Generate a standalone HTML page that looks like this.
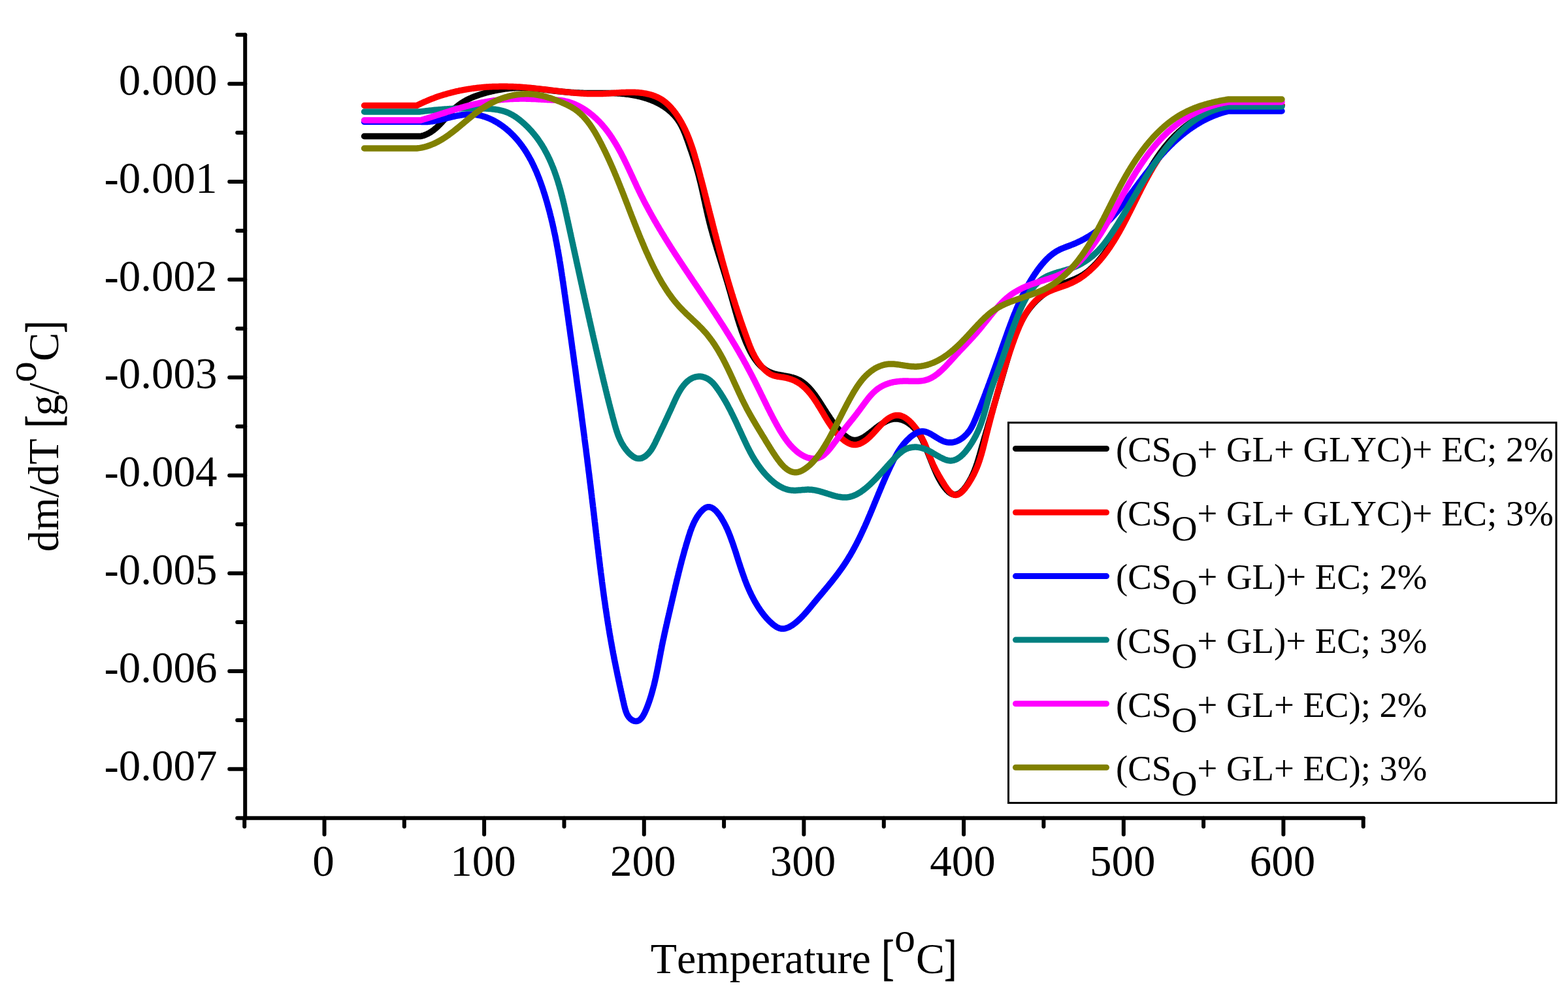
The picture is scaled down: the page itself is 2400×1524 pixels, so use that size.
<!DOCTYPE html>
<html><head><meta charset="utf-8"><style>
html,body{margin:0;padding:0;background:#fff;}
svg{display:block;}
text{font-family:"Liberation Serif","Times New Roman",serif;fill:#000;font-kerning:none;}
.tl{font-size:67px;}
.lg{font-size:54.7px;}
.br{font-size:67px;stroke:#000;stroke-width:0.8px;}
</style></head><body>
<svg width="2400" height="1524" viewBox="0 0 2400 1524" xmlns="http://www.w3.org/2000/svg">
<rect width="2400" height="1524" fill="#fff"/>
<g fill="none" stroke-width="9.5" stroke-linecap="round" stroke-linejoin="round">
<path d="M557.5,208.5 L644.0,208.5 L644.0,208.5 L645.5,208.1 L647.0,207.7 L648.5,207.3 L649.9,206.8 L651.3,206.2 L652.7,205.6 L654.1,205.0 L655.4,204.3 L656.7,203.6 L658.0,202.9 L659.3,202.1 L660.5,201.3 L661.7,200.4 L662.9,199.6 L664.1,198.7 L665.3,197.7 L666.4,196.8 L667.5,195.8 L668.7,194.8 L669.8,193.8 L670.9,192.7 L671.9,191.7 L673.0,190.6 L674.1,189.5 L675.1,188.4 L676.2,187.3 L677.2,186.1 L678.2,185.0 L679.3,183.9 L680.3,182.7 L681.3,181.6 L682.3,180.4 L683.4,179.3 L684.4,178.1 L685.4,177.0 L686.4,175.8 L687.4,174.7 L688.5,173.5 L689.5,172.4 L690.6,171.3 L691.6,170.2 L692.7,169.1 L693.8,168.1 L694.8,167.0 L695.9,166.0 L697.0,165.0 L698.2,164.0 L699.3,163.0 L700.4,162.1 L701.6,161.1 L702.8,160.2 L704.0,159.4 L705.2,158.5 L706.4,157.7 L707.7,156.9 L708.9,156.1 L710.2,155.4 L711.4,154.6 L712.7,153.9 L714.0,153.2 L715.3,152.5 L716.7,151.9 L718.0,151.2 L719.3,150.6 L720.7,150.0 L722.0,149.4 L723.4,148.8 L724.8,148.3 L726.2,147.7 L727.5,147.2 L728.9,146.7 L730.3,146.2 L731.8,145.7 L733.2,145.2 L734.6,144.8 L736.0,144.3 L737.4,143.9 L738.9,143.4 L740.3,143.0 L741.7,142.6 L743.2,142.2 L744.6,141.8 L746.1,141.4 L747.5,141.0 L749.0,140.6 L750.4,140.3 L751.9,139.9 L753.3,139.6 L754.8,139.3 L756.3,138.9 L757.7,138.6 L759.2,138.3 L760.7,138.0 L762.1,137.7 L763.6,137.5 L765.1,137.2 L766.6,137.0 L768.1,136.7 L769.5,136.5 L771.0,136.3 L772.5,136.1 L774.0,135.9 L775.5,135.7 L777.0,135.5 L778.5,135.4 L780.0,135.2 L781.5,135.1 L782.9,135.0 L784.4,134.8 L785.9,134.7 L787.4,134.7 L788.9,134.6 L790.4,134.5 L791.9,134.5 L793.4,134.4 L795.0,134.4 L796.5,134.4 L798.0,134.4 L799.5,134.4 L801.0,134.4 L802.5,134.5 L804.0,134.5 L805.5,134.6 L807.0,134.7 L808.5,134.7 L810.0,134.8 L811.5,134.9 L813.0,135.1 L814.5,135.2 L816.0,135.3 L817.5,135.5 L819.1,135.6 L820.6,135.7 L822.1,135.9 L823.6,136.1 L825.1,136.2 L826.6,136.4 L828.1,136.6 L829.6,136.7 L831.1,136.9 L832.6,137.1 L834.1,137.3 L835.6,137.5 L837.1,137.6 L838.6,137.8 L840.1,138.0 L841.6,138.2 L843.1,138.4 L844.6,138.5 L846.1,138.7 L847.5,138.9 L849.0,139.0 L850.5,139.2 L852.0,139.4 L853.5,139.5 L855.0,139.7 L856.5,139.8 L858.0,140.0 L859.4,140.1 L860.9,140.3 L862.4,140.4 L863.9,140.5 L865.4,140.7 L866.8,140.8 L868.3,140.9 L869.8,141.0 L871.3,141.2 L872.8,141.3 L874.3,141.4 L875.7,141.5 L877.2,141.6 L878.7,141.7 L880.2,141.8 L881.6,141.9 L883.1,141.9 L884.6,142.0 L886.1,142.1 L887.6,142.2 L889.0,142.2 L890.5,142.3 L892.0,142.3 L893.5,142.4 L895.0,142.4 L896.5,142.4 L897.9,142.5 L899.4,142.5 L900.9,142.5 L902.4,142.5 L903.9,142.5 L905.4,142.5 L906.8,142.5 L908.3,142.5 L909.8,142.5 L911.3,142.5 L912.8,142.5 L914.3,142.5 L915.8,142.5 L917.3,142.4 L918.8,142.4 L920.3,142.4 L921.8,142.4 L923.3,142.4 L924.8,142.4 L926.3,142.4 L927.8,142.4 L929.3,142.4 L930.8,142.4 L932.3,142.4 L933.8,142.4 L935.3,142.5 L936.8,142.5 L938.3,142.5 L939.9,142.6 L941.4,142.7 L942.9,142.7 L944.4,142.8 L945.9,142.9 L947.5,143.0 L949.0,143.1 L950.5,143.2 L952.0,143.4 L953.5,143.5 L955.1,143.6 L956.6,143.8 L958.1,144.0 L959.6,144.2 L961.1,144.4 L962.7,144.6 L964.2,144.8 L965.7,145.0 L967.2,145.3 L968.7,145.5 L970.2,145.8 L971.7,146.1 L973.2,146.4 L974.7,146.7 L976.2,147.0 L977.6,147.3 L979.1,147.7 L980.6,148.0 L982.0,148.4 L983.5,148.8 L985.0,149.2 L986.4,149.7 L987.8,150.1 L989.3,150.5 L990.7,151.0 L992.1,151.5 L993.5,152.0 L994.9,152.5 L996.3,153.0 L997.7,153.6 L999.1,154.2 L1000.5,154.7 L1001.8,155.3 L1003.2,156.0 L1004.5,156.6 L1005.8,157.2 L1007.1,157.9 L1008.5,158.6 L1009.8,159.3 L1011.0,160.0 L1012.3,160.8 L1013.6,161.5 L1014.8,162.3 L1016.1,163.1 L1017.3,163.9 L1018.5,164.8 L1019.7,165.6 L1020.9,166.5 L1022.1,167.4 L1023.2,168.3 L1024.4,169.3 L1025.5,170.2 L1026.6,171.2 L1027.7,172.2 L1028.7,173.2 L1029.8,174.3 L1030.8,175.3 L1031.8,176.4 L1032.8,177.5 L1033.7,178.6 L1034.7,179.7 L1035.5,180.8 L1036.4,181.9 L1037.3,183.1 L1038.1,184.3 L1038.9,185.5 L1039.6,186.7 L1040.4,187.9 L1041.1,189.1 L1041.8,190.4 L1042.5,191.6 L1043.2,192.9 L1043.8,194.2 L1044.5,195.5 L1045.1,196.8 L1045.7,198.1 L1046.3,199.4 L1046.8,200.8 L1047.4,202.1 L1048.0,203.5 L1048.5,204.8 L1049.1,206.2 L1049.6,207.6 L1050.1,209.0 L1050.6,210.4 L1051.1,211.8 L1051.7,213.2 L1052.2,214.7 L1052.7,216.1 L1053.2,217.6 L1053.7,219.0 L1054.2,220.5 L1054.7,221.9 L1055.2,223.4 L1055.7,224.8 L1056.2,226.3 L1056.7,227.8 L1057.2,229.3 L1057.8,230.8 L1058.3,232.3 L1058.8,233.8 L1059.3,235.3 L1059.8,236.8 L1060.3,238.3 L1060.8,239.8 L1061.2,241.3 L1061.7,242.8 L1062.2,244.3 L1062.7,245.8 L1063.2,247.3 L1063.6,248.8 L1064.1,250.3 L1064.6,251.8 L1065.0,253.3 L1065.5,254.8 L1065.9,256.3 L1066.4,257.8 L1066.8,259.3 L1067.2,260.8 L1067.7,262.3 L1068.1,263.8 L1068.5,265.3 L1068.9,266.8 L1069.3,268.3 L1069.7,269.8 L1070.1,271.3 L1070.4,272.7 L1070.8,274.2 L1071.2,275.7 L1071.5,277.1 L1071.9,278.6 L1072.3,280.1 L1072.6,281.5 L1073.0,283.0 L1073.3,284.5 L1073.6,285.9 L1074.0,287.4 L1074.3,288.8 L1074.6,290.3 L1075.0,291.7 L1075.3,293.2 L1075.6,294.6 L1075.9,296.1 L1076.3,297.5 L1076.6,299.0 L1076.9,300.4 L1077.2,301.8 L1077.5,303.3 L1077.8,304.7 L1078.1,306.2 L1078.5,307.6 L1078.8,309.0 L1079.1,310.5 L1079.4,311.9 L1079.7,313.3 L1080.0,314.8 L1080.3,316.2 L1080.6,317.6 L1081.0,319.1 L1081.3,320.5 L1081.6,321.9 L1081.9,323.3 L1082.2,324.8 L1082.6,326.2 L1082.9,327.6 L1083.2,329.1 L1083.5,330.5 L1083.9,331.9 L1084.2,333.3 L1084.6,334.8 L1084.9,336.2 L1085.3,337.6 L1085.6,339.1 L1086.0,340.5 L1086.3,341.9 L1086.7,343.3 L1087.1,344.8 L1087.4,346.2 L1087.8,347.6 L1088.2,349.1 L1088.6,350.5 L1089.0,351.9 L1089.4,353.4 L1089.8,354.8 L1090.2,356.2 L1090.6,357.7 L1091.0,359.1 L1091.4,360.5 L1091.8,362.0 L1092.2,363.4 L1092.6,364.8 L1093.0,366.3 L1093.4,367.7 L1093.9,369.2 L1094.3,370.6 L1094.7,372.0 L1095.2,373.5 L1095.6,374.9 L1096.0,376.3 L1096.5,377.8 L1096.9,379.2 L1097.3,380.7 L1097.8,382.1 L1098.2,383.5 L1098.7,385.0 L1099.1,386.4 L1099.6,387.8 L1100.0,389.3 L1100.5,390.7 L1100.9,392.2 L1101.4,393.6 L1101.8,395.0 L1102.3,396.5 L1102.7,397.9 L1103.2,399.4 L1103.6,400.8 L1104.1,402.2 L1104.5,403.7 L1105.0,405.1 L1105.4,406.6 L1105.9,408.0 L1106.3,409.5 L1106.8,410.9 L1107.2,412.3 L1107.7,413.8 L1108.1,415.2 L1108.6,416.7 L1109.0,418.1 L1109.5,419.5 L1109.9,421.0 L1110.3,422.4 L1110.8,423.9 L1111.2,425.3 L1111.7,426.7 L1112.1,428.2 L1112.5,429.6 L1113.0,431.1 L1113.4,432.5 L1113.8,434.0 L1114.3,435.4 L1114.7,436.8 L1115.1,438.3 L1115.5,439.7 L1115.9,441.2 L1116.3,442.6 L1116.8,444.0 L1117.2,445.5 L1117.6,446.9 L1118.0,448.4 L1118.4,449.8 L1118.8,451.2 L1119.2,452.7 L1119.6,454.1 L1120.0,455.6 L1120.4,457.0 L1120.8,458.4 L1121.2,459.9 L1121.6,461.3 L1122.0,462.7 L1122.4,464.2 L1122.8,465.6 L1123.2,467.1 L1123.6,468.5 L1124.0,469.9 L1124.4,471.4 L1124.8,472.8 L1125.2,474.2 L1125.6,475.7 L1126.0,477.1 L1126.5,478.6 L1126.9,480.0 L1127.3,481.4 L1127.7,482.9 L1128.1,484.3 L1128.6,485.7 L1129.0,487.2 L1129.4,488.6 L1129.9,490.0 L1130.3,491.5 L1130.8,492.9 L1131.2,494.3 L1131.7,495.8 L1132.1,497.2 L1132.6,498.6 L1133.1,500.0 L1133.6,501.5 L1134.1,502.9 L1134.5,504.3 L1135.0,505.8 L1135.5,507.2 L1136.0,508.6 L1136.6,510.1 L1137.1,511.5 L1137.6,512.9 L1138.2,514.3 L1138.7,515.8 L1139.2,517.2 L1139.8,518.6 L1140.4,520.0 L1140.9,521.5 L1141.5,522.9 L1142.1,524.3 L1142.7,525.7 L1143.3,527.1 L1144.0,528.5 L1144.6,529.9 L1145.2,531.3 L1145.9,532.7 L1146.6,534.1 L1147.2,535.5 L1147.9,536.8 L1148.6,538.2 L1149.3,539.5 L1150.1,540.9 L1150.8,542.2 L1151.6,543.5 L1152.4,544.8 L1153.2,546.0 L1154.0,547.3 L1154.8,548.5 L1155.6,549.7 L1156.5,550.9 L1157.4,552.1 L1158.3,553.2 L1159.2,554.4 L1160.1,555.5 L1161.0,556.5 L1162.0,557.6 L1163.0,558.6 L1164.0,559.6 L1165.0,560.6 L1166.1,561.5 L1167.2,562.4 L1168.3,563.3 L1169.4,564.2 L1170.5,565.0 L1171.7,565.8 L1172.9,566.5 L1174.1,567.3 L1175.3,567.9 L1176.6,568.6 L1177.9,569.2 L1179.2,569.8 L1180.5,570.3 L1181.9,570.8 L1183.3,571.2 L1184.7,571.7 L1186.1,572.1 L1187.6,572.4 L1189.0,572.8 L1190.5,573.1 L1192.0,573.4 L1193.5,573.7 L1195.0,574.0 L1196.5,574.3 L1198.0,574.5 L1199.5,574.8 L1201.1,575.1 L1202.6,575.3 L1204.1,575.6 L1205.6,575.9 L1207.1,576.2 L1208.6,576.5 L1210.1,576.9 L1211.6,577.3 L1213.0,577.6 L1214.5,578.1 L1215.9,578.5 L1217.3,579.0 L1218.7,579.5 L1220.1,580.1 L1221.4,580.7 L1222.7,581.3 L1224.0,582.0 L1225.3,582.7 L1226.5,583.5 L1227.7,584.3 L1228.9,585.1 L1230.1,586.0 L1231.3,586.9 L1232.4,587.8 L1233.5,588.8 L1234.6,589.8 L1235.7,590.8 L1236.8,591.8 L1237.9,592.9 L1238.9,594.0 L1239.9,595.1 L1240.9,596.3 L1241.9,597.4 L1242.9,598.6 L1243.8,599.8 L1244.8,601.0 L1245.7,602.2 L1246.7,603.4 L1247.6,604.7 L1248.5,605.9 L1249.4,607.2 L1250.3,608.5 L1251.2,609.8 L1252.0,611.1 L1252.9,612.3 L1253.8,613.6 L1254.6,614.9 L1255.5,616.2 L1256.3,617.5 L1257.1,618.8 L1258.0,620.1 L1258.8,621.5 L1259.6,622.8 L1260.5,624.1 L1261.3,625.4 L1262.1,626.7 L1263.0,628.0 L1263.8,629.3 L1264.6,630.6 L1265.5,631.9 L1266.3,633.2 L1267.1,634.5 L1268.0,635.8 L1268.8,637.0 L1269.7,638.3 L1270.5,639.6 L1271.4,640.9 L1272.3,642.1 L1273.2,643.4 L1274.0,644.7 L1274.9,645.9 L1275.8,647.1 L1276.8,648.4 L1277.7,649.6 L1278.6,650.8 L1279.6,652.0 L1280.5,653.2 L1281.5,654.4 L1282.5,655.6 L1283.5,656.8 L1284.5,657.9 L1285.5,659.1 L1286.6,660.2 L1287.6,661.4 L1288.7,662.5 L1289.8,663.5 L1290.9,664.6 L1292.0,665.6 L1293.2,666.6 L1294.3,667.5 L1295.5,668.4 L1296.6,669.3 L1297.8,670.0 L1299.0,670.8 L1300.2,671.4 L1301.5,672.0 L1302.7,672.4 L1303.9,672.8 L1305.2,673.1 L1306.5,673.3 L1307.7,673.4 L1309.0,673.4 L1310.3,673.3 L1311.6,673.1 L1312.9,672.9 L1314.2,672.5 L1315.5,672.1 L1316.8,671.5 L1318.2,670.9 L1319.5,670.3 L1320.8,669.6 L1322.2,668.8 L1323.5,668.0 L1324.8,667.1 L1326.2,666.2 L1327.5,665.2 L1328.9,664.2 L1330.3,663.2 L1331.6,662.2 L1333.0,661.1 L1334.3,660.0 L1335.7,658.9 L1337.0,657.8 L1338.4,656.8 L1339.7,655.7 L1341.1,654.6 L1342.4,653.6 L1343.8,652.6 L1345.1,651.6 L1346.5,650.6 L1347.8,649.7 L1349.1,648.8 L1350.5,648.0 L1351.8,647.2 L1353.1,646.4 L1354.5,645.7 L1355.8,645.0 L1357.1,644.4 L1358.4,643.8 L1359.7,643.2 L1361.1,642.7 L1362.4,642.3 L1363.7,641.9 L1365.0,641.6 L1366.3,641.3 L1367.7,641.1 L1369.0,641.0 L1370.3,640.9 L1371.6,640.9 L1372.9,640.9 L1374.3,641.0 L1375.6,641.2 L1376.9,641.5 L1378.2,641.8 L1379.5,642.1 L1380.9,642.6 L1382.2,643.0 L1383.5,643.6 L1384.8,644.2 L1386.1,644.8 L1387.3,645.5 L1388.6,646.3 L1389.9,647.1 L1391.1,647.9 L1392.3,648.8 L1393.5,649.8 L1394.7,650.7 L1395.9,651.7 L1397.0,652.8 L1398.1,653.9 L1399.2,655.0 L1400.3,656.1 L1401.4,657.3 L1402.4,658.5 L1403.4,659.7 L1404.3,661.0 L1405.3,662.2 L1406.2,663.5 L1407.0,664.9 L1407.9,666.2 L1408.7,667.5 L1409.5,668.9 L1410.2,670.2 L1411.0,671.6 L1411.7,673.0 L1412.4,674.4 L1413.0,675.8 L1413.7,677.2 L1414.3,678.6 L1414.9,680.0 L1415.5,681.4 L1416.1,682.8 L1416.7,684.1 L1417.3,685.5 L1417.8,686.9 L1418.4,688.2 L1418.9,689.6 L1419.4,690.9 L1420.0,692.2 L1420.5,693.5 L1421.0,694.8 L1421.6,696.1 L1422.1,697.5 L1422.6,698.8 L1423.1,700.1 L1423.7,701.4 L1424.2,702.7 L1424.7,704.1 L1425.2,705.4 L1425.8,706.7 L1426.3,708.1 L1426.9,709.5 L1427.4,710.8 L1428.0,712.2 L1428.6,713.7 L1429.2,715.1 L1429.8,716.5 L1430.4,718.0 L1431.0,719.5 L1431.7,720.9 L1432.3,722.4 L1433.0,723.9 L1433.7,725.4 L1434.4,726.9 L1435.1,728.4 L1435.9,729.9 L1436.6,731.4 L1437.4,732.8 L1438.2,734.3 L1439.1,735.8 L1439.9,737.3 L1440.8,738.7 L1441.7,740.2 L1442.7,741.6 L1443.6,743.0 L1444.6,744.4 L1445.6,745.7 L1446.6,747.0 L1447.7,748.3 L1448.7,749.5 L1449.8,750.6 L1450.9,751.6 L1451.9,752.6 L1453.1,753.5 L1454.2,754.3 L1455.3,755.0 L1456.4,755.6 L1457.6,756.1 L1458.7,756.4 L1459.8,756.7 L1461.0,756.8 L1462.1,756.8 L1463.3,756.7 L1464.4,756.4 L1465.6,756.0 L1466.7,755.5 L1467.8,755.0 L1469.0,754.3 L1470.1,753.5 L1471.2,752.6 L1472.3,751.6 L1473.3,750.5 L1474.4,749.4 L1475.5,748.2 L1476.5,746.9 L1477.5,745.6 L1478.5,744.3 L1479.5,742.9 L1480.4,741.5 L1481.3,740.1 L1482.2,738.7 L1483.1,737.2 L1483.9,735.8 L1484.7,734.4 L1485.5,732.9 L1486.3,731.5 L1487.0,730.1 L1487.7,728.6 L1488.4,727.2 L1489.1,725.7 L1489.7,724.3 L1490.3,722.9 L1490.9,721.4 L1491.5,720.0 L1492.1,718.5 L1492.6,717.1 L1493.2,715.7 L1493.7,714.2 L1494.2,712.8 L1494.7,711.3 L1495.2,709.9 L1495.7,708.5 L1496.1,707.0 L1496.6,705.6 L1497.0,704.1 L1497.5,702.7 L1497.9,701.3 L1498.3,699.8 L1498.7,698.4 L1499.2,697.0 L1499.6,695.5 L1500.0,694.1 L1500.4,692.6 L1500.8,691.2 L1501.2,689.8 L1501.6,688.3 L1502.0,686.9 L1502.4,685.5 L1502.8,684.0 L1503.2,682.6 L1503.6,681.2 L1504.1,679.8 L1504.5,678.3 L1504.9,676.9 L1505.3,675.5 L1505.7,674.0 L1506.1,672.6 L1506.5,671.2 L1506.9,669.8 L1507.3,668.3 L1507.8,666.9 L1508.2,665.5 L1508.6,664.1 L1509.0,662.6 L1509.4,661.2 L1509.8,659.8 L1510.2,658.4 L1510.7,656.9 L1511.1,655.5 L1511.5,654.1 L1511.9,652.7 L1512.3,651.2 L1512.7,649.8 L1513.1,648.4 L1513.6,647.0 L1514.0,645.6 L1514.4,644.1 L1514.8,642.7 L1515.2,641.3 L1515.6,639.9 L1516.1,638.4 L1516.5,637.0 L1516.9,635.6 L1517.3,634.2 L1517.7,632.7 L1518.2,631.3 L1518.6,629.9 L1519.0,628.5 L1519.4,627.0 L1519.8,625.6 L1520.2,624.2 L1520.7,622.8 L1521.1,621.3 L1521.5,619.9 L1521.9,618.5 L1522.3,617.1 L1522.8,615.6 L1523.2,614.2 L1523.6,612.8 L1524.0,611.4 L1524.4,609.9 L1524.9,608.5 L1525.3,607.1 L1525.7,605.6 L1526.1,604.2 L1526.5,602.8 L1527.0,601.3 L1527.4,599.9 L1527.8,598.5 L1528.2,597.0 L1528.6,595.6 L1529.1,594.2 L1529.5,592.7 L1529.9,591.3 L1530.3,589.8 L1530.8,588.4 L1531.2,587.0 L1531.6,585.5 L1532.0,584.1 L1532.4,582.6 L1532.9,581.2 L1533.3,579.7 L1533.7,578.3 L1534.1,576.8 L1534.5,575.4 L1535.0,573.9 L1535.4,572.5 L1535.8,571.0 L1536.2,569.6 L1536.7,568.1 L1537.1,566.7 L1537.5,565.2 L1537.9,563.7 L1538.3,562.3 L1538.8,560.8 L1539.2,559.3 L1539.6,557.9 L1540.0,556.4 L1540.4,555.0 L1540.9,553.5 L1541.3,552.0 L1541.7,550.5 L1542.1,549.1 L1542.6,547.6 L1543.0,546.1 L1543.4,544.7 L1543.9,543.2 L1544.3,541.7 L1544.7,540.3 L1545.2,538.8 L1545.6,537.3 L1546.1,535.9 L1546.5,534.4 L1547.0,533.0 L1547.4,531.5 L1547.9,530.1 L1548.4,528.6 L1548.9,527.2 L1549.3,525.7 L1549.8,524.3 L1550.3,522.8 L1550.8,521.4 L1551.3,520.0 L1551.8,518.5 L1552.4,517.1 L1552.9,515.7 L1553.4,514.3 L1554.0,512.9 L1554.5,511.5 L1555.1,510.0 L1555.6,508.7 L1556.2,507.3 L1556.8,505.9 L1557.4,504.5 L1558.0,503.1 L1558.6,501.7 L1559.2,500.4 L1559.8,499.0 L1560.4,497.7 L1561.1,496.3 L1561.7,495.0 L1562.4,493.7 L1563.1,492.3 L1563.8,491.0 L1564.5,489.7 L1565.2,488.4 L1565.9,487.1 L1566.7,485.9 L1567.4,484.6 L1568.2,483.3 L1568.9,482.1 L1569.7,480.8 L1570.5,479.6 L1571.3,478.3 L1572.2,477.1 L1573.0,475.9 L1573.9,474.7 L1574.7,473.5 L1575.6,472.3 L1576.5,471.2 L1577.4,470.0 L1578.4,468.9 L1579.3,467.7 L1580.3,466.6 L1581.2,465.5 L1582.2,464.4 L1583.2,463.3 L1584.3,462.2 L1585.3,461.1 L1586.4,460.1 L1587.5,459.0 L1588.5,458.0 L1589.7,457.0 L1590.8,456.0 L1591.9,455.0 L1593.1,454.0 L1594.2,453.1 L1595.4,452.1 L1596.6,451.2 L1597.8,450.3 L1599.1,449.4 L1600.3,448.5 L1601.5,447.6 L1602.8,446.7 L1604.0,445.9 L1605.3,445.1 L1606.6,444.3 L1607.9,443.5 L1609.2,442.7 L1610.5,441.9 L1611.8,441.2 L1613.1,440.5 L1614.5,439.8 L1615.8,439.1 L1617.1,438.4 L1618.5,437.8 L1619.8,437.1 L1621.2,436.5 L1622.5,435.9 L1623.9,435.3 L1625.2,434.8 L1626.6,434.2 L1627.9,433.7 L1629.3,433.1 L1630.7,432.6 L1632.0,432.1 L1633.4,431.6 L1634.7,431.1 L1636.1,430.5 L1637.5,430.0 L1638.8,429.5 L1640.2,429.0 L1641.5,428.4 L1642.9,427.9 L1644.2,427.3 L1645.5,426.7 L1646.9,426.2 L1648.2,425.5 L1649.5,424.9 L1650.8,424.3 L1652.1,423.6 L1653.4,422.9 L1654.7,422.2 L1656.0,421.5 L1657.3,420.7 L1658.6,419.9 L1659.8,419.0 L1661.1,418.2 L1662.3,417.2 L1663.6,416.3 L1664.8,415.3 L1666.0,414.3 L1667.2,413.3 L1668.4,412.3 L1669.5,411.2 L1670.7,410.2 L1671.8,409.1 L1673.0,408.0 L1674.1,406.9 L1675.2,405.7 L1676.3,404.6 L1677.4,403.5 L1678.4,402.4 L1679.5,401.2 L1680.5,400.1 L1681.5,398.9 L1682.5,397.8 L1683.5,396.6 L1684.4,395.4 L1685.4,394.3 L1686.4,393.1 L1687.3,391.9 L1688.2,390.7 L1689.1,389.5 L1690.0,388.4 L1690.9,387.2 L1691.8,386.0 L1692.6,384.7 L1693.5,383.5 L1694.3,382.3 L1695.2,381.1 L1696.0,379.9 L1696.8,378.7 L1697.6,377.4 L1698.4,376.2 L1699.2,375.0 L1700.0,373.7 L1700.8,372.5 L1701.5,371.2 L1702.3,370.0 L1703.0,368.7 L1703.8,367.5 L1704.5,366.2 L1705.3,364.9 L1706.0,363.6 L1706.7,362.4 L1707.4,361.1 L1708.1,359.8 L1708.9,358.5 L1709.6,357.2 L1710.3,355.9 L1711.0,354.6 L1711.7,353.3 L1712.3,352.0 L1713.0,350.7 L1713.7,349.4 L1714.4,348.1 L1715.1,346.8 L1715.8,345.5 L1716.5,344.1 L1717.1,342.8 L1717.8,341.5 L1718.5,340.2 L1719.1,338.8 L1719.8,337.5 L1720.5,336.2 L1721.1,334.8 L1721.8,333.5 L1722.5,332.1 L1723.1,330.8 L1723.8,329.4 L1724.5,328.1 L1725.1,326.7 L1725.8,325.4 L1726.4,324.0 L1727.1,322.7 L1727.7,321.3 L1728.4,320.0 L1729.1,318.6 L1729.7,317.3 L1730.4,315.9 L1731.0,314.5 L1731.7,313.2 L1732.3,311.8 L1733.0,310.5 L1733.7,309.1 L1734.3,307.7 L1735.0,306.4 L1735.6,305.0 L1736.3,303.7 L1737.0,302.3 L1737.6,301.0 L1738.3,299.6 L1739.0,298.2 L1739.6,296.9 L1740.3,295.5 L1741.0,294.2 L1741.6,292.8 L1742.3,291.5 L1743.0,290.1 L1743.7,288.8 L1744.3,287.4 L1745.0,286.1 L1745.7,284.7 L1746.4,283.4 L1747.1,282.0 L1747.8,280.7 L1748.5,279.3 L1749.2,278.0 L1749.9,276.7 L1750.6,275.3 L1751.3,274.0 L1752.0,272.7 L1752.7,271.3 L1753.5,270.0 L1754.2,268.7 L1754.9,267.4 L1755.6,266.1 L1756.4,264.8 L1757.1,263.4 L1757.9,262.1 L1758.6,260.8 L1759.4,259.5 L1760.1,258.2 L1760.9,257.0 L1761.7,255.7 L1762.4,254.4 L1763.2,253.1 L1764.0,251.8 L1764.8,250.6 L1765.6,249.3 L1766.4,248.0 L1767.2,246.8 L1768.0,245.5 L1768.8,244.3 L1769.6,243.0 L1770.5,241.8 L1771.3,240.5 L1772.1,239.3 L1773.0,238.1 L1773.8,236.9 L1774.7,235.6 L1775.6,234.4 L1776.4,233.2 L1777.3,232.0 L1778.2,230.8 L1779.1,229.7 L1780.0,228.5 L1780.9,227.3 L1781.8,226.1 L1782.7,225.0 L1783.7,223.8 L1784.6,222.7 L1785.6,221.5 L1786.5,220.4 L1787.5,219.2 L1788.5,218.1 L1789.4,217.0 L1790.4,215.9 L1791.4,214.8 L1792.4,213.7 L1793.4,212.6 L1794.5,211.5 L1795.5,210.5 L1796.5,209.4 L1797.6,208.3 L1798.6,207.3 L1799.7,206.2 L1800.8,205.2 L1801.9,204.2 L1803.0,203.2 L1804.1,202.1 L1805.2,201.1 L1806.3,200.2 L1807.5,199.2 L1808.6,198.2 L1809.8,197.2 L1810.9,196.3 L1812.1,195.3 L1813.3,194.4 L1814.4,193.4 L1815.6,192.5 L1816.8,191.6 L1818.1,190.7 L1819.3,189.8 L1820.5,188.9 L1821.7,188.0 L1823.0,187.2 L1824.2,186.3 L1825.5,185.5 L1826.7,184.6 L1828.0,183.8 L1829.3,183.0 L1830.6,182.2 L1831.9,181.4 L1833.2,180.6 L1834.5,179.9 L1835.8,179.1 L1837.1,178.3 L1838.4,177.6 L1839.7,176.9 L1841.1,176.2 L1842.4,175.4 L1843.7,174.8 L1845.1,174.1 L1846.4,173.4 L1847.8,172.7 L1849.2,172.1 L1850.5,171.4 L1851.9,170.8 L1853.3,170.2 L1854.6,169.6 L1856.0,169.0 L1857.4,168.4 L1858.8,167.9 L1860.2,167.3 L1861.6,166.8 L1863.0,166.3 L1864.4,165.8 L1865.8,165.3 L1867.2,164.8 L1868.6,164.3 L1870.0,163.8 L1871.5,163.4 L1872.9,163.0 L1874.3,162.5 L1875.7,162.1 L1877.1,161.7 L1878.6,161.4 L1880.0,161.0 L1962.0,161.0" stroke="#000000"/>
<path d="M557.5,161.5 L638.0,161.5 L638.0,161.5 L639.4,160.8 L640.8,160.1 L642.1,159.4 L643.5,158.8 L644.9,158.1 L646.3,157.5 L647.7,156.8 L649.1,156.2 L650.5,155.6 L651.9,155.0 L653.3,154.4 L654.7,153.8 L656.1,153.2 L657.5,152.6 L658.9,152.0 L660.3,151.5 L661.7,150.9 L663.2,150.4 L664.6,149.9 L666.0,149.3 L667.4,148.8 L668.8,148.3 L670.3,147.8 L671.7,147.3 L673.1,146.9 L674.5,146.4 L676.0,145.9 L677.4,145.5 L678.8,145.0 L680.3,144.6 L681.7,144.2 L683.2,143.8 L684.6,143.4 L686.0,142.9 L687.5,142.6 L688.9,142.2 L690.4,141.8 L691.8,141.4 L693.3,141.1 L694.7,140.7 L696.2,140.4 L697.6,140.0 L699.1,139.7 L700.6,139.4 L702.0,139.1 L703.5,138.7 L704.9,138.4 L706.4,138.2 L707.9,137.9 L709.3,137.6 L710.8,137.3 L712.3,137.1 L713.7,136.8 L715.2,136.6 L716.7,136.3 L718.2,136.1 L719.6,135.9 L721.1,135.7 L722.6,135.4 L724.1,135.2 L725.5,135.0 L727.0,134.9 L728.5,134.7 L730.0,134.5 L731.5,134.3 L732.9,134.2 L734.4,134.0 L735.9,133.9 L737.4,133.7 L738.9,133.6 L740.4,133.5 L741.9,133.3 L743.3,133.2 L744.8,133.1 L746.3,133.0 L747.8,132.9 L749.3,132.8 L750.8,132.8 L752.3,132.7 L753.8,132.6 L755.3,132.6 L756.8,132.5 L758.2,132.5 L759.7,132.4 L761.2,132.4 L762.7,132.4 L764.2,132.3 L765.7,132.3 L767.2,132.3 L768.7,132.3 L770.2,132.3 L771.7,132.3 L773.2,132.3 L774.7,132.3 L776.2,132.3 L777.7,132.4 L779.2,132.4 L780.7,132.4 L782.2,132.5 L783.7,132.5 L785.2,132.6 L786.7,132.7 L788.2,132.7 L789.6,132.8 L791.1,132.9 L792.6,133.0 L794.1,133.0 L795.6,133.1 L797.1,133.2 L798.6,133.3 L800.1,133.4 L801.6,133.6 L803.1,133.7 L804.6,133.8 L806.1,133.9 L807.6,134.1 L809.1,134.2 L810.6,134.3 L812.1,134.5 L813.6,134.6 L815.1,134.8 L816.6,134.9 L818.0,135.1 L819.5,135.3 L821.0,135.4 L822.5,135.6 L824.0,135.8 L825.5,135.9 L827.0,136.1 L828.5,136.3 L830.0,136.4 L831.5,136.6 L833.0,136.8 L834.5,137.0 L836.0,137.2 L837.4,137.3 L838.9,137.5 L840.4,137.7 L841.9,137.9 L843.4,138.1 L844.9,138.3 L846.4,138.4 L847.9,138.6 L849.4,138.8 L850.9,139.0 L852.4,139.2 L853.9,139.4 L855.3,139.5 L856.8,139.7 L858.3,139.9 L859.8,140.1 L861.3,140.2 L862.8,140.4 L864.3,140.6 L865.8,140.7 L867.3,140.9 L868.8,141.1 L870.3,141.2 L871.8,141.4 L873.2,141.5 L874.7,141.7 L876.2,141.8 L877.7,141.9 L879.2,142.1 L880.7,142.2 L882.2,142.3 L883.7,142.4 L885.2,142.6 L886.7,142.7 L888.2,142.8 L889.7,142.9 L891.2,143.0 L892.7,143.1 L894.2,143.2 L895.7,143.2 L897.2,143.3 L898.6,143.4 L900.1,143.4 L901.6,143.5 L903.1,143.5 L904.6,143.6 L906.1,143.6 L907.6,143.6 L909.1,143.6 L910.6,143.6 L912.1,143.6 L913.6,143.6 L915.1,143.6 L916.6,143.6 L918.1,143.6 L919.6,143.5 L921.1,143.5 L922.6,143.4 L924.1,143.3 L925.6,143.3 L927.1,143.2 L928.6,143.1 L930.1,143.0 L931.6,142.9 L933.1,142.8 L934.6,142.7 L936.1,142.6 L937.6,142.5 L939.2,142.4 L940.7,142.3 L942.2,142.2 L943.7,142.1 L945.2,142.0 L946.7,141.9 L948.2,141.8 L949.7,141.7 L951.2,141.6 L952.7,141.6 L954.2,141.5 L955.7,141.4 L957.2,141.4 L958.7,141.3 L960.2,141.3 L961.7,141.2 L963.1,141.2 L964.6,141.2 L966.1,141.2 L967.6,141.2 L969.1,141.2 L970.6,141.3 L972.1,141.3 L973.6,141.4 L975.1,141.5 L976.6,141.6 L978.1,141.7 L979.5,141.9 L981.0,142.0 L982.5,142.2 L984.0,142.4 L985.5,142.7 L986.9,142.9 L988.4,143.2 L989.9,143.5 L991.4,143.8 L992.8,144.1 L994.3,144.5 L995.7,144.9 L997.1,145.3 L998.6,145.7 L1000.0,146.2 L1001.4,146.7 L1002.8,147.2 L1004.1,147.8 L1005.5,148.4 L1006.8,149.0 L1008.2,149.7 L1009.5,150.4 L1010.8,151.1 L1012.0,151.8 L1013.3,152.6 L1014.5,153.5 L1015.7,154.3 L1016.9,155.2 L1018.1,156.1 L1019.2,157.0 L1020.3,158.0 L1021.4,159.0 L1022.5,160.0 L1023.6,161.0 L1024.7,162.1 L1025.7,163.2 L1026.7,164.3 L1027.8,165.4 L1028.7,166.6 L1029.7,167.7 L1030.7,168.9 L1031.6,170.1 L1032.5,171.3 L1033.5,172.5 L1034.4,173.7 L1035.2,175.0 L1036.1,176.2 L1037.0,177.5 L1037.8,178.8 L1038.6,180.0 L1039.4,181.3 L1040.2,182.6 L1041.0,183.9 L1041.8,185.2 L1042.5,186.5 L1043.3,187.8 L1044.0,189.2 L1044.7,190.5 L1045.4,191.8 L1046.1,193.2 L1046.8,194.5 L1047.5,195.9 L1048.1,197.2 L1048.8,198.6 L1049.4,199.9 L1050.0,201.3 L1050.7,202.7 L1051.3,204.1 L1051.9,205.4 L1052.4,206.8 L1053.0,208.2 L1053.6,209.6 L1054.2,211.0 L1054.7,212.4 L1055.2,213.8 L1055.8,215.2 L1056.3,216.6 L1056.8,218.0 L1057.3,219.5 L1057.8,220.9 L1058.3,222.3 L1058.8,223.7 L1059.3,225.2 L1059.8,226.6 L1060.2,228.0 L1060.7,229.5 L1061.2,230.9 L1061.6,232.3 L1062.1,233.8 L1062.5,235.2 L1062.9,236.7 L1063.4,238.1 L1063.8,239.6 L1064.2,241.0 L1064.6,242.5 L1065.1,243.9 L1065.5,245.4 L1065.9,246.8 L1066.3,248.3 L1066.7,249.7 L1067.1,251.2 L1067.5,252.6 L1067.9,254.1 L1068.3,255.6 L1068.7,257.0 L1069.1,258.5 L1069.5,259.9 L1069.8,261.4 L1070.2,262.8 L1070.6,264.3 L1071.0,265.7 L1071.4,267.2 L1071.8,268.6 L1072.1,270.1 L1072.5,271.6 L1072.9,273.0 L1073.3,274.5 L1073.7,275.9 L1074.0,277.4 L1074.4,278.8 L1074.8,280.3 L1075.2,281.7 L1075.6,283.1 L1075.9,284.6 L1076.3,286.0 L1076.7,287.5 L1077.1,288.9 L1077.4,290.4 L1077.8,291.8 L1078.2,293.3 L1078.5,294.7 L1078.9,296.2 L1079.3,297.6 L1079.7,299.1 L1080.0,300.5 L1080.4,301.9 L1080.8,303.4 L1081.1,304.8 L1081.5,306.3 L1081.9,307.7 L1082.2,309.2 L1082.6,310.6 L1083.0,312.0 L1083.3,313.5 L1083.7,314.9 L1084.1,316.4 L1084.4,317.8 L1084.8,319.3 L1085.2,320.7 L1085.5,322.1 L1085.9,323.6 L1086.3,325.0 L1086.6,326.5 L1087.0,327.9 L1087.4,329.3 L1087.8,330.8 L1088.1,332.2 L1088.5,333.7 L1088.9,335.1 L1089.2,336.6 L1089.6,338.0 L1090.0,339.4 L1090.3,340.9 L1090.7,342.3 L1091.1,343.8 L1091.4,345.2 L1091.8,346.6 L1092.2,348.1 L1092.5,349.5 L1092.9,351.0 L1093.3,352.4 L1093.7,353.8 L1094.0,355.3 L1094.4,356.7 L1094.8,358.2 L1095.2,359.6 L1095.5,361.0 L1095.9,362.5 L1096.3,363.9 L1096.7,365.4 L1097.0,366.8 L1097.4,368.2 L1097.8,369.7 L1098.2,371.1 L1098.5,372.6 L1098.9,374.0 L1099.3,375.5 L1099.7,376.9 L1100.1,378.3 L1100.5,379.8 L1100.8,381.2 L1101.2,382.7 L1101.6,384.1 L1102.0,385.6 L1102.4,387.0 L1102.8,388.4 L1103.2,389.9 L1103.6,391.3 L1104.0,392.8 L1104.3,394.2 L1104.7,395.7 L1105.1,397.1 L1105.5,398.6 L1105.9,400.0 L1106.3,401.5 L1106.7,402.9 L1107.1,404.3 L1107.5,405.8 L1107.9,407.2 L1108.3,408.7 L1108.8,410.1 L1109.2,411.6 L1109.6,413.0 L1110.0,414.5 L1110.4,415.9 L1110.8,417.4 L1111.2,418.8 L1111.6,420.3 L1112.1,421.7 L1112.5,423.2 L1112.9,424.6 L1113.3,426.1 L1113.7,427.6 L1114.2,429.0 L1114.6,430.5 L1115.0,431.9 L1115.5,433.4 L1115.9,434.8 L1116.3,436.3 L1116.8,437.7 L1117.2,439.2 L1117.6,440.7 L1118.1,442.1 L1118.5,443.6 L1119.0,445.0 L1119.4,446.5 L1119.9,448.0 L1120.3,449.4 L1120.8,450.9 L1121.2,452.3 L1121.7,453.8 L1122.1,455.3 L1122.6,456.7 L1123.0,458.2 L1123.5,459.6 L1124.0,461.1 L1124.4,462.5 L1124.9,464.0 L1125.4,465.5 L1125.8,466.9 L1126.3,468.4 L1126.8,469.8 L1127.3,471.3 L1127.7,472.7 L1128.2,474.2 L1128.7,475.6 L1129.2,477.1 L1129.6,478.5 L1130.1,480.0 L1130.6,481.4 L1131.1,482.8 L1131.6,484.3 L1132.1,485.7 L1132.5,487.2 L1133.0,488.6 L1133.5,490.0 L1134.0,491.4 L1134.5,492.9 L1135.0,494.3 L1135.5,495.7 L1136.0,497.1 L1136.5,498.6 L1137.0,500.0 L1137.5,501.4 L1138.0,502.8 L1138.5,504.2 L1139.0,505.6 L1139.5,507.0 L1140.0,508.4 L1140.5,509.8 L1141.0,511.2 L1141.5,512.5 L1142.0,513.9 L1142.5,515.3 L1143.0,516.7 L1143.5,518.0 L1144.0,519.4 L1144.5,520.8 L1145.0,522.1 L1145.5,523.5 L1146.0,524.8 L1146.5,526.2 L1147.1,527.5 L1147.6,528.9 L1148.1,530.2 L1148.7,531.5 L1149.2,532.8 L1149.8,534.2 L1150.3,535.5 L1150.9,536.8 L1151.5,538.1 L1152.1,539.4 L1152.8,540.7 L1153.4,542.0 L1154.1,543.2 L1154.7,544.5 L1155.4,545.8 L1156.1,547.0 L1156.9,548.3 L1157.6,549.6 L1158.4,550.8 L1159.2,552.1 L1160.1,553.3 L1160.9,554.5 L1161.8,555.7 L1162.7,557.0 L1163.7,558.2 L1164.6,559.4 L1165.6,560.6 L1166.7,561.8 L1167.7,562.9 L1168.8,564.1 L1170.0,565.3 L1171.1,566.4 L1172.3,567.5 L1173.5,568.5 L1174.8,569.5 L1176.0,570.5 L1177.3,571.3 L1178.6,572.2 L1180.0,572.9 L1181.3,573.5 L1182.7,574.1 L1184.0,574.6 L1185.4,575.0 L1186.8,575.4 L1188.2,575.7 L1189.7,576.0 L1191.1,576.2 L1192.5,576.4 L1194.0,576.7 L1195.4,576.9 L1196.9,577.1 L1198.3,577.3 L1199.8,577.5 L1201.2,577.8 L1202.7,578.1 L1204.1,578.4 L1205.6,578.8 L1207.0,579.2 L1208.4,579.6 L1209.8,580.1 L1211.2,580.5 L1212.6,581.1 L1214.0,581.6 L1215.4,582.2 L1216.7,582.8 L1218.0,583.5 L1219.3,584.2 L1220.6,584.9 L1221.9,585.7 L1223.1,586.5 L1224.4,587.3 L1225.6,588.2 L1226.8,589.1 L1227.9,590.0 L1229.1,590.9 L1230.2,591.9 L1231.3,592.9 L1232.4,594.0 L1233.5,595.0 L1234.5,596.1 L1235.6,597.2 L1236.6,598.3 L1237.6,599.5 L1238.6,600.6 L1239.6,601.8 L1240.6,603.0 L1241.5,604.2 L1242.4,605.4 L1243.4,606.6 L1244.3,607.9 L1245.2,609.1 L1246.1,610.4 L1246.9,611.7 L1247.8,612.9 L1248.6,614.2 L1249.5,615.5 L1250.3,616.8 L1251.1,618.1 L1251.9,619.4 L1252.7,620.7 L1253.5,622.0 L1254.3,623.3 L1255.1,624.6 L1255.9,625.9 L1256.7,627.1 L1257.4,628.4 L1258.2,629.7 L1259.0,631.0 L1259.7,632.3 L1260.5,633.6 L1261.3,634.9 L1262.0,636.2 L1262.8,637.5 L1263.6,638.8 L1264.3,640.0 L1265.1,641.3 L1265.9,642.6 L1266.7,643.9 L1267.5,645.1 L1268.3,646.4 L1269.1,647.6 L1270.0,648.9 L1270.8,650.1 L1271.7,651.4 L1272.5,652.6 L1273.4,653.8 L1274.3,655.0 L1275.2,656.3 L1276.1,657.5 L1277.1,658.6 L1278.0,659.8 L1279.0,661.0 L1280.0,662.2 L1281.0,663.3 L1282.0,664.5 L1283.1,665.6 L1284.2,666.7 L1285.3,667.9 L1286.4,669.0 L1287.6,670.1 L1288.7,671.1 L1289.9,672.1 L1291.1,673.1 L1292.3,674.1 L1293.6,675.0 L1294.8,675.8 L1296.1,676.6 L1297.3,677.4 L1298.6,678.0 L1299.9,678.6 L1301.2,679.2 L1302.5,679.6 L1303.8,680.0 L1305.2,680.3 L1306.5,680.4 L1307.8,680.5 L1309.1,680.5 L1310.5,680.4 L1311.8,680.2 L1313.1,679.9 L1314.4,679.5 L1315.8,679.1 L1317.1,678.5 L1318.4,677.9 L1319.7,677.3 L1320.9,676.5 L1322.2,675.7 L1323.5,674.9 L1324.7,674.0 L1326.0,673.1 L1327.2,672.1 L1328.4,671.1 L1329.6,670.0 L1330.8,668.9 L1332.0,667.8 L1333.1,666.7 L1334.3,665.5 L1335.4,664.3 L1336.6,663.1 L1337.7,661.9 L1338.8,660.7 L1340.0,659.4 L1341.1,658.2 L1342.2,656.9 L1343.3,655.7 L1344.5,654.5 L1345.6,653.3 L1346.7,652.1 L1347.8,650.9 L1348.9,649.7 L1350.1,648.5 L1351.2,647.4 L1352.3,646.3 L1353.5,645.3 L1354.6,644.2 L1355.8,643.2 L1357.0,642.3 L1358.2,641.4 L1359.4,640.5 L1360.6,639.7 L1361.8,639.0 L1363.0,638.3 L1364.2,637.7 L1365.5,637.1 L1366.8,636.6 L1368.0,636.2 L1369.3,635.9 L1370.6,635.6 L1371.9,635.5 L1373.2,635.4 L1374.4,635.4 L1375.7,635.5 L1377.0,635.7 L1378.3,636.0 L1379.6,636.4 L1380.8,636.9 L1382.1,637.4 L1383.4,638.0 L1384.6,638.7 L1385.8,639.4 L1387.1,640.2 L1388.3,641.1 L1389.5,642.1 L1390.7,643.0 L1391.9,644.1 L1393.0,645.2 L1394.2,646.3 L1395.3,647.5 L1396.4,648.7 L1397.5,649.9 L1398.6,651.2 L1399.7,652.5 L1400.7,653.8 L1401.7,655.1 L1402.7,656.5 L1403.7,657.8 L1404.6,659.2 L1405.5,660.6 L1406.4,662.0 L1407.3,663.3 L1408.1,664.7 L1408.9,666.1 L1409.7,667.5 L1410.4,668.8 L1411.2,670.2 L1411.9,671.5 L1412.5,672.9 L1413.2,674.2 L1413.9,675.6 L1414.5,676.9 L1415.1,678.3 L1415.7,679.6 L1416.3,680.9 L1416.8,682.3 L1417.4,683.6 L1417.9,684.9 L1418.5,686.2 L1419.0,687.6 L1419.5,688.9 L1420.0,690.2 L1420.5,691.6 L1421.0,692.9 L1421.5,694.2 L1422.1,695.5 L1422.6,696.9 L1423.1,698.2 L1423.6,699.5 L1424.1,700.8 L1424.6,702.2 L1425.2,703.5 L1425.7,704.8 L1426.3,706.2 L1426.8,707.5 L1427.4,708.8 L1428.0,710.2 L1428.6,711.5 L1429.3,712.9 L1429.9,714.2 L1430.6,715.6 L1431.2,716.9 L1431.9,718.3 L1432.6,719.6 L1433.4,721.0 L1434.1,722.4 L1434.9,723.8 L1435.7,725.2 L1436.4,726.6 L1437.2,728.0 L1438.1,729.4 L1438.9,730.8 L1439.7,732.2 L1440.6,733.7 L1441.5,735.1 L1442.4,736.6 L1443.3,738.0 L1444.2,739.5 L1445.1,741.0 L1446.0,742.5 L1447.0,743.9 L1448.0,745.3 L1448.9,746.7 L1449.9,748.1 L1450.9,749.4 L1451.9,750.6 L1452.9,751.8 L1453.9,752.8 L1455.0,753.8 L1456.0,754.7 L1457.1,755.5 L1458.1,756.1 L1459.2,756.7 L1460.3,757.1 L1461.4,757.3 L1462.5,757.4 L1463.6,757.4 L1464.7,757.2 L1465.8,756.9 L1466.9,756.4 L1468.0,755.8 L1469.1,755.1 L1470.2,754.3 L1471.3,753.4 L1472.4,752.4 L1473.5,751.4 L1474.6,750.2 L1475.6,749.0 L1476.7,747.8 L1477.7,746.5 L1478.7,745.1 L1479.7,743.8 L1480.7,742.4 L1481.7,741.0 L1482.6,739.6 L1483.5,738.1 L1484.4,736.7 L1485.2,735.3 L1486.1,733.9 L1486.9,732.6 L1487.6,731.2 L1488.4,729.8 L1489.1,728.5 L1489.9,727.1 L1490.6,725.7 L1491.2,724.4 L1491.9,723.0 L1492.5,721.7 L1493.1,720.3 L1493.7,719.0 L1494.3,717.6 L1494.9,716.2 L1495.5,714.9 L1496.0,713.5 L1496.6,712.1 L1497.1,710.7 L1497.6,709.3 L1498.1,707.9 L1498.6,706.5 L1499.1,705.1 L1499.5,703.7 L1500.0,702.2 L1500.5,700.8 L1500.9,699.4 L1501.3,697.9 L1501.8,696.5 L1502.2,695.1 L1502.6,693.6 L1503.0,692.2 L1503.4,690.7 L1503.8,689.3 L1504.2,687.8 L1504.6,686.4 L1505.0,684.9 L1505.3,683.4 L1505.7,682.0 L1506.1,680.5 L1506.4,679.1 L1506.8,677.6 L1507.2,676.1 L1507.5,674.7 L1507.9,673.2 L1508.3,671.7 L1508.6,670.3 L1509.0,668.8 L1509.3,667.4 L1509.7,665.9 L1510.1,664.4 L1510.4,663.0 L1510.8,661.5 L1511.2,660.1 L1511.5,658.6 L1511.9,657.2 L1512.3,655.7 L1512.6,654.3 L1513.0,652.8 L1513.4,651.4 L1513.8,649.9 L1514.1,648.5 L1514.5,647.0 L1514.9,645.6 L1515.3,644.1 L1515.6,642.7 L1516.0,641.2 L1516.4,639.8 L1516.8,638.4 L1517.2,636.9 L1517.5,635.5 L1517.9,634.0 L1518.3,632.6 L1518.7,631.2 L1519.1,629.7 L1519.5,628.3 L1519.8,626.9 L1520.2,625.4 L1520.6,624.0 L1521.0,622.6 L1521.4,621.1 L1521.8,619.7 L1522.2,618.3 L1522.6,616.8 L1523.0,615.4 L1523.4,614.0 L1523.7,612.5 L1524.1,611.1 L1524.5,609.7 L1524.9,608.2 L1525.3,606.8 L1525.7,605.4 L1526.1,603.9 L1526.5,602.5 L1526.9,601.1 L1527.3,599.7 L1527.7,598.2 L1528.1,596.8 L1528.5,595.4 L1528.9,593.9 L1529.3,592.5 L1529.7,591.1 L1530.1,589.7 L1530.5,588.2 L1530.9,586.8 L1531.3,585.4 L1531.7,584.0 L1532.2,582.5 L1532.6,581.1 L1533.0,579.7 L1533.4,578.2 L1533.8,576.8 L1534.2,575.4 L1534.6,574.0 L1535.1,572.5 L1535.5,571.1 L1535.9,569.7 L1536.3,568.2 L1536.8,566.8 L1537.2,565.4 L1537.6,563.9 L1538.1,562.5 L1538.5,561.1 L1538.9,559.6 L1539.4,558.2 L1539.8,556.8 L1540.3,555.3 L1540.7,553.9 L1541.2,552.5 L1541.6,551.0 L1542.1,549.6 L1542.5,548.2 L1543.0,546.7 L1543.5,545.3 L1543.9,543.9 L1544.4,542.4 L1544.9,541.0 L1545.3,539.5 L1545.8,538.1 L1546.3,536.7 L1546.8,535.2 L1547.3,533.8 L1547.8,532.3 L1548.3,530.9 L1548.8,529.4 L1549.3,528.0 L1549.8,526.5 L1550.3,525.1 L1550.8,523.7 L1551.4,522.2 L1551.9,520.8 L1552.4,519.3 L1552.9,517.8 L1553.5,516.4 L1554.0,514.9 L1554.6,513.5 L1555.1,512.0 L1555.7,510.6 L1556.3,509.1 L1556.8,507.7 L1557.4,506.2 L1558.0,504.8 L1558.6,503.4 L1559.2,501.9 L1559.8,500.5 L1560.4,499.1 L1561.0,497.7 L1561.7,496.3 L1562.3,494.9 L1563.0,493.5 L1563.6,492.1 L1564.3,490.7 L1565.0,489.3 L1565.7,488.0 L1566.4,486.6 L1567.1,485.3 L1567.8,484.0 L1568.6,482.6 L1569.3,481.3 L1570.1,480.0 L1570.8,478.7 L1571.6,477.5 L1572.4,476.2 L1573.2,475.0 L1574.1,473.7 L1574.9,472.5 L1575.7,471.3 L1576.6,470.1 L1577.5,469.0 L1578.4,467.8 L1579.3,466.7 L1580.2,465.6 L1581.2,464.5 L1582.1,463.4 L1583.1,462.3 L1584.1,461.3 L1585.1,460.2 L1586.1,459.2 L1587.2,458.3 L1588.2,457.3 L1589.3,456.4 L1590.4,455.4 L1591.5,454.5 L1592.7,453.7 L1593.8,452.8 L1595.0,452.0 L1596.2,451.2 L1597.4,450.4 L1598.6,449.7 L1599.9,448.9 L1601.2,448.3 L1602.5,447.6 L1603.8,446.9 L1605.1,446.3 L1606.4,445.7 L1607.8,445.1 L1609.2,444.5 L1610.6,444.0 L1612.0,443.4 L1613.4,442.9 L1614.8,442.4 L1616.2,441.8 L1617.7,441.3 L1619.1,440.8 L1620.6,440.3 L1622.0,439.8 L1623.5,439.3 L1624.9,438.8 L1626.4,438.3 L1627.8,437.8 L1629.3,437.3 L1630.7,436.8 L1632.2,436.2 L1633.6,435.7 L1635.0,435.1 L1636.4,434.5 L1637.8,433.9 L1639.2,433.3 L1640.6,432.7 L1642.0,432.0 L1643.4,431.3 L1644.7,430.6 L1646.1,429.9 L1647.4,429.2 L1648.7,428.4 L1650.0,427.7 L1651.3,426.9 L1652.6,426.1 L1653.8,425.2 L1655.1,424.4 L1656.3,423.5 L1657.5,422.7 L1658.8,421.8 L1660.0,420.9 L1661.1,419.9 L1662.3,419.0 L1663.5,418.1 L1664.7,417.1 L1665.8,416.1 L1666.9,415.1 L1668.1,414.2 L1669.2,413.1 L1670.3,412.1 L1671.4,411.1 L1672.5,410.1 L1673.5,409.0 L1674.6,408.0 L1675.6,406.9 L1676.7,405.8 L1677.7,404.8 L1678.7,403.7 L1679.7,402.6 L1680.7,401.5 L1681.7,400.4 L1682.7,399.3 L1683.7,398.2 L1684.6,397.0 L1685.6,395.9 L1686.5,394.8 L1687.4,393.6 L1688.4,392.5 L1689.3,391.3 L1690.2,390.2 L1691.1,389.0 L1692.0,387.8 L1692.8,386.7 L1693.7,385.5 L1694.6,384.3 L1695.4,383.1 L1696.3,381.9 L1697.1,380.7 L1698.0,379.5 L1698.8,378.3 L1699.6,377.1 L1700.4,375.8 L1701.2,374.6 L1702.0,373.4 L1702.8,372.1 L1703.6,370.9 L1704.4,369.7 L1705.2,368.4 L1706.0,367.1 L1706.7,365.9 L1707.5,364.6 L1708.3,363.4 L1709.0,362.1 L1709.8,360.8 L1710.5,359.5 L1711.3,358.2 L1712.0,357.0 L1712.7,355.7 L1713.5,354.4 L1714.2,353.1 L1714.9,351.8 L1715.6,350.5 L1716.4,349.2 L1717.1,347.8 L1717.8,346.5 L1718.5,345.2 L1719.2,343.9 L1719.9,342.6 L1720.6,341.2 L1721.3,339.9 L1722.0,338.6 L1722.7,337.2 L1723.4,335.9 L1724.1,334.6 L1724.8,333.2 L1725.5,331.9 L1726.1,330.5 L1726.8,329.2 L1727.5,327.8 L1728.2,326.5 L1728.9,325.1 L1729.6,323.8 L1730.2,322.4 L1730.9,321.1 L1731.6,319.7 L1732.3,318.4 L1732.9,317.0 L1733.6,315.7 L1734.3,314.3 L1735.0,312.9 L1735.6,311.6 L1736.3,310.2 L1737.0,308.9 L1737.7,307.5 L1738.4,306.1 L1739.0,304.8 L1739.7,303.4 L1740.4,302.1 L1741.1,300.7 L1741.7,299.3 L1742.4,298.0 L1743.1,296.6 L1743.8,295.3 L1744.5,293.9 L1745.2,292.5 L1745.8,291.2 L1746.5,289.8 L1747.2,288.5 L1747.9,287.1 L1748.6,285.8 L1749.3,284.4 L1750.0,283.1 L1750.7,281.7 L1751.4,280.4 L1752.1,279.0 L1752.8,277.7 L1753.5,276.4 L1754.2,275.0 L1755.0,273.7 L1755.7,272.4 L1756.4,271.0 L1757.1,269.7 L1757.9,268.4 L1758.6,267.1 L1759.3,265.7 L1760.1,264.4 L1760.8,263.1 L1761.6,261.8 L1762.3,260.5 L1763.1,259.2 L1763.8,257.9 L1764.6,256.6 L1765.4,255.3 L1766.1,254.0 L1766.9,252.7 L1767.7,251.5 L1768.5,250.2 L1769.3,248.9 L1770.1,247.7 L1770.9,246.4 L1771.7,245.1 L1772.5,243.9 L1773.3,242.6 L1774.2,241.4 L1775.0,240.1 L1775.8,238.9 L1776.7,237.7 L1777.5,236.5 L1778.4,235.2 L1779.2,234.0 L1780.1,232.8 L1781.0,231.6 L1781.8,230.4 L1782.7,229.2 L1783.6,228.0 L1784.5,226.9 L1785.4,225.7 L1786.3,224.5 L1787.3,223.4 L1788.2,222.2 L1789.1,221.1 L1790.1,219.9 L1791.0,218.8 L1792.0,217.7 L1793.0,216.5 L1793.9,215.4 L1794.9,214.3 L1795.9,213.2 L1796.9,212.1 L1797.9,211.0 L1798.9,210.0 L1800.0,208.9 L1801.0,207.8 L1802.0,206.8 L1803.1,205.7 L1804.1,204.7 L1805.2,203.6 L1806.3,202.6 L1807.4,201.6 L1808.5,200.6 L1809.6,199.6 L1810.7,198.6 L1811.8,197.6 L1813.0,196.7 L1814.1,195.7 L1815.3,194.7 L1816.4,193.8 L1817.6,192.9 L1818.8,191.9 L1820.0,191.0 L1821.1,190.1 L1822.3,189.2 L1823.6,188.3 L1824.8,187.4 L1826.0,186.6 L1827.2,185.7 L1828.5,184.9 L1829.7,184.0 L1831.0,183.2 L1832.2,182.4 L1833.5,181.6 L1834.8,180.8 L1836.1,180.0 L1837.3,179.2 L1838.6,178.4 L1839.9,177.7 L1841.2,176.9 L1842.6,176.2 L1843.9,175.5 L1845.2,174.8 L1846.5,174.1 L1847.9,173.4 L1849.2,172.7 L1850.6,172.1 L1851.9,171.4 L1853.3,170.8 L1854.6,170.1 L1856.0,169.5 L1857.4,168.9 L1858.8,168.3 L1860.2,167.7 L1861.5,167.2 L1862.9,166.6 L1864.3,166.1 L1865.7,165.6 L1867.2,165.0 L1868.6,164.5 L1870.0,164.0 L1871.4,163.6 L1872.8,163.1 L1874.3,162.7 L1875.7,162.2 L1877.1,161.8 L1878.6,161.4 L1880.0,161.0 L1962.0,161.0" stroke="#ff0000"/>
<path d="M557.5,186.3 L644.0,186.3 L644.0,186.3 L645.4,186.4 L646.8,186.5 L648.2,186.6 L649.6,186.6 L651.0,186.6 L652.5,186.5 L653.9,186.5 L655.3,186.3 L656.8,186.2 L658.2,186.1 L659.7,185.9 L661.1,185.7 L662.6,185.5 L664.1,185.2 L665.5,185.0 L667.0,184.7 L668.5,184.4 L670.0,184.1 L671.5,183.8 L673.0,183.4 L674.5,183.1 L676.0,182.7 L677.5,182.4 L679.0,182.0 L680.5,181.6 L682.0,181.3 L683.5,180.9 L685.0,180.5 L686.5,180.1 L688.0,179.8 L689.5,179.4 L691.1,179.0 L692.6,178.7 L694.1,178.3 L695.6,178.0 L697.1,177.7 L698.6,177.4 L700.1,177.0 L701.7,176.8 L703.2,176.5 L704.7,176.2 L706.2,176.0 L707.7,175.8 L709.2,175.6 L710.7,175.4 L712.2,175.3 L713.7,175.1 L715.2,175.0 L716.7,175.0 L718.2,174.9 L719.7,174.9 L721.2,175.0 L722.6,175.0 L724.1,175.1 L725.6,175.2 L727.1,175.4 L728.5,175.6 L730.0,175.8 L731.4,176.0 L732.9,176.3 L734.3,176.6 L735.8,176.9 L737.2,177.3 L738.6,177.7 L740.0,178.1 L741.4,178.5 L742.9,179.0 L744.3,179.5 L745.6,180.0 L747.0,180.5 L748.4,181.1 L749.8,181.7 L751.1,182.3 L752.5,182.9 L753.8,183.6 L755.2,184.3 L756.5,185.0 L757.8,185.7 L759.1,186.4 L760.4,187.2 L761.7,187.9 L763.0,188.7 L764.2,189.6 L765.5,190.4 L766.7,191.2 L768.0,192.1 L769.2,193.0 L770.4,193.9 L771.6,194.8 L772.8,195.7 L774.0,196.6 L775.1,197.6 L776.3,198.6 L777.4,199.5 L778.6,200.5 L779.7,201.5 L780.8,202.5 L781.9,203.6 L782.9,204.6 L784.0,205.7 L785.1,206.7 L786.1,207.8 L787.1,208.9 L788.1,209.9 L789.1,211.0 L790.1,212.1 L791.1,213.3 L792.1,214.4 L793.0,215.5 L794.0,216.7 L794.9,217.8 L795.8,219.0 L796.7,220.2 L797.6,221.4 L798.5,222.5 L799.4,223.7 L800.2,225.0 L801.1,226.2 L801.9,227.4 L802.8,228.6 L803.6,229.9 L804.4,231.1 L805.2,232.4 L806.0,233.6 L806.8,234.9 L807.5,236.2 L808.3,237.5 L809.0,238.8 L809.8,240.1 L810.5,241.4 L811.2,242.7 L812.0,244.0 L812.7,245.3 L813.4,246.6 L814.0,248.0 L814.7,249.3 L815.4,250.7 L816.1,252.0 L816.7,253.4 L817.3,254.7 L818.0,256.1 L818.6,257.5 L819.2,258.9 L819.9,260.2 L820.5,261.6 L821.1,263.0 L821.7,264.4 L822.2,265.8 L822.8,267.2 L823.4,268.6 L823.9,270.0 L824.5,271.4 L825.1,272.8 L825.6,274.3 L826.1,275.7 L826.7,277.1 L827.2,278.5 L827.7,280.0 L828.2,281.4 L828.7,282.8 L829.2,284.3 L829.7,285.7 L830.2,287.1 L830.7,288.6 L831.2,290.0 L831.7,291.5 L832.1,292.9 L832.6,294.4 L833.0,295.8 L833.5,297.3 L834.0,298.7 L834.4,300.2 L834.8,301.6 L835.3,303.1 L835.7,304.5 L836.1,306.0 L836.6,307.4 L837.0,308.9 L837.4,310.3 L837.8,311.8 L838.2,313.2 L838.6,314.7 L839.0,316.1 L839.4,317.6 L839.8,319.0 L840.2,320.5 L840.6,321.9 L841.0,323.4 L841.4,324.8 L841.7,326.3 L842.1,327.8 L842.5,329.2 L842.8,330.7 L843.2,332.1 L843.6,333.6 L843.9,335.0 L844.3,336.5 L844.6,338.0 L845.0,339.4 L845.3,340.9 L845.6,342.3 L846.0,343.8 L846.3,345.3 L846.6,346.7 L847.0,348.2 L847.3,349.6 L847.6,351.1 L847.9,352.6 L848.2,354.0 L848.5,355.5 L848.9,357.0 L849.2,358.4 L849.5,359.9 L849.8,361.3 L850.1,362.8 L850.4,364.3 L850.6,365.7 L850.9,367.2 L851.2,368.7 L851.5,370.1 L851.8,371.6 L852.1,373.1 L852.3,374.5 L852.6,376.0 L852.9,377.5 L853.2,378.9 L853.4,380.4 L853.7,381.9 L854.0,383.3 L854.2,384.8 L854.5,386.3 L854.7,387.7 L855.0,389.2 L855.3,390.7 L855.5,392.1 L855.8,393.6 L856.0,395.1 L856.3,396.5 L856.5,398.0 L856.7,399.5 L857.0,401.0 L857.2,402.4 L857.5,403.9 L857.7,405.4 L857.9,406.8 L858.2,408.3 L858.4,409.8 L858.6,411.3 L858.9,412.7 L859.1,414.2 L859.3,415.7 L859.6,417.2 L859.8,418.6 L860.0,420.1 L860.2,421.6 L860.5,423.1 L860.7,424.5 L860.9,426.0 L861.1,427.5 L861.3,429.0 L861.6,430.4 L861.8,431.9 L862.0,433.4 L862.2,434.9 L862.4,436.3 L862.6,437.8 L862.9,439.3 L863.1,440.8 L863.3,442.2 L863.5,443.7 L863.7,445.2 L863.9,446.7 L864.1,448.1 L864.3,449.6 L864.6,451.1 L864.8,452.6 L865.0,454.1 L865.2,455.5 L865.4,457.0 L865.6,458.5 L865.8,460.0 L866.0,461.5 L866.2,462.9 L866.4,464.4 L866.7,465.9 L866.9,467.4 L867.1,468.9 L867.3,470.3 L867.5,471.8 L867.7,473.3 L867.9,474.8 L868.1,476.3 L868.3,477.7 L868.5,479.2 L868.7,480.7 L869.0,482.2 L869.2,483.7 L869.4,485.2 L869.6,486.6 L869.8,488.1 L870.0,489.6 L870.2,491.1 L870.4,492.6 L870.6,494.1 L870.8,495.5 L871.0,497.0 L871.3,498.5 L871.5,500.0 L871.7,501.5 L871.9,503.0 L872.1,504.4 L872.3,505.9 L872.5,507.4 L872.7,508.9 L872.9,510.4 L873.1,511.9 L873.3,513.4 L873.5,514.8 L873.8,516.3 L874.0,517.8 L874.2,519.3 L874.4,520.8 L874.6,522.3 L874.8,523.8 L875.0,525.2 L875.2,526.7 L875.4,528.2 L875.6,529.7 L875.8,531.2 L876.0,532.7 L876.2,534.2 L876.5,535.6 L876.7,537.1 L876.9,538.6 L877.1,540.1 L877.3,541.6 L877.5,543.1 L877.7,544.6 L877.9,546.1 L878.1,547.5 L878.3,549.0 L878.5,550.5 L878.7,552.0 L878.9,553.5 L879.1,555.0 L879.3,556.5 L879.5,558.0 L879.8,559.5 L880.0,560.9 L880.2,562.4 L880.4,563.9 L880.6,565.4 L880.8,566.9 L881.0,568.4 L881.2,569.9 L881.4,571.4 L881.6,572.9 L881.8,574.4 L882.0,575.8 L882.2,577.3 L882.4,578.8 L882.6,580.3 L882.8,581.8 L883.0,583.3 L883.2,584.8 L883.4,586.3 L883.6,587.8 L883.8,589.3 L884.0,590.7 L884.2,592.2 L884.4,593.7 L884.6,595.2 L884.8,596.7 L885.0,598.2 L885.2,599.7 L885.5,601.2 L885.7,602.7 L885.9,604.2 L886.1,605.7 L886.3,607.1 L886.5,608.6 L886.7,610.1 L886.9,611.6 L887.1,613.1 L887.3,614.6 L887.5,616.1 L887.7,617.6 L887.9,619.1 L888.1,620.6 L888.3,622.1 L888.5,623.6 L888.7,625.0 L888.9,626.5 L889.1,628.0 L889.3,629.5 L889.5,631.0 L889.7,632.5 L889.9,634.0 L890.0,635.5 L890.2,637.0 L890.4,638.5 L890.6,640.0 L890.8,641.5 L891.0,643.0 L891.2,644.4 L891.4,645.9 L891.6,647.4 L891.8,648.9 L892.0,650.4 L892.2,651.9 L892.4,653.4 L892.6,654.9 L892.8,656.4 L893.0,657.9 L893.2,659.4 L893.4,660.9 L893.6,662.4 L893.8,663.9 L894.0,665.3 L894.2,666.8 L894.4,668.3 L894.6,669.8 L894.7,671.3 L894.9,672.8 L895.1,674.3 L895.3,675.8 L895.5,677.3 L895.7,678.8 L895.9,680.3 L896.1,681.8 L896.3,683.3 L896.5,684.8 L896.7,686.2 L896.9,687.7 L897.1,689.2 L897.2,690.7 L897.4,692.2 L897.6,693.7 L897.8,695.2 L898.0,696.7 L898.2,698.2 L898.4,699.7 L898.6,701.2 L898.8,702.7 L899.0,704.2 L899.1,705.6 L899.3,707.1 L899.5,708.6 L899.7,710.1 L899.9,711.6 L900.1,713.1 L900.3,714.6 L900.5,716.1 L900.6,717.6 L900.8,719.1 L901.0,720.6 L901.2,722.1 L901.4,723.6 L901.6,725.0 L901.8,726.5 L901.9,728.0 L902.1,729.5 L902.3,731.0 L902.5,732.5 L902.7,734.0 L902.9,735.5 L903.0,737.0 L903.2,738.5 L903.4,740.0 L903.6,741.5 L903.8,742.9 L904.0,744.4 L904.1,745.9 L904.3,747.4 L904.5,748.9 L904.7,750.4 L904.9,751.9 L905.0,753.4 L905.2,754.9 L905.4,756.4 L905.6,757.9 L905.8,759.3 L905.9,760.8 L906.1,762.3 L906.3,763.8 L906.5,765.3 L906.6,766.8 L906.8,768.3 L907.0,769.8 L907.2,771.3 L907.4,772.8 L907.5,774.3 L907.7,775.7 L907.9,777.2 L908.1,778.7 L908.2,780.2 L908.4,781.7 L908.6,783.2 L908.8,784.7 L908.9,786.2 L909.1,787.7 L909.3,789.1 L909.5,790.6 L909.6,792.1 L909.8,793.6 L910.0,795.1 L910.2,796.6 L910.3,798.1 L910.5,799.6 L910.7,801.1 L910.8,802.5 L911.0,804.0 L911.2,805.5 L911.4,807.0 L911.5,808.5 L911.7,810.0 L911.9,811.5 L912.1,813.0 L912.2,814.4 L912.4,815.9 L912.6,817.4 L912.8,818.9 L912.9,820.4 L913.1,821.9 L913.3,823.4 L913.4,824.8 L913.6,826.3 L913.8,827.8 L914.0,829.3 L914.1,830.8 L914.3,832.3 L914.5,833.8 L914.7,835.2 L914.8,836.7 L915.0,838.2 L915.2,839.7 L915.4,841.2 L915.6,842.7 L915.7,844.2 L915.9,845.6 L916.1,847.1 L916.3,848.6 L916.4,850.1 L916.6,851.6 L916.8,853.1 L917.0,854.5 L917.2,856.0 L917.3,857.5 L917.5,859.0 L917.7,860.5 L917.9,862.0 L918.1,863.4 L918.3,864.9 L918.4,866.4 L918.6,867.9 L918.8,869.4 L919.0,870.9 L919.2,872.3 L919.4,873.8 L919.5,875.3 L919.7,876.8 L919.9,878.3 L920.1,879.7 L920.3,881.2 L920.5,882.7 L920.7,884.2 L920.9,885.7 L921.1,887.1 L921.3,888.6 L921.4,890.1 L921.6,891.6 L921.8,893.1 L922.0,894.5 L922.2,896.0 L922.4,897.5 L922.6,899.0 L922.8,900.4 L923.0,901.9 L923.2,903.4 L923.4,904.9 L923.6,906.4 L923.8,907.8 L924.0,909.3 L924.2,910.8 L924.4,912.3 L924.6,913.7 L924.8,915.2 L925.0,916.7 L925.2,918.2 L925.5,919.6 L925.7,921.1 L925.9,922.6 L926.1,924.1 L926.3,925.5 L926.5,927.0 L926.7,928.5 L926.9,930.0 L927.2,931.4 L927.4,932.9 L927.6,934.4 L927.8,935.9 L928.0,937.3 L928.3,938.8 L928.5,940.3 L928.7,941.7 L928.9,943.2 L929.2,944.7 L929.4,946.2 L929.6,947.6 L929.8,949.1 L930.1,950.6 L930.3,952.0 L930.5,953.5 L930.8,955.0 L931.0,956.5 L931.3,957.9 L931.5,959.4 L931.7,960.9 L932.0,962.3 L932.2,963.8 L932.5,965.3 L932.7,966.7 L932.9,968.2 L933.2,969.7 L933.4,971.1 L933.7,972.6 L933.9,974.1 L934.2,975.5 L934.5,977.0 L934.7,978.5 L935.0,979.9 L935.2,981.4 L935.5,982.9 L935.7,984.3 L936.0,985.8 L936.3,987.3 L936.5,988.7 L936.8,990.2 L937.1,991.7 L937.3,993.1 L937.6,994.6 L937.9,996.0 L938.2,997.5 L938.4,999.0 L938.7,1000.4 L939.0,1001.9 L939.3,1003.4 L939.6,1004.8 L939.8,1006.3 L940.1,1007.8 L940.4,1009.2 L940.7,1010.7 L941.0,1012.2 L941.3,1013.6 L941.6,1015.1 L941.9,1016.6 L942.2,1018.0 L942.5,1019.5 L942.8,1021.0 L943.1,1022.5 L943.4,1023.9 L943.7,1025.4 L944.0,1026.9 L944.3,1028.4 L944.6,1029.9 L944.9,1031.4 L945.2,1032.8 L945.5,1034.3 L945.9,1035.8 L946.2,1037.3 L946.5,1038.8 L946.8,1040.3 L947.1,1041.8 L947.5,1043.3 L947.8,1044.8 L948.1,1046.3 L948.4,1047.9 L948.8,1049.4 L949.1,1050.9 L949.4,1052.4 L949.8,1053.9 L950.1,1055.5 L950.4,1057.0 L950.8,1058.5 L951.1,1060.1 L951.5,1061.6 L951.8,1063.2 L952.1,1064.7 L952.5,1066.3 L952.8,1067.8 L953.2,1069.4 L953.5,1071.0 L953.9,1072.5 L954.3,1074.1 L954.6,1075.7 L955.0,1077.3 L955.3,1078.9 L955.7,1080.4 L956.1,1082.0 L956.5,1083.6 L956.9,1085.1 L957.4,1086.7 L957.8,1088.1 L958.4,1089.6 L958.9,1091.0 L959.5,1092.4 L960.2,1093.7 L960.9,1095.0 L961.7,1096.2 L962.5,1097.4 L963.5,1098.5 L964.5,1099.5 L965.5,1100.4 L966.7,1101.2 L967.9,1102.0 L969.2,1102.6 L970.4,1103.1 L971.7,1103.4 L973.0,1103.6 L974.2,1103.6 L975.4,1103.4 L976.5,1103.0 L977.6,1102.5 L978.7,1101.9 L979.7,1101.1 L980.6,1100.1 L981.6,1099.1 L982.5,1098.0 L983.3,1096.8 L984.2,1095.5 L985.0,1094.1 L985.7,1092.7 L986.5,1091.3 L987.2,1089.8 L987.9,1088.3 L988.5,1086.8 L989.2,1085.3 L989.8,1083.8 L990.4,1082.3 L991.0,1080.8 L991.5,1079.3 L992.1,1077.8 L992.6,1076.3 L993.2,1074.8 L993.7,1073.3 L994.2,1071.8 L994.7,1070.3 L995.2,1068.8 L995.7,1067.3 L996.1,1065.8 L996.6,1064.3 L997.0,1062.8 L997.5,1061.3 L997.9,1059.8 L998.3,1058.3 L998.7,1056.8 L999.1,1055.4 L999.5,1053.9 L999.9,1052.4 L1000.3,1050.9 L1000.7,1049.4 L1001.1,1048.0 L1001.4,1046.5 L1001.8,1045.0 L1002.1,1043.5 L1002.5,1042.1 L1002.8,1040.6 L1003.1,1039.1 L1003.5,1037.6 L1003.8,1036.2 L1004.1,1034.7 L1004.4,1033.2 L1004.7,1031.8 L1005.0,1030.3 L1005.3,1028.9 L1005.6,1027.4 L1005.9,1025.9 L1006.2,1024.5 L1006.5,1023.0 L1006.8,1021.5 L1007.1,1020.1 L1007.4,1018.6 L1007.6,1017.2 L1007.9,1015.7 L1008.2,1014.3 L1008.5,1012.8 L1008.8,1011.3 L1009.0,1009.9 L1009.3,1008.4 L1009.6,1007.0 L1009.9,1005.5 L1010.1,1004.1 L1010.4,1002.6 L1010.7,1001.2 L1011.0,999.7 L1011.2,998.2 L1011.5,996.8 L1011.8,995.3 L1012.1,993.9 L1012.4,992.4 L1012.7,991.0 L1012.9,989.5 L1013.2,988.1 L1013.5,986.6 L1013.8,985.2 L1014.1,983.7 L1014.4,982.2 L1014.7,980.8 L1015.0,979.3 L1015.4,977.9 L1015.7,976.4 L1016.0,975.0 L1016.3,973.5 L1016.6,972.1 L1016.9,970.6 L1017.2,969.2 L1017.5,967.7 L1017.9,966.2 L1018.2,964.8 L1018.5,963.3 L1018.8,961.9 L1019.2,960.4 L1019.5,959.0 L1019.8,957.5 L1020.1,956.1 L1020.5,954.6 L1020.8,953.1 L1021.1,951.7 L1021.5,950.2 L1021.8,948.8 L1022.1,947.3 L1022.5,945.9 L1022.8,944.4 L1023.1,943.0 L1023.5,941.5 L1023.8,940.0 L1024.1,938.6 L1024.5,937.1 L1024.8,935.7 L1025.2,934.2 L1025.5,932.8 L1025.8,931.3 L1026.2,929.8 L1026.5,928.4 L1026.8,926.9 L1027.2,925.5 L1027.5,924.0 L1027.9,922.6 L1028.2,921.1 L1028.5,919.7 L1028.9,918.2 L1029.2,916.7 L1029.5,915.3 L1029.9,913.8 L1030.2,912.4 L1030.6,910.9 L1030.9,909.5 L1031.2,908.0 L1031.6,906.5 L1031.9,905.1 L1032.3,903.6 L1032.6,902.2 L1033.0,900.7 L1033.3,899.2 L1033.6,897.8 L1034.0,896.3 L1034.3,894.9 L1034.7,893.4 L1035.0,892.0 L1035.4,890.5 L1035.7,889.0 L1036.1,887.6 L1036.4,886.1 L1036.8,884.7 L1037.1,883.2 L1037.5,881.7 L1037.9,880.3 L1038.2,878.8 L1038.6,877.4 L1038.9,875.9 L1039.3,874.5 L1039.7,873.0 L1040.0,871.5 L1040.4,870.1 L1040.8,868.6 L1041.1,867.2 L1041.5,865.7 L1041.9,864.2 L1042.3,862.8 L1042.7,861.3 L1043.0,859.9 L1043.4,858.4 L1043.8,856.9 L1044.2,855.5 L1044.6,854.0 L1045.0,852.6 L1045.4,851.1 L1045.8,849.6 L1046.2,848.2 L1046.6,846.7 L1047.0,845.3 L1047.4,843.8 L1047.8,842.3 L1048.2,840.9 L1048.6,839.4 L1049.1,838.0 L1049.5,836.5 L1049.9,835.0 L1050.3,833.6 L1050.8,832.1 L1051.2,830.7 L1051.6,829.2 L1052.1,827.7 L1052.5,826.3 L1053.0,824.8 L1053.4,823.3 L1053.9,821.9 L1054.3,820.4 L1054.8,819.0 L1055.3,817.5 L1055.8,816.0 L1056.2,814.6 L1056.7,813.1 L1057.2,811.7 L1057.8,810.3 L1058.3,808.8 L1058.8,807.4 L1059.4,806.0 L1060.0,804.6 L1060.5,803.2 L1061.2,801.8 L1061.8,800.4 L1062.4,799.0 L1063.1,797.7 L1063.8,796.4 L1064.5,795.0 L1065.3,793.7 L1066.0,792.4 L1066.8,791.1 L1067.6,789.9 L1068.5,788.6 L1069.4,787.4 L1070.3,786.2 L1071.2,785.0 L1072.2,783.8 L1073.2,782.7 L1074.3,781.6 L1075.3,780.5 L1076.4,779.5 L1077.5,778.6 L1078.7,777.8 L1079.8,777.1 L1081.0,776.5 L1082.2,776.1 L1083.3,775.8 L1084.5,775.7 L1085.7,775.8 L1086.9,776.0 L1088.1,776.3 L1089.2,776.8 L1090.4,777.4 L1091.5,778.1 L1092.7,778.9 L1093.8,779.9 L1095.0,780.9 L1096.1,782.0 L1097.2,783.2 L1098.3,784.5 L1099.3,785.8 L1100.4,787.2 L1101.4,788.6 L1102.4,790.0 L1103.4,791.5 L1104.3,793.0 L1105.2,794.5 L1106.1,796.1 L1107.0,797.6 L1107.8,799.1 L1108.7,800.6 L1109.4,802.1 L1110.2,803.5 L1110.9,804.9 L1111.6,806.4 L1112.2,807.8 L1112.9,809.1 L1113.5,810.5 L1114.1,811.9 L1114.7,813.3 L1115.2,814.6 L1115.8,816.0 L1116.3,817.3 L1116.9,818.7 L1117.4,820.0 L1117.9,821.4 L1118.4,822.8 L1118.9,824.1 L1119.4,825.5 L1119.9,826.9 L1120.4,828.3 L1120.9,829.6 L1121.4,831.0 L1121.9,832.4 L1122.4,833.8 L1122.8,835.2 L1123.3,836.6 L1123.8,838.0 L1124.2,839.4 L1124.7,840.7 L1125.2,842.1 L1125.6,843.5 L1126.1,844.9 L1126.5,846.3 L1127.0,847.8 L1127.4,849.2 L1127.9,850.6 L1128.3,852.0 L1128.8,853.4 L1129.2,854.8 L1129.7,856.2 L1130.1,857.6 L1130.6,859.0 L1131.0,860.4 L1131.5,861.8 L1132.0,863.3 L1132.4,864.7 L1132.9,866.1 L1133.3,867.5 L1133.8,868.9 L1134.3,870.3 L1134.8,871.7 L1135.2,873.2 L1135.7,874.6 L1136.2,876.0 L1136.7,877.4 L1137.2,878.8 L1137.7,880.2 L1138.2,881.6 L1138.7,883.0 L1139.2,884.4 L1139.7,885.8 L1140.2,887.3 L1140.8,888.7 L1141.3,890.1 L1141.9,891.5 L1142.4,892.9 L1143.0,894.3 L1143.5,895.7 L1144.1,897.1 L1144.7,898.4 L1145.3,899.8 L1145.9,901.2 L1146.5,902.6 L1147.1,904.0 L1147.8,905.4 L1148.4,906.8 L1149.1,908.1 L1149.7,909.5 L1150.4,910.9 L1151.1,912.3 L1151.8,913.6 L1152.5,915.0 L1153.2,916.3 L1153.9,917.7 L1154.7,919.1 L1155.4,920.4 L1156.2,921.8 L1157.0,923.1 L1157.8,924.4 L1158.6,925.8 L1159.4,927.1 L1160.2,928.4 L1161.1,929.7 L1161.9,931.0 L1162.8,932.3 L1163.7,933.6 L1164.6,934.9 L1165.5,936.1 L1166.4,937.4 L1167.3,938.6 L1168.3,939.8 L1169.2,941.1 L1170.2,942.3 L1171.2,943.4 L1172.2,944.6 L1173.2,945.7 L1174.2,946.9 L1175.3,948.0 L1176.3,949.1 L1177.4,950.2 L1178.5,951.2 L1179.6,952.3 L1180.7,953.3 L1181.8,954.3 L1182.9,955.2 L1184.1,956.2 L1185.3,957.0 L1186.4,957.9 L1187.6,958.7 L1188.8,959.4 L1190.0,960.0 L1191.3,960.6 L1192.5,961.1 L1193.8,961.5 L1195.0,961.8 L1196.3,962.0 L1197.6,962.0 L1198.9,962.0 L1200.2,961.9 L1201.6,961.7 L1202.9,961.3 L1204.2,960.9 L1205.6,960.4 L1206.9,959.9 L1208.3,959.2 L1209.6,958.5 L1211.0,957.7 L1212.3,956.9 L1213.7,956.0 L1215.0,955.0 L1216.3,954.0 L1217.6,953.0 L1218.9,951.9 L1220.2,950.8 L1221.5,949.7 L1222.7,948.5 L1224.0,947.4 L1225.2,946.2 L1226.4,945.0 L1227.5,943.8 L1228.7,942.6 L1229.8,941.4 L1230.9,940.2 L1232.0,939.0 L1233.0,937.8 L1234.0,936.7 L1235.0,935.5 L1236.0,934.4 L1236.9,933.3 L1237.9,932.2 L1238.8,931.1 L1239.7,930.0 L1240.6,928.9 L1241.5,927.8 L1242.4,926.7 L1243.3,925.6 L1244.2,924.5 L1245.1,923.4 L1246.0,922.3 L1246.9,921.3 L1247.8,920.2 L1248.7,919.1 L1249.6,917.9 L1250.5,916.8 L1251.5,915.7 L1252.4,914.6 L1253.3,913.5 L1254.3,912.4 L1255.2,911.3 L1256.2,910.1 L1257.1,909.0 L1258.1,907.9 L1259.0,906.7 L1260.0,905.6 L1260.9,904.4 L1261.9,903.3 L1262.9,902.2 L1263.8,901.0 L1264.8,899.8 L1265.7,898.7 L1266.7,897.5 L1267.7,896.4 L1268.6,895.2 L1269.6,894.0 L1270.5,892.8 L1271.5,891.7 L1272.5,890.5 L1273.4,889.3 L1274.4,888.1 L1275.3,886.9 L1276.2,885.7 L1277.2,884.5 L1278.1,883.3 L1279.1,882.1 L1280.0,880.9 L1280.9,879.7 L1281.8,878.5 L1282.7,877.3 L1283.6,876.1 L1284.5,874.8 L1285.4,873.6 L1286.3,872.4 L1287.2,871.1 L1288.1,869.9 L1289.0,868.7 L1289.8,867.4 L1290.7,866.2 L1291.5,864.9 L1292.4,863.7 L1293.2,862.4 L1294.0,861.1 L1294.9,859.9 L1295.7,858.6 L1296.5,857.3 L1297.3,856.1 L1298.1,854.8 L1298.8,853.5 L1299.6,852.2 L1300.4,851.0 L1301.2,849.7 L1301.9,848.4 L1302.7,847.1 L1303.4,845.8 L1304.2,844.5 L1304.9,843.2 L1305.6,841.9 L1306.3,840.6 L1307.1,839.3 L1307.8,838.0 L1308.5,836.6 L1309.2,835.3 L1309.9,834.0 L1310.6,832.7 L1311.2,831.4 L1311.9,830.0 L1312.6,828.7 L1313.3,827.4 L1313.9,826.1 L1314.6,824.7 L1315.3,823.4 L1315.9,822.1 L1316.6,820.7 L1317.2,819.4 L1317.8,818.0 L1318.5,816.7 L1319.1,815.3 L1319.7,814.0 L1320.4,812.6 L1321.0,811.3 L1321.6,809.9 L1322.2,808.6 L1322.8,807.2 L1323.5,805.9 L1324.1,804.5 L1324.7,803.1 L1325.3,801.8 L1325.9,800.4 L1326.5,799.1 L1327.1,797.7 L1327.7,796.3 L1328.2,795.0 L1328.8,793.6 L1329.4,792.2 L1330.0,790.8 L1330.6,789.5 L1331.2,788.1 L1331.8,786.7 L1332.3,785.3 L1332.9,784.0 L1333.5,782.6 L1334.1,781.2 L1334.6,779.8 L1335.2,778.4 L1335.8,777.1 L1336.4,775.7 L1336.9,774.3 L1337.5,772.9 L1338.1,771.5 L1338.6,770.1 L1339.2,768.8 L1339.8,767.4 L1340.3,766.0 L1340.9,764.6 L1341.5,763.2 L1342.1,761.8 L1342.6,760.5 L1343.2,759.1 L1343.8,757.7 L1344.3,756.3 L1344.9,754.9 L1345.5,753.5 L1346.1,752.1 L1346.6,750.7 L1347.2,749.4 L1347.8,748.0 L1348.4,746.6 L1349.0,745.2 L1349.5,743.8 L1350.1,742.4 L1350.7,741.0 L1351.3,739.7 L1351.9,738.3 L1352.5,736.9 L1353.1,735.5 L1353.7,734.1 L1354.3,732.7 L1354.9,731.4 L1355.5,730.0 L1356.1,728.6 L1356.7,727.2 L1357.3,725.8 L1358.0,724.5 L1358.6,723.1 L1359.2,721.7 L1359.8,720.3 L1360.5,719.0 L1361.1,717.6 L1361.8,716.2 L1362.4,714.8 L1363.0,713.5 L1363.7,712.1 L1364.4,710.7 L1365.0,709.4 L1365.7,708.0 L1366.4,706.6 L1367.0,705.3 L1367.7,703.9 L1368.4,702.6 L1369.1,701.2 L1369.8,699.9 L1370.6,698.6 L1371.3,697.2 L1372.0,695.9 L1372.8,694.6 L1373.6,693.3 L1374.3,692.0 L1375.1,690.7 L1375.9,689.5 L1376.7,688.2 L1377.6,686.9 L1378.4,685.7 L1379.3,684.5 L1380.2,683.3 L1381.1,682.1 L1382.0,680.9 L1382.9,679.7 L1383.9,678.5 L1384.9,677.4 L1385.9,676.3 L1386.9,675.1 L1387.9,674.0 L1389.0,673.0 L1390.1,671.9 L1391.2,670.9 L1392.3,669.8 L1393.4,668.8 L1394.6,667.9 L1395.8,666.9 L1397.1,666.0 L1398.3,665.1 L1399.6,664.2 L1400.9,663.5 L1402.2,662.7 L1403.5,662.1 L1404.8,661.5 L1406.2,661.0 L1407.5,660.6 L1408.9,660.3 L1410.2,660.1 L1411.6,660.0 L1413.0,660.1 L1414.4,660.2 L1415.8,660.5 L1417.2,660.9 L1418.6,661.3 L1420.0,661.9 L1421.4,662.5 L1422.8,663.1 L1424.2,663.9 L1425.6,664.7 L1427.0,665.5 L1428.4,666.3 L1429.8,667.2 L1431.2,668.1 L1432.6,668.9 L1434.0,669.8 L1435.5,670.7 L1436.9,671.5 L1438.3,672.3 L1439.7,673.1 L1441.1,673.8 L1442.5,674.5 L1443.9,675.1 L1445.3,675.6 L1446.7,676.0 L1448.1,676.4 L1449.4,676.7 L1450.8,676.9 L1452.2,677.1 L1453.6,677.1 L1454.9,677.1 L1456.3,677.0 L1457.7,676.9 L1459.0,676.7 L1460.4,676.4 L1461.7,676.0 L1463.0,675.6 L1464.3,675.1 L1465.6,674.6 L1466.9,674.0 L1468.2,673.3 L1469.4,672.6 L1470.7,671.8 L1471.9,671.0 L1473.1,670.1 L1474.3,669.2 L1475.4,668.2 L1476.5,667.2 L1477.6,666.2 L1478.7,665.1 L1479.8,664.0 L1480.8,662.8 L1481.8,661.6 L1482.7,660.4 L1483.7,659.2 L1484.5,657.9 L1485.4,656.6 L1486.2,655.3 L1487.0,653.9 L1487.7,652.6 L1488.4,651.2 L1489.1,649.8 L1489.8,648.4 L1490.4,647.0 L1491.1,645.5 L1491.7,644.1 L1492.3,642.7 L1492.9,641.2 L1493.5,639.8 L1494.1,638.4 L1494.7,636.9 L1495.3,635.5 L1495.8,634.1 L1496.4,632.6 L1497.0,631.2 L1497.6,629.8 L1498.1,628.4 L1498.7,626.9 L1499.3,625.5 L1499.8,624.1 L1500.4,622.7 L1501.0,621.2 L1501.5,619.8 L1502.1,618.4 L1502.6,617.0 L1503.2,615.6 L1503.7,614.2 L1504.3,612.7 L1504.8,611.3 L1505.4,609.9 L1505.9,608.5 L1506.5,607.1 L1507.0,605.7 L1507.5,604.3 L1508.1,602.9 L1508.6,601.5 L1509.1,600.1 L1509.7,598.6 L1510.2,597.2 L1510.7,595.8 L1511.3,594.4 L1511.8,593.0 L1512.3,591.6 L1512.8,590.2 L1513.3,588.8 L1513.9,587.4 L1514.4,586.0 L1514.9,584.6 L1515.4,583.2 L1515.9,581.8 L1516.4,580.4 L1516.9,579.0 L1517.5,577.6 L1518.0,576.2 L1518.5,574.8 L1519.0,573.4 L1519.5,572.0 L1520.0,570.6 L1520.5,569.2 L1521.0,567.8 L1521.5,566.5 L1522.0,565.1 L1522.5,563.7 L1523.0,562.3 L1523.5,560.9 L1524.0,559.5 L1524.5,558.1 L1525.0,556.7 L1525.5,555.3 L1526.0,553.9 L1526.5,552.5 L1527.0,551.1 L1527.5,549.7 L1528.0,548.3 L1528.5,546.9 L1529.0,545.5 L1529.5,544.1 L1530.0,542.7 L1530.5,541.3 L1531.0,539.9 L1531.5,538.5 L1532.0,537.2 L1532.4,535.8 L1532.9,534.4 L1533.4,533.0 L1533.9,531.6 L1534.4,530.2 L1534.9,528.8 L1535.4,527.4 L1535.9,526.0 L1536.4,524.6 L1536.9,523.2 L1537.4,521.8 L1537.9,520.4 L1538.4,519.0 L1538.9,517.6 L1539.4,516.2 L1539.9,514.8 L1540.4,513.4 L1540.9,512.0 L1541.4,510.5 L1541.9,509.1 L1542.4,507.7 L1542.9,506.3 L1543.4,504.9 L1543.9,503.5 L1544.4,502.1 L1545.0,500.7 L1545.5,499.3 L1546.0,497.9 L1546.5,496.5 L1547.0,495.1 L1547.6,493.7 L1548.1,492.3 L1548.6,490.9 L1549.2,489.5 L1549.7,488.1 L1550.2,486.7 L1550.8,485.3 L1551.3,483.9 L1551.9,482.5 L1552.4,481.1 L1553.0,479.7 L1553.6,478.4 L1554.1,477.0 L1554.7,475.6 L1555.3,474.2 L1555.8,472.8 L1556.4,471.4 L1557.0,470.0 L1557.6,468.7 L1558.2,467.3 L1558.8,465.9 L1559.4,464.5 L1560.0,463.2 L1560.6,461.8 L1561.3,460.4 L1561.9,459.0 L1562.5,457.7 L1563.2,456.3 L1563.8,455.0 L1564.5,453.6 L1565.1,452.2 L1565.8,450.9 L1566.5,449.5 L1567.1,448.2 L1567.8,446.8 L1568.5,445.5 L1569.2,444.2 L1569.9,442.8 L1570.6,441.5 L1571.3,440.2 L1572.1,438.8 L1572.8,437.5 L1573.5,436.2 L1574.3,434.9 L1575.0,433.5 L1575.8,432.2 L1576.6,430.9 L1577.4,429.6 L1578.2,428.3 L1579.0,427.0 L1579.8,425.7 L1580.6,424.4 L1581.4,423.1 L1582.2,421.9 L1583.1,420.6 L1583.9,419.3 L1584.8,418.0 L1585.7,416.8 L1586.5,415.5 L1587.4,414.2 L1588.3,413.0 L1589.2,411.7 L1590.1,410.5 L1591.1,409.3 L1592.0,408.1 L1593.0,406.9 L1593.9,405.7 L1594.9,404.5 L1595.9,403.3 L1596.9,402.2 L1597.9,401.0 L1598.9,399.9 L1599.9,398.8 L1601.0,397.7 L1602.0,396.6 L1603.1,395.6 L1604.2,394.5 L1605.2,393.5 L1606.4,392.5 L1607.5,391.5 L1608.6,390.6 L1609.7,389.7 L1610.9,388.8 L1612.1,387.9 L1613.3,387.0 L1614.5,386.2 L1615.7,385.4 L1616.9,384.7 L1618.1,383.9 L1619.4,383.2 L1620.7,382.6 L1621.9,381.9 L1623.2,381.3 L1624.6,380.7 L1625.9,380.1 L1627.2,379.6 L1628.6,379.1 L1629.9,378.5 L1631.3,378.0 L1632.6,377.5 L1634.0,377.0 L1635.4,376.5 L1636.8,376.0 L1638.1,375.5 L1639.5,374.9 L1640.9,374.4 L1642.3,373.8 L1643.7,373.3 L1645.1,372.7 L1646.4,372.1 L1647.8,371.5 L1649.2,370.8 L1650.6,370.2 L1651.9,369.5 L1653.3,368.9 L1654.7,368.2 L1656.0,367.5 L1657.4,366.8 L1658.7,366.1 L1660.1,365.3 L1661.4,364.6 L1662.7,363.8 L1664.1,363.1 L1665.4,362.3 L1666.7,361.5 L1668.0,360.7 L1669.3,359.9 L1670.6,359.0 L1671.9,358.2 L1673.2,357.3 L1674.4,356.5 L1675.7,355.6 L1677.0,354.7 L1678.2,353.8 L1679.4,352.9 L1680.6,352.0 L1681.9,351.1 L1683.1,350.2 L1684.2,349.2 L1685.4,348.3 L1686.6,347.3 L1687.7,346.4 L1688.9,345.4 L1690.0,344.4 L1691.1,343.4 L1692.2,342.4 L1693.3,341.4 L1694.4,340.4 L1695.5,339.4 L1696.5,338.3 L1697.6,337.3 L1698.6,336.2 L1699.7,335.2 L1700.7,334.1 L1701.7,333.1 L1702.7,332.0 L1703.7,330.9 L1704.7,329.8 L1705.7,328.7 L1706.6,327.6 L1707.6,326.5 L1708.6,325.4 L1709.5,324.3 L1710.5,323.2 L1711.4,322.0 L1712.3,320.9 L1713.3,319.8 L1714.2,318.6 L1715.1,317.5 L1716.0,316.3 L1716.9,315.2 L1717.9,314.0 L1718.8,312.9 L1719.7,311.7 L1720.5,310.5 L1721.4,309.4 L1722.3,308.2 L1723.2,307.0 L1724.1,305.8 L1725.0,304.6 L1725.9,303.5 L1726.7,302.3 L1727.6,301.1 L1728.5,299.9 L1729.4,298.7 L1730.3,297.5 L1731.1,296.3 L1732.0,295.1 L1732.9,293.9 L1733.8,292.7 L1734.7,291.5 L1735.6,290.3 L1736.4,289.1 L1737.3,287.9 L1738.2,286.7 L1739.1,285.5 L1740.0,284.3 L1740.9,283.1 L1741.8,281.9 L1742.7,280.6 L1743.6,279.4 L1744.5,278.2 L1745.4,277.0 L1746.3,275.8 L1747.2,274.6 L1748.1,273.4 L1749.0,272.2 L1749.9,271.0 L1750.9,269.8 L1751.8,268.6 L1752.7,267.4 L1753.6,266.2 L1754.5,265.0 L1755.5,263.8 L1756.4,262.7 L1757.3,261.5 L1758.3,260.3 L1759.2,259.1 L1760.2,257.9 L1761.1,256.7 L1762.1,255.6 L1763.0,254.4 L1764.0,253.2 L1764.9,252.0 L1765.9,250.9 L1766.9,249.7 L1767.8,248.6 L1768.8,247.4 L1769.8,246.2 L1770.8,245.1 L1771.7,243.9 L1772.7,242.8 L1773.7,241.7 L1774.7,240.5 L1775.7,239.4 L1776.7,238.3 L1777.7,237.2 L1778.7,236.0 L1779.7,234.9 L1780.8,233.8 L1781.8,232.7 L1782.8,231.6 L1783.8,230.5 L1784.9,229.4 L1785.9,228.3 L1786.9,227.3 L1788.0,226.2 L1789.0,225.1 L1790.1,224.1 L1791.2,223.0 L1792.2,222.0 L1793.3,220.9 L1794.4,219.9 L1795.4,218.8 L1796.5,217.8 L1797.6,216.8 L1798.7,215.8 L1799.8,214.8 L1800.9,213.8 L1802.0,212.8 L1803.1,211.8 L1804.3,210.8 L1805.4,209.8 L1806.5,208.9 L1807.6,207.9 L1808.8,207.0 L1809.9,206.0 L1811.1,205.1 L1812.2,204.2 L1813.4,203.3 L1814.6,202.3 L1815.8,201.4 L1816.9,200.6 L1818.1,199.7 L1819.3,198.8 L1820.5,197.9 L1821.7,197.1 L1822.9,196.2 L1824.1,195.4 L1825.4,194.5 L1826.6,193.7 L1827.8,192.9 L1829.1,192.1 L1830.3,191.3 L1831.6,190.5 L1832.8,189.7 L1834.1,189.0 L1835.4,188.2 L1836.7,187.5 L1838.0,186.7 L1839.2,186.0 L1840.5,185.3 L1841.9,184.6 L1843.2,183.9 L1844.5,183.2 L1845.8,182.6 L1847.2,181.9 L1848.5,181.2 L1849.9,180.6 L1851.2,180.0 L1852.6,179.4 L1854.0,178.8 L1855.3,178.2 L1856.7,177.6 L1858.1,177.0 L1859.5,176.5 L1860.9,175.9 L1862.4,175.4 L1863.8,174.9 L1865.2,174.4 L1866.7,173.9 L1868.1,173.4 L1869.6,172.9 L1871.0,172.5 L1872.5,172.0 L1874.0,171.6 L1875.5,171.2 L1877.0,170.8 L1878.5,170.4 L1880.0,170.0 L1962.0,170.0" stroke="#0000ff"/>
<path d="M557.5,171.0 L642.0,171.0 L642.0,171.0 L643.5,170.8 L645.0,170.6 L646.4,170.4 L647.9,170.3 L649.4,170.1 L650.9,169.9 L652.4,169.7 L653.9,169.6 L655.3,169.4 L656.8,169.2 L658.3,169.1 L659.8,168.9 L661.3,168.8 L662.8,168.6 L664.3,168.5 L665.8,168.3 L667.3,168.2 L668.8,168.1 L670.3,167.9 L671.8,167.8 L673.3,167.7 L674.7,167.6 L676.2,167.4 L677.7,167.3 L679.2,167.2 L680.7,167.1 L682.2,167.0 L683.7,166.9 L685.2,166.8 L686.7,166.7 L688.2,166.6 L689.7,166.5 L691.2,166.4 L692.7,166.3 L694.2,166.3 L695.7,166.2 L697.2,166.1 L698.7,166.1 L700.2,166.0 L701.8,165.9 L703.3,165.9 L704.8,165.8 L706.3,165.8 L707.8,165.8 L709.3,165.7 L710.8,165.7 L712.3,165.7 L713.8,165.6 L715.3,165.6 L716.8,165.6 L718.3,165.6 L719.8,165.6 L721.3,165.6 L722.8,165.6 L724.3,165.6 L725.8,165.6 L727.3,165.6 L728.8,165.7 L730.3,165.7 L731.8,165.7 L733.3,165.7 L734.8,165.8 L736.3,165.8 L737.8,165.9 L739.3,165.9 L740.8,166.0 L742.2,166.1 L743.7,166.1 L745.2,166.2 L746.7,166.3 L748.2,166.4 L749.7,166.5 L751.2,166.6 L752.7,166.8 L754.1,166.9 L755.6,167.1 L757.1,167.3 L758.5,167.5 L760.0,167.7 L761.5,167.9 L762.9,168.2 L764.4,168.5 L765.8,168.8 L767.2,169.1 L768.7,169.5 L770.1,169.9 L771.5,170.3 L772.9,170.8 L774.3,171.3 L775.7,171.8 L777.1,172.3 L778.4,172.9 L779.8,173.5 L781.1,174.2 L782.5,174.9 L783.8,175.6 L785.1,176.4 L786.5,177.2 L787.8,178.0 L789.0,178.8 L790.3,179.7 L791.6,180.6 L792.8,181.5 L794.1,182.5 L795.3,183.4 L796.5,184.4 L797.7,185.4 L798.9,186.4 L800.1,187.4 L801.2,188.4 L802.4,189.4 L803.5,190.5 L804.6,191.5 L805.7,192.6 L806.8,193.6 L807.9,194.7 L809.0,195.8 L810.0,196.9 L811.0,198.0 L812.1,199.1 L813.1,200.2 L814.1,201.3 L815.0,202.4 L816.0,203.6 L817.0,204.7 L817.9,205.9 L818.8,207.0 L819.8,208.2 L820.7,209.4 L821.6,210.5 L822.4,211.7 L823.3,212.9 L824.2,214.1 L825.0,215.3 L825.9,216.6 L826.7,217.8 L827.5,219.0 L828.3,220.3 L829.1,221.5 L829.9,222.7 L830.6,224.0 L831.4,225.3 L832.2,226.5 L832.9,227.8 L833.6,229.1 L834.3,230.4 L835.0,231.7 L835.7,233.0 L836.4,234.3 L837.1,235.6 L837.8,236.9 L838.4,238.2 L839.1,239.6 L839.7,240.9 L840.4,242.2 L841.0,243.6 L841.6,244.9 L842.2,246.3 L842.8,247.6 L843.4,249.0 L844.0,250.4 L844.6,251.7 L845.1,253.1 L845.7,254.5 L846.3,255.9 L846.8,257.3 L847.3,258.6 L847.9,260.0 L848.4,261.4 L848.9,262.8 L849.4,264.3 L849.9,265.7 L850.4,267.1 L850.9,268.5 L851.4,269.9 L851.9,271.4 L852.3,272.8 L852.8,274.2 L853.3,275.6 L853.7,277.1 L854.2,278.5 L854.6,280.0 L855.0,281.4 L855.5,282.9 L855.9,284.3 L856.3,285.8 L856.7,287.2 L857.1,288.7 L857.6,290.1 L858.0,291.6 L858.4,293.1 L858.7,294.5 L859.1,296.0 L859.5,297.5 L859.9,299.0 L860.3,300.4 L860.7,301.9 L861.0,303.4 L861.4,304.9 L861.8,306.3 L862.1,307.8 L862.5,309.3 L862.8,310.8 L863.2,312.3 L863.5,313.7 L863.9,315.2 L864.2,316.7 L864.6,318.2 L864.9,319.7 L865.2,321.2 L865.6,322.7 L865.9,324.1 L866.2,325.6 L866.6,327.1 L866.9,328.6 L867.2,330.1 L867.6,331.6 L867.9,333.1 L868.2,334.5 L868.5,336.0 L868.9,337.5 L869.2,339.0 L869.5,340.5 L869.8,342.0 L870.2,343.4 L870.5,344.9 L870.8,346.4 L871.1,347.9 L871.4,349.4 L871.8,350.8 L872.1,352.3 L872.4,353.8 L872.7,355.3 L873.1,356.7 L873.4,358.2 L873.7,359.7 L874.0,361.1 L874.3,362.6 L874.7,364.1 L875.0,365.6 L875.3,367.0 L875.6,368.5 L875.9,370.0 L876.3,371.4 L876.6,372.9 L876.9,374.3 L877.2,375.8 L877.5,377.3 L877.9,378.7 L878.2,380.2 L878.5,381.7 L878.8,383.1 L879.1,384.6 L879.4,386.0 L879.8,387.5 L880.1,389.0 L880.4,390.4 L880.7,391.9 L881.0,393.3 L881.4,394.8 L881.7,396.2 L882.0,397.7 L882.3,399.2 L882.6,400.6 L882.9,402.1 L883.3,403.5 L883.6,405.0 L883.9,406.4 L884.2,407.9 L884.5,409.3 L884.9,410.8 L885.2,412.2 L885.5,413.7 L885.8,415.1 L886.1,416.6 L886.4,418.0 L886.8,419.5 L887.1,420.9 L887.4,422.4 L887.7,423.8 L888.0,425.3 L888.3,426.7 L888.7,428.2 L889.0,429.6 L889.3,431.1 L889.6,432.5 L889.9,434.0 L890.3,435.4 L890.6,436.9 L890.9,438.3 L891.2,439.8 L891.5,441.2 L891.9,442.7 L892.2,444.1 L892.5,445.6 L892.8,447.0 L893.1,448.5 L893.5,449.9 L893.8,451.4 L894.1,452.8 L894.4,454.3 L894.7,455.7 L895.1,457.1 L895.4,458.6 L895.7,460.0 L896.0,461.5 L896.3,462.9 L896.7,464.4 L897.0,465.8 L897.3,467.3 L897.6,468.7 L898.0,470.2 L898.3,471.6 L898.6,473.1 L898.9,474.5 L899.3,476.0 L899.6,477.4 L899.9,478.9 L900.2,480.3 L900.6,481.8 L900.9,483.2 L901.2,484.7 L901.5,486.1 L901.9,487.6 L902.2,489.0 L902.5,490.5 L902.8,491.9 L903.2,493.4 L903.5,494.8 L903.8,496.3 L904.1,497.7 L904.5,499.2 L904.8,500.6 L905.1,502.1 L905.5,503.5 L905.8,505.0 L906.1,506.5 L906.5,507.9 L906.8,509.4 L907.1,510.8 L907.4,512.3 L907.8,513.7 L908.1,515.2 L908.4,516.6 L908.8,518.1 L909.1,519.6 L909.4,521.0 L909.8,522.5 L910.1,523.9 L910.5,525.4 L910.8,526.9 L911.1,528.3 L911.5,529.8 L911.8,531.3 L912.1,532.7 L912.5,534.2 L912.8,535.7 L913.2,537.1 L913.5,538.6 L913.8,540.1 L914.2,541.5 L914.5,543.0 L914.9,544.5 L915.2,545.9 L915.5,547.4 L915.9,548.9 L916.2,550.4 L916.6,551.8 L916.9,553.3 L917.3,554.8 L917.6,556.3 L918.0,557.7 L918.3,559.2 L918.7,560.7 L919.0,562.2 L919.4,563.7 L919.7,565.1 L920.1,566.6 L920.4,568.1 L920.8,569.6 L921.1,571.1 L921.5,572.6 L921.8,574.0 L922.2,575.5 L922.5,577.0 L922.9,578.5 L923.2,580.0 L923.6,581.5 L923.9,583.0 L924.3,584.5 L924.7,586.0 L925.0,587.5 L925.4,588.9 L925.7,590.4 L926.1,591.9 L926.5,593.4 L926.8,594.9 L927.2,596.4 L927.5,597.9 L927.9,599.4 L928.3,600.8 L928.6,602.3 L929.0,603.8 L929.4,605.3 L929.7,606.8 L930.1,608.3 L930.5,609.7 L930.9,611.2 L931.2,612.7 L931.6,614.2 L932.0,615.6 L932.3,617.1 L932.7,618.6 L933.1,620.1 L933.5,621.5 L933.8,623.0 L934.2,624.4 L934.6,625.9 L935.0,627.4 L935.3,628.8 L935.7,630.3 L936.1,631.7 L936.5,633.2 L936.9,634.6 L937.3,636.0 L937.6,637.5 L938.0,638.9 L938.4,640.3 L938.8,641.8 L939.2,643.2 L939.6,644.6 L940.0,646.0 L940.3,647.4 L940.7,648.8 L941.1,650.2 L941.5,651.6 L941.9,653.0 L942.3,654.4 L942.7,655.8 L943.2,657.2 L943.6,658.6 L944.0,660.0 L944.5,661.3 L945.0,662.7 L945.4,664.1 L945.9,665.4 L946.4,666.8 L947.0,668.1 L947.5,669.5 L948.1,670.8 L948.7,672.1 L949.3,673.5 L950.0,674.8 L950.6,676.1 L951.3,677.4 L952.0,678.7 L952.8,680.0 L953.6,681.3 L954.4,682.6 L955.2,683.8 L956.1,685.1 L957.0,686.4 L958.0,687.6 L958.9,688.9 L960.0,690.1 L961.0,691.4 L962.1,692.6 L963.2,693.7 L964.4,694.8 L965.6,695.9 L966.8,696.9 L968.0,697.8 L969.2,698.7 L970.5,699.5 L971.7,700.1 L973.0,700.7 L974.3,701.1 L975.6,701.4 L976.9,701.6 L978.2,701.6 L979.5,701.5 L980.8,701.3 L982.1,701.0 L983.3,700.5 L984.6,699.9 L985.8,699.2 L987.1,698.5 L988.3,697.6 L989.5,696.6 L990.6,695.6 L991.8,694.5 L992.9,693.3 L994.0,692.0 L995.0,690.7 L996.0,689.4 L997.0,688.0 L997.9,686.5 L998.8,685.0 L999.7,683.5 L1000.5,682.0 L1001.3,680.5 L1002.1,678.9 L1002.9,677.4 L1003.6,675.8 L1004.3,674.3 L1005.1,672.8 L1005.8,671.3 L1006.5,669.8 L1007.1,668.4 L1007.8,667.0 L1008.5,665.6 L1009.1,664.2 L1009.8,662.8 L1010.4,661.4 L1011.1,660.1 L1011.7,658.8 L1012.3,657.4 L1012.9,656.1 L1013.6,654.8 L1014.2,653.5 L1014.8,652.3 L1015.4,651.0 L1016.0,649.7 L1016.6,648.5 L1017.2,647.2 L1017.7,646.0 L1018.3,644.7 L1018.9,643.4 L1019.5,642.2 L1020.1,640.9 L1020.7,639.7 L1021.3,638.4 L1021.9,637.2 L1022.4,635.9 L1023.0,634.6 L1023.6,633.3 L1024.2,632.0 L1024.8,630.7 L1025.4,629.4 L1026.0,628.1 L1026.7,626.7 L1027.3,625.4 L1027.9,624.0 L1028.5,622.6 L1029.2,621.2 L1029.8,619.8 L1030.4,618.3 L1031.1,616.9 L1031.8,615.4 L1032.4,613.9 L1033.1,612.5 L1033.8,611.0 L1034.5,609.5 L1035.2,608.0 L1036.0,606.5 L1036.7,605.0 L1037.5,603.6 L1038.3,602.1 L1039.1,600.6 L1039.9,599.2 L1040.7,597.8 L1041.6,596.4 L1042.4,595.0 L1043.3,593.7 L1044.3,592.4 L1045.2,591.1 L1046.1,589.9 L1047.1,588.7 L1048.1,587.5 L1049.2,586.4 L1050.2,585.3 L1051.3,584.2 L1052.4,583.3 L1053.6,582.3 L1054.7,581.4 L1055.9,580.6 L1057.2,579.8 L1058.4,579.1 L1059.7,578.5 L1061.0,577.9 L1062.4,577.4 L1063.8,577.0 L1065.1,576.7 L1066.5,576.4 L1067.9,576.2 L1069.3,576.1 L1070.7,576.0 L1072.1,576.1 L1073.5,576.2 L1074.9,576.5 L1076.3,576.8 L1077.7,577.2 L1079.0,577.7 L1080.3,578.2 L1081.6,578.8 L1082.9,579.5 L1084.1,580.2 L1085.3,581.0 L1086.5,581.9 L1087.6,582.8 L1088.7,583.7 L1089.8,584.7 L1090.8,585.7 L1091.8,586.8 L1092.7,587.8 L1093.7,589.0 L1094.6,590.1 L1095.5,591.3 L1096.4,592.4 L1097.2,593.6 L1098.1,594.8 L1099.0,596.0 L1099.8,597.2 L1100.6,598.5 L1101.5,599.7 L1102.3,600.9 L1103.1,602.2 L1103.9,603.4 L1104.7,604.7 L1105.5,606.0 L1106.3,607.3 L1107.1,608.6 L1107.9,609.9 L1108.7,611.2 L1109.4,612.5 L1110.2,613.8 L1110.9,615.1 L1111.7,616.4 L1112.4,617.8 L1113.2,619.1 L1113.9,620.5 L1114.6,621.8 L1115.3,623.2 L1116.0,624.5 L1116.8,625.9 L1117.5,627.2 L1118.2,628.6 L1118.9,630.0 L1119.5,631.4 L1120.2,632.7 L1120.9,634.1 L1121.6,635.5 L1122.3,636.9 L1122.9,638.3 L1123.6,639.7 L1124.3,641.1 L1124.9,642.4 L1125.6,643.8 L1126.3,645.2 L1126.9,646.6 L1127.6,648.0 L1128.2,649.4 L1128.9,650.8 L1129.5,652.2 L1130.1,653.6 L1130.8,655.0 L1131.4,656.4 L1132.1,657.7 L1132.7,659.1 L1133.3,660.5 L1134.0,661.9 L1134.6,663.3 L1135.2,664.6 L1135.9,666.0 L1136.5,667.4 L1137.1,668.7 L1137.7,670.1 L1138.4,671.4 L1139.0,672.8 L1139.6,674.1 L1140.3,675.5 L1140.9,676.8 L1141.5,678.1 L1142.2,679.5 L1142.8,680.8 L1143.4,682.1 L1144.1,683.4 L1144.7,684.7 L1145.4,686.0 L1146.0,687.3 L1146.7,688.6 L1147.4,689.9 L1148.1,691.2 L1148.7,692.5 L1149.4,693.7 L1150.1,695.0 L1150.8,696.3 L1151.5,697.5 L1152.2,698.8 L1153.0,700.0 L1153.7,701.3 L1154.5,702.5 L1155.2,703.8 L1156.0,705.0 L1156.8,706.2 L1157.6,707.5 L1158.4,708.7 L1159.2,709.9 L1160.0,711.1 L1160.9,712.3 L1161.8,713.5 L1162.6,714.7 L1163.5,715.9 L1164.4,717.1 L1165.4,718.3 L1166.3,719.5 L1167.3,720.7 L1168.3,721.9 L1169.3,723.1 L1170.3,724.2 L1171.3,725.4 L1172.4,726.6 L1173.4,727.7 L1174.5,728.8 L1175.6,730.0 L1176.8,731.1 L1177.9,732.2 L1179.0,733.3 L1180.2,734.4 L1181.4,735.4 L1182.6,736.4 L1183.8,737.4 L1185.1,738.4 L1186.3,739.4 L1187.6,740.3 L1188.8,741.2 L1190.1,742.1 L1191.4,742.9 L1192.7,743.7 L1194.0,744.4 L1195.4,745.2 L1196.7,745.8 L1198.1,746.5 L1199.4,747.1 L1200.8,747.6 L1202.2,748.1 L1203.6,748.6 L1205.0,749.0 L1206.4,749.4 L1207.8,749.7 L1209.3,749.9 L1210.7,750.1 L1212.1,750.3 L1213.6,750.3 L1215.0,750.4 L1216.5,750.4 L1218.0,750.4 L1219.4,750.3 L1220.9,750.2 L1222.4,750.1 L1223.9,750.0 L1225.4,749.9 L1226.9,749.7 L1228.3,749.6 L1229.8,749.5 L1231.3,749.4 L1232.8,749.3 L1234.4,749.2 L1235.9,749.1 L1237.4,749.1 L1238.9,749.2 L1240.4,749.2 L1241.9,749.3 L1243.4,749.5 L1244.9,749.7 L1246.4,749.9 L1247.9,750.2 L1249.4,750.5 L1250.9,750.8 L1252.4,751.2 L1253.9,751.5 L1255.4,751.9 L1256.9,752.4 L1258.4,752.8 L1259.9,753.3 L1261.4,753.7 L1262.9,754.2 L1264.4,754.7 L1265.9,755.1 L1267.3,755.6 L1268.8,756.1 L1270.3,756.5 L1271.8,757.0 L1273.2,757.4 L1274.7,757.9 L1276.2,758.3 L1277.6,758.7 L1279.1,759.1 L1280.5,759.4 L1282.0,759.8 L1283.4,760.1 L1284.8,760.3 L1286.3,760.5 L1287.7,760.7 L1289.1,760.9 L1290.5,761.0 L1291.9,761.1 L1293.3,761.1 L1294.7,761.0 L1296.1,760.9 L1297.5,760.8 L1298.9,760.6 L1300.2,760.3 L1301.6,760.0 L1303.0,759.6 L1304.3,759.2 L1305.7,758.8 L1307.0,758.3 L1308.3,757.7 L1309.7,757.1 L1311.0,756.5 L1312.3,755.8 L1313.6,755.0 L1314.9,754.3 L1316.2,753.5 L1317.4,752.7 L1318.7,751.8 L1319.9,750.9 L1321.2,750.0 L1322.4,749.1 L1323.7,748.1 L1324.9,747.2 L1326.1,746.2 L1327.3,745.1 L1328.5,744.1 L1329.7,743.0 L1330.8,742.0 L1332.0,740.9 L1333.1,739.8 L1334.3,738.7 L1335.4,737.6 L1336.5,736.5 L1337.6,735.4 L1338.7,734.3 L1339.8,733.2 L1340.9,732.1 L1341.9,731.0 L1343.0,729.8 L1344.0,728.7 L1345.1,727.6 L1346.1,726.5 L1347.2,725.3 L1348.2,724.2 L1349.2,723.1 L1350.3,721.9 L1351.3,720.8 L1352.3,719.7 L1353.3,718.5 L1354.3,717.4 L1355.4,716.2 L1356.4,715.1 L1357.4,714.0 L1358.4,712.8 L1359.5,711.7 L1360.5,710.6 L1361.5,709.4 L1362.5,708.3 L1363.6,707.2 L1364.6,706.0 L1365.7,704.9 L1366.7,703.8 L1367.8,702.7 L1368.9,701.5 L1369.9,700.4 L1371.0,699.3 L1372.1,698.2 L1373.2,697.1 L1374.4,696.1 L1375.5,695.0 L1376.6,694.0 L1377.8,693.0 L1379.0,692.1 L1380.1,691.2 L1381.3,690.3 L1382.5,689.5 L1383.8,688.7 L1385.0,688.0 L1386.3,687.3 L1387.5,686.7 L1388.8,686.2 L1390.1,685.7 L1391.5,685.3 L1392.8,685.0 L1394.2,684.7 L1395.5,684.5 L1396.9,684.3 L1398.3,684.2 L1399.7,684.1 L1401.1,684.1 L1402.5,684.1 L1403.9,684.2 L1405.3,684.4 L1406.7,684.6 L1408.2,684.9 L1409.6,685.2 L1411.1,685.6 L1412.5,686.0 L1413.9,686.5 L1415.4,687.0 L1416.8,687.5 L1418.3,688.2 L1419.7,688.8 L1421.1,689.5 L1422.6,690.3 L1424.0,691.0 L1425.5,691.8 L1426.9,692.6 L1428.3,693.5 L1429.7,694.3 L1431.1,695.1 L1432.6,696.0 L1434.0,696.8 L1435.4,697.6 L1436.8,698.4 L1438.2,699.2 L1439.5,699.9 L1440.9,700.6 L1442.3,701.3 L1443.7,702.0 L1445.0,702.5 L1446.4,703.1 L1447.7,703.6 L1449.0,704.0 L1450.4,704.3 L1451.7,704.6 L1453.0,704.8 L1454.3,704.9 L1455.6,704.9 L1456.8,704.8 L1458.1,704.6 L1459.3,704.4 L1460.6,704.0 L1461.8,703.6 L1463.0,703.1 L1464.2,702.6 L1465.4,701.9 L1466.6,701.2 L1467.8,700.4 L1468.9,699.6 L1470.1,698.7 L1471.2,697.8 L1472.3,696.8 L1473.4,695.8 L1474.5,694.7 L1475.5,693.5 L1476.6,692.4 L1477.6,691.2 L1478.6,690.0 L1479.6,688.7 L1480.6,687.4 L1481.6,686.1 L1482.5,684.8 L1483.5,683.5 L1484.4,682.1 L1485.3,680.8 L1486.2,679.4 L1487.1,678.1 L1487.9,676.7 L1488.8,675.3 L1489.6,673.9 L1490.4,672.5 L1491.2,671.1 L1492.0,669.7 L1492.7,668.3 L1493.5,666.9 L1494.2,665.4 L1494.9,664.0 L1495.6,662.6 L1496.2,661.2 L1496.9,659.8 L1497.5,658.3 L1498.1,656.9 L1498.7,655.5 L1499.3,654.1 L1499.9,652.7 L1500.4,651.2 L1501.0,649.8 L1501.5,648.4 L1502.0,647.0 L1502.5,645.6 L1503.0,644.1 L1503.4,642.7 L1503.9,641.3 L1504.4,639.9 L1504.8,638.5 L1505.2,637.1 L1505.7,635.7 L1506.1,634.2 L1506.5,632.8 L1506.9,631.4 L1507.3,630.0 L1507.7,628.6 L1508.1,627.2 L1508.5,625.8 L1508.9,624.4 L1509.2,623.0 L1509.6,621.6 L1510.0,620.1 L1510.4,618.7 L1510.8,617.3 L1511.2,615.9 L1511.5,614.5 L1511.9,613.1 L1512.3,611.7 L1512.7,610.3 L1513.1,608.9 L1513.5,607.5 L1513.9,606.1 L1514.3,604.7 L1514.7,603.3 L1515.2,601.9 L1515.6,600.5 L1516.1,599.0 L1516.5,597.6 L1517.0,596.2 L1517.4,594.8 L1517.9,593.4 L1518.4,592.0 L1518.9,590.6 L1519.4,589.2 L1519.9,587.8 L1520.4,586.4 L1520.9,585.0 L1521.4,583.6 L1521.9,582.2 L1522.5,580.8 L1523.0,579.4 L1523.5,578.0 L1524.0,576.6 L1524.6,575.2 L1525.1,573.8 L1525.6,572.4 L1526.2,571.0 L1526.7,569.6 L1527.2,568.2 L1527.8,566.8 L1528.3,565.3 L1528.8,563.9 L1529.3,562.5 L1529.9,561.1 L1530.4,559.7 L1530.9,558.3 L1531.4,556.9 L1531.9,555.5 L1532.4,554.1 L1532.9,552.7 L1533.4,551.3 L1533.9,549.9 L1534.4,548.5 L1534.9,547.1 L1535.4,545.7 L1535.9,544.3 L1536.4,542.9 L1536.8,541.4 L1537.3,540.0 L1537.8,538.6 L1538.3,537.2 L1538.8,535.8 L1539.3,534.4 L1539.7,533.0 L1540.2,531.6 L1540.7,530.2 L1541.2,528.8 L1541.6,527.4 L1542.1,525.9 L1542.6,524.5 L1543.1,523.1 L1543.6,521.7 L1544.1,520.3 L1544.5,518.9 L1545.0,517.5 L1545.5,516.0 L1546.0,514.6 L1546.5,513.2 L1547.0,511.8 L1547.5,510.4 L1548.0,509.0 L1548.5,507.5 L1549.0,506.1 L1549.5,504.7 L1550.0,503.3 L1550.6,501.9 L1551.1,500.4 L1551.6,499.0 L1552.1,497.6 L1552.7,496.2 L1553.2,494.8 L1553.8,493.3 L1554.3,491.9 L1554.9,490.5 L1555.4,489.0 L1556.0,487.6 L1556.6,486.2 L1557.1,484.8 L1557.7,483.3 L1558.3,481.9 L1558.9,480.5 L1559.5,479.0 L1560.1,477.6 L1560.7,476.2 L1561.3,474.7 L1562.0,473.3 L1562.6,471.9 L1563.3,470.5 L1563.9,469.0 L1564.6,467.6 L1565.3,466.2 L1566.0,464.8 L1566.6,463.4 L1567.4,462.0 L1568.1,460.7 L1568.8,459.3 L1569.5,457.9 L1570.3,456.6 L1571.0,455.2 L1571.8,453.9 L1572.6,452.6 L1573.4,451.3 L1574.2,450.0 L1575.0,448.7 L1575.9,447.5 L1576.7,446.2 L1577.6,445.0 L1578.5,443.8 L1579.4,442.6 L1580.3,441.4 L1581.2,440.2 L1582.2,439.1 L1583.1,438.0 L1584.1,436.9 L1585.1,435.8 L1586.1,434.8 L1587.1,433.8 L1588.2,432.8 L1589.2,431.8 L1590.3,430.8 L1591.4,429.9 L1592.5,429.0 L1593.7,428.2 L1594.8,427.3 L1596.0,426.5 L1597.2,425.7 L1598.4,425.0 L1599.6,424.3 L1600.9,423.6 L1602.2,422.9 L1603.5,422.3 L1604.8,421.7 L1606.1,421.1 L1607.5,420.6 L1608.8,420.1 L1610.2,419.6 L1611.6,419.1 L1613.0,418.6 L1614.4,418.1 L1615.8,417.7 L1617.3,417.3 L1618.7,416.8 L1620.1,416.4 L1621.6,416.0 L1623.1,415.6 L1624.5,415.2 L1626.0,414.7 L1627.4,414.3 L1628.9,413.9 L1630.4,413.5 L1631.8,413.0 L1633.3,412.6 L1634.8,412.1 L1636.2,411.7 L1637.7,411.2 L1639.1,410.7 L1640.5,410.1 L1642.0,409.6 L1643.4,409.0 L1644.8,408.4 L1646.2,407.8 L1647.6,407.2 L1648.9,406.6 L1650.3,405.9 L1651.7,405.2 L1653.0,404.5 L1654.4,403.8 L1655.7,403.1 L1657.0,402.3 L1658.3,401.5 L1659.6,400.7 L1660.9,399.9 L1662.1,399.1 L1663.4,398.3 L1664.6,397.4 L1665.8,396.6 L1667.0,395.7 L1668.2,394.8 L1669.4,393.9 L1670.6,392.9 L1671.7,392.0 L1672.9,391.0 L1674.0,390.1 L1675.1,389.1 L1676.2,388.1 L1677.3,387.1 L1678.3,386.1 L1679.4,385.1 L1680.4,384.0 L1681.4,383.0 L1682.4,381.9 L1683.4,380.8 L1684.4,379.7 L1685.4,378.6 L1686.3,377.5 L1687.3,376.4 L1688.2,375.3 L1689.1,374.2 L1690.0,373.0 L1690.9,371.9 L1691.8,370.7 L1692.7,369.6 L1693.6,368.4 L1694.5,367.2 L1695.3,366.1 L1696.2,364.9 L1697.0,363.7 L1697.9,362.5 L1698.7,361.3 L1699.5,360.1 L1700.4,358.9 L1701.2,357.6 L1702.0,356.4 L1702.8,355.2 L1703.6,354.0 L1704.4,352.7 L1705.2,351.5 L1706.0,350.3 L1706.8,349.0 L1707.6,347.8 L1708.4,346.5 L1709.2,345.3 L1710.0,344.0 L1710.8,342.8 L1711.6,341.5 L1712.4,340.2 L1713.2,339.0 L1713.9,337.7 L1714.7,336.4 L1715.5,335.2 L1716.3,333.9 L1717.1,332.6 L1717.8,331.4 L1718.6,330.1 L1719.4,328.8 L1720.2,327.5 L1720.9,326.2 L1721.7,324.9 L1722.5,323.7 L1723.2,322.4 L1724.0,321.1 L1724.8,319.8 L1725.5,318.5 L1726.3,317.2 L1727.1,315.9 L1727.8,314.6 L1728.6,313.3 L1729.4,312.0 L1730.1,310.7 L1730.9,309.4 L1731.7,308.1 L1732.4,306.8 L1733.2,305.5 L1733.9,304.2 L1734.7,302.9 L1735.5,301.6 L1736.2,300.3 L1737.0,299.0 L1737.8,297.7 L1738.5,296.4 L1739.3,295.1 L1740.1,293.8 L1740.9,292.5 L1741.6,291.2 L1742.4,289.9 L1743.2,288.6 L1744.0,287.3 L1744.7,286.0 L1745.5,284.7 L1746.3,283.4 L1747.1,282.1 L1747.9,280.8 L1748.6,279.6 L1749.4,278.3 L1750.2,277.0 L1751.0,275.7 L1751.8,274.4 L1752.6,273.1 L1753.4,271.8 L1754.2,270.5 L1755.0,269.3 L1755.8,268.0 L1756.6,266.7 L1757.4,265.4 L1758.2,264.1 L1759.1,262.9 L1759.9,261.6 L1760.7,260.3 L1761.5,259.1 L1762.3,257.8 L1763.2,256.5 L1764.0,255.3 L1764.8,254.0 L1765.7,252.8 L1766.5,251.5 L1767.4,250.3 L1768.2,249.0 L1769.1,247.8 L1769.9,246.5 L1770.8,245.3 L1771.7,244.0 L1772.5,242.8 L1773.4,241.6 L1774.3,240.4 L1775.2,239.1 L1776.1,237.9 L1776.9,236.7 L1777.8,235.5 L1778.7,234.3 L1779.6,233.1 L1780.6,231.9 L1781.5,230.7 L1782.4,229.5 L1783.3,228.3 L1784.2,227.1 L1785.2,225.9 L1786.1,224.8 L1787.1,223.6 L1788.0,222.4 L1789.0,221.3 L1789.9,220.1 L1790.9,219.0 L1791.9,217.8 L1792.8,216.7 L1793.8,215.6 L1794.8,214.4 L1795.8,213.3 L1796.8,212.2 L1797.8,211.1 L1798.8,210.0 L1799.8,208.9 L1800.9,207.8 L1801.9,206.8 L1802.9,205.7 L1804.0,204.6 L1805.0,203.6 L1806.1,202.6 L1807.2,201.5 L1808.2,200.5 L1809.3,199.5 L1810.4,198.5 L1811.5,197.5 L1812.6,196.5 L1813.7,195.5 L1814.8,194.6 L1815.9,193.6 L1817.1,192.6 L1818.2,191.7 L1819.4,190.8 L1820.5,189.9 L1821.7,189.0 L1822.8,188.1 L1824.0,187.2 L1825.2,186.3 L1826.4,185.5 L1827.6,184.6 L1828.8,183.8 L1830.0,183.0 L1831.2,182.1 L1832.5,181.3 L1833.7,180.6 L1835.0,179.8 L1836.2,179.0 L1837.5,178.3 L1838.8,177.6 L1840.1,176.8 L1841.3,176.1 L1842.7,175.4 L1844.0,174.8 L1845.3,174.1 L1846.6,173.5 L1848.0,172.8 L1849.3,172.2 L1850.7,171.6 L1852.0,171.0 L1853.4,170.4 L1854.8,169.9 L1856.2,169.3 L1857.6,168.8 L1859.0,168.3 L1860.5,167.8 L1861.9,167.3 L1863.4,166.9 L1864.8,166.4 L1866.3,166.0 L1867.8,165.6 L1869.3,165.2 L1870.8,164.9 L1872.3,164.5 L1873.8,164.2 L1875.3,163.8 L1876.9,163.5 L1878.4,163.3 L1880.0,163.0 L1962.0,163.0" stroke="#008080"/>
<path d="M557.5,184.0 L644.0,184.0 L644.0,184.0 L645.4,183.6 L646.9,183.1 L648.3,182.7 L649.7,182.3 L651.1,181.8 L652.6,181.4 L654.0,181.0 L655.4,180.5 L656.9,180.1 L658.3,179.6 L659.7,179.2 L661.2,178.7 L662.6,178.3 L664.0,177.8 L665.4,177.3 L666.9,176.9 L668.3,176.4 L669.7,176.0 L671.2,175.5 L672.6,175.1 L674.0,174.6 L675.5,174.1 L676.9,173.7 L678.3,173.2 L679.8,172.8 L681.2,172.3 L682.7,171.9 L684.1,171.4 L685.5,170.9 L687.0,170.5 L688.4,170.0 L689.8,169.6 L691.3,169.2 L692.7,168.7 L694.2,168.3 L695.6,167.8 L697.0,167.4 L698.5,167.0 L699.9,166.5 L701.4,166.1 L702.8,165.7 L704.2,165.3 L705.7,164.8 L707.1,164.4 L708.6,164.0 L710.0,163.6 L711.5,163.2 L712.9,162.8 L714.4,162.4 L715.8,162.0 L717.3,161.7 L718.7,161.3 L720.2,160.9 L721.6,160.5 L723.1,160.2 L724.5,159.8 L726.0,159.5 L727.4,159.1 L728.9,158.8 L730.3,158.5 L731.8,158.2 L733.3,157.8 L734.7,157.5 L736.2,157.2 L737.6,156.9 L739.1,156.6 L740.6,156.4 L742.0,156.1 L743.5,155.8 L745.0,155.6 L746.4,155.3 L747.9,155.1 L749.4,154.8 L750.8,154.6 L752.3,154.4 L753.8,154.2 L755.2,154.0 L756.7,153.8 L758.2,153.6 L759.7,153.4 L761.1,153.2 L762.6,153.1 L764.1,152.9 L765.6,152.8 L767.1,152.6 L768.5,152.5 L770.0,152.4 L771.5,152.2 L773.0,152.1 L774.5,152.0 L776.0,151.9 L777.5,151.8 L779.0,151.7 L780.4,151.6 L781.9,151.5 L783.4,151.5 L784.9,151.4 L786.4,151.3 L787.9,151.3 L789.4,151.2 L790.9,151.2 L792.4,151.2 L793.9,151.2 L795.4,151.1 L796.9,151.1 L798.4,151.1 L800.0,151.1 L801.5,151.1 L803.0,151.1 L804.5,151.1 L806.0,151.2 L807.5,151.2 L809.0,151.2 L810.6,151.3 L812.1,151.3 L813.6,151.4 L815.1,151.4 L816.7,151.5 L818.2,151.6 L819.7,151.6 L821.2,151.7 L822.8,151.8 L824.3,151.9 L825.8,152.0 L827.4,152.1 L828.9,152.2 L830.4,152.2 L832.0,152.3 L833.5,152.4 L835.0,152.5 L836.6,152.6 L838.1,152.7 L839.6,152.7 L841.2,152.8 L842.7,152.8 L844.2,152.9 L845.7,152.9 L847.2,153.0 L848.7,153.0 L850.3,153.1 L851.8,153.2 L853.3,153.2 L854.8,153.3 L856.3,153.5 L857.7,153.6 L859.2,153.8 L860.7,154.0 L862.2,154.2 L863.6,154.5 L865.1,154.8 L866.6,155.1 L868.0,155.4 L869.4,155.8 L870.9,156.2 L872.3,156.7 L873.7,157.1 L875.1,157.6 L876.5,158.2 L877.9,158.7 L879.3,159.3 L880.7,159.9 L882.0,160.5 L883.4,161.1 L884.7,161.8 L886.1,162.5 L887.4,163.2 L888.7,163.9 L890.0,164.6 L891.3,165.4 L892.6,166.1 L893.8,166.9 L895.1,167.7 L896.3,168.6 L897.6,169.4 L898.8,170.2 L900.0,171.1 L901.2,172.0 L902.3,172.9 L903.5,173.8 L904.7,174.7 L905.8,175.6 L906.9,176.5 L908.0,177.5 L909.1,178.4 L910.2,179.4 L911.3,180.4 L912.4,181.3 L913.4,182.3 L914.4,183.4 L915.5,184.4 L916.5,185.4 L917.5,186.4 L918.5,187.5 L919.5,188.5 L920.4,189.6 L921.4,190.7 L922.4,191.8 L923.3,192.9 L924.2,194.0 L925.2,195.1 L926.1,196.2 L927.0,197.4 L927.9,198.5 L928.8,199.6 L929.6,200.8 L930.5,202.0 L931.4,203.1 L932.2,204.3 L933.1,205.5 L933.9,206.7 L934.7,207.9 L935.5,209.1 L936.4,210.3 L937.2,211.6 L938.0,212.8 L938.7,214.0 L939.5,215.3 L940.3,216.5 L941.1,217.8 L941.8,219.0 L942.6,220.3 L943.3,221.6 L944.1,222.9 L944.8,224.1 L945.6,225.4 L946.3,226.7 L947.0,228.0 L947.7,229.3 L948.4,230.6 L949.2,232.0 L949.9,233.3 L950.6,234.6 L951.3,235.9 L951.9,237.3 L952.6,238.6 L953.3,239.9 L954.0,241.3 L954.7,242.6 L955.3,244.0 L956.0,245.3 L956.7,246.7 L957.3,248.0 L958.0,249.4 L958.7,250.8 L959.3,252.1 L960.0,253.5 L960.6,254.9 L961.3,256.2 L961.9,257.6 L962.6,259.0 L963.2,260.4 L963.9,261.8 L964.5,263.1 L965.1,264.5 L965.8,265.9 L966.4,267.3 L967.1,268.7 L967.7,270.1 L968.4,271.4 L969.0,272.8 L969.6,274.2 L970.3,275.6 L970.9,277.0 L971.6,278.4 L972.2,279.8 L972.9,281.1 L973.5,282.5 L974.1,283.9 L974.8,285.3 L975.4,286.7 L976.1,288.0 L976.8,289.4 L977.4,290.8 L978.1,292.2 L978.7,293.5 L979.4,294.9 L980.1,296.3 L980.7,297.7 L981.4,299.0 L982.1,300.4 L982.8,301.7 L983.5,303.1 L984.2,304.5 L984.8,305.8 L985.5,307.2 L986.2,308.5 L986.9,309.9 L987.6,311.2 L988.3,312.5 L989.0,313.9 L989.8,315.2 L990.5,316.6 L991.2,317.9 L991.9,319.2 L992.6,320.6 L993.3,321.9 L994.1,323.2 L994.8,324.5 L995.5,325.9 L996.3,327.2 L997.0,328.5 L997.7,329.8 L998.5,331.2 L999.2,332.5 L999.9,333.8 L1000.7,335.1 L1001.4,336.4 L1002.2,337.7 L1002.9,339.0 L1003.7,340.3 L1004.5,341.6 L1005.2,342.9 L1006.0,344.2 L1006.7,345.5 L1007.5,346.8 L1008.3,348.1 L1009.0,349.4 L1009.8,350.7 L1010.6,352.0 L1011.4,353.3 L1012.1,354.6 L1012.9,355.9 L1013.7,357.2 L1014.5,358.4 L1015.3,359.7 L1016.1,361.0 L1016.8,362.3 L1017.6,363.6 L1018.4,364.8 L1019.2,366.1 L1020.0,367.4 L1020.8,368.7 L1021.6,369.9 L1022.4,371.2 L1023.2,372.5 L1024.0,373.8 L1024.8,375.0 L1025.6,376.3 L1026.4,377.6 L1027.2,378.8 L1028.0,380.1 L1028.8,381.4 L1029.6,382.6 L1030.5,383.9 L1031.3,385.1 L1032.1,386.4 L1032.9,387.7 L1033.7,388.9 L1034.5,390.2 L1035.4,391.4 L1036.2,392.7 L1037.0,393.9 L1037.8,395.2 L1038.6,396.4 L1039.5,397.7 L1040.3,399.0 L1041.1,400.2 L1041.9,401.5 L1042.8,402.7 L1043.6,403.9 L1044.4,405.2 L1045.2,406.4 L1046.1,407.7 L1046.9,408.9 L1047.7,410.2 L1048.6,411.4 L1049.4,412.7 L1050.2,413.9 L1051.1,415.2 L1051.9,416.4 L1052.7,417.6 L1053.6,418.9 L1054.4,420.1 L1055.2,421.4 L1056.1,422.6 L1056.9,423.9 L1057.7,425.1 L1058.6,426.3 L1059.4,427.6 L1060.2,428.8 L1061.1,430.1 L1061.9,431.3 L1062.8,432.5 L1063.6,433.8 L1064.4,435.0 L1065.3,436.2 L1066.1,437.5 L1066.9,438.7 L1067.8,440.0 L1068.6,441.2 L1069.5,442.4 L1070.3,443.7 L1071.1,444.9 L1072.0,446.2 L1072.8,447.4 L1073.6,448.6 L1074.5,449.9 L1075.3,451.1 L1076.1,452.3 L1077.0,453.6 L1077.8,454.8 L1078.7,456.1 L1079.5,457.3 L1080.3,458.5 L1081.1,459.8 L1082.0,461.0 L1082.8,462.3 L1083.6,463.5 L1084.5,464.7 L1085.3,466.0 L1086.1,467.2 L1087.0,468.5 L1087.8,469.7 L1088.6,470.9 L1089.4,472.2 L1090.3,473.4 L1091.1,474.7 L1091.9,475.9 L1092.7,477.2 L1093.6,478.4 L1094.4,479.6 L1095.2,480.9 L1096.0,482.1 L1096.8,483.4 L1097.7,484.6 L1098.5,485.9 L1099.3,487.1 L1100.1,488.4 L1100.9,489.6 L1101.7,490.9 L1102.5,492.1 L1103.3,493.4 L1104.1,494.6 L1105.0,495.9 L1105.8,497.1 L1106.6,498.4 L1107.4,499.6 L1108.2,500.9 L1109.0,502.2 L1109.8,503.4 L1110.6,504.7 L1111.4,505.9 L1112.1,507.2 L1112.9,508.5 L1113.7,509.7 L1114.5,511.0 L1115.3,512.2 L1116.1,513.5 L1116.9,514.8 L1117.6,516.0 L1118.4,517.3 L1119.2,518.6 L1120.0,519.9 L1120.8,521.1 L1121.5,522.4 L1122.3,523.7 L1123.1,525.0 L1123.8,526.2 L1124.6,527.5 L1125.4,528.8 L1126.1,530.1 L1126.9,531.4 L1127.6,532.6 L1128.4,533.9 L1129.1,535.2 L1129.9,536.5 L1130.6,537.8 L1131.4,539.1 L1132.1,540.4 L1132.9,541.7 L1133.6,543.0 L1134.3,544.3 L1135.1,545.5 L1135.8,546.8 L1136.5,548.1 L1137.3,549.4 L1138.0,550.8 L1138.7,552.1 L1139.4,553.4 L1140.1,554.7 L1140.9,556.0 L1141.6,557.3 L1142.3,558.6 L1143.0,559.9 L1143.7,561.2 L1144.4,562.5 L1145.1,563.9 L1145.8,565.2 L1146.5,566.5 L1147.2,567.8 L1147.9,569.1 L1148.6,570.5 L1149.3,571.8 L1150.0,573.1 L1150.7,574.4 L1151.4,575.8 L1152.1,577.1 L1152.7,578.4 L1153.4,579.7 L1154.1,581.1 L1154.8,582.4 L1155.5,583.7 L1156.1,585.1 L1156.8,586.4 L1157.5,587.7 L1158.1,589.1 L1158.8,590.4 L1159.5,591.8 L1160.1,593.1 L1160.8,594.4 L1161.5,595.8 L1162.1,597.1 L1162.8,598.5 L1163.5,599.8 L1164.1,601.2 L1164.8,602.5 L1165.4,603.9 L1166.1,605.2 L1166.8,606.6 L1167.4,607.9 L1168.1,609.3 L1168.7,610.6 L1169.4,612.0 L1170.1,613.3 L1170.7,614.7 L1171.4,616.1 L1172.1,617.4 L1172.7,618.8 L1173.4,620.1 L1174.1,621.5 L1174.7,622.9 L1175.4,624.2 L1176.1,625.6 L1176.8,626.9 L1177.5,628.3 L1178.2,629.7 L1178.9,631.0 L1179.5,632.4 L1180.2,633.8 L1181.0,635.1 L1181.7,636.5 L1182.4,637.9 L1183.1,639.2 L1183.8,640.6 L1184.5,642.0 L1185.3,643.4 L1186.0,644.7 L1186.8,646.1 L1187.5,647.5 L1188.3,648.9 L1189.0,650.2 L1189.8,651.6 L1190.6,653.0 L1191.3,654.3 L1192.1,655.7 L1192.9,657.1 L1193.7,658.4 L1194.5,659.8 L1195.4,661.1 L1196.2,662.5 L1197.0,663.8 L1197.9,665.1 L1198.7,666.4 L1199.6,667.7 L1200.5,669.0 L1201.4,670.3 L1202.2,671.6 L1203.2,672.8 L1204.1,674.1 L1205.0,675.3 L1205.9,676.5 L1206.9,677.7 L1207.9,678.9 L1208.8,680.1 L1209.8,681.2 L1210.8,682.3 L1211.8,683.4 L1212.9,684.5 L1213.9,685.6 L1215.0,686.6 L1216.0,687.6 L1217.1,688.6 L1218.2,689.6 L1219.3,690.5 L1220.5,691.5 L1221.6,692.3 L1222.8,693.2 L1224.0,694.0 L1225.1,694.8 L1226.3,695.6 L1227.6,696.3 L1228.8,697.0 L1230.0,697.7 L1231.3,698.3 L1232.5,698.9 L1233.8,699.4 L1235.1,699.9 L1236.3,700.3 L1237.6,700.7 L1238.9,701.0 L1240.2,701.3 L1241.5,701.5 L1242.7,701.7 L1244.0,701.8 L1245.3,701.8 L1246.6,701.8 L1247.9,701.7 L1249.1,701.5 L1250.4,701.3 L1251.7,701.0 L1252.9,700.6 L1254.1,700.1 L1255.4,699.6 L1256.6,699.0 L1257.8,698.3 L1259.0,697.5 L1260.2,696.6 L1261.4,695.7 L1262.5,694.7 L1263.7,693.6 L1264.8,692.5 L1266.0,691.4 L1267.1,690.2 L1268.2,688.9 L1269.3,687.6 L1270.4,686.3 L1271.4,685.0 L1272.5,683.6 L1273.6,682.3 L1274.6,680.9 L1275.7,679.5 L1276.7,678.1 L1277.7,676.7 L1278.8,675.4 L1279.8,674.0 L1280.8,672.6 L1281.8,671.3 L1282.7,669.9 L1283.7,668.6 L1284.7,667.3 L1285.7,666.0 L1286.6,664.7 L1287.6,663.4 L1288.5,662.1 L1289.5,660.8 L1290.4,659.6 L1291.3,658.4 L1292.3,657.1 L1293.2,655.9 L1294.1,654.8 L1295.0,653.6 L1295.9,652.4 L1296.8,651.3 L1297.7,650.2 L1298.6,649.0 L1299.5,647.9 L1300.4,646.8 L1301.3,645.7 L1302.2,644.6 L1303.0,643.6 L1303.9,642.5 L1304.8,641.4 L1305.7,640.3 L1306.6,639.2 L1307.4,638.1 L1308.3,637.0 L1309.2,635.9 L1310.0,634.8 L1310.9,633.7 L1311.8,632.5 L1312.6,631.4 L1313.5,630.2 L1314.4,629.0 L1315.3,627.8 L1316.1,626.7 L1317.0,625.5 L1317.9,624.2 L1318.8,623.0 L1319.7,621.8 L1320.6,620.6 L1321.5,619.3 L1322.4,618.1 L1323.4,616.8 L1324.3,615.5 L1325.2,614.3 L1326.2,613.0 L1327.2,611.8 L1328.1,610.5 L1329.1,609.3 L1330.1,608.0 L1331.2,606.8 L1332.2,605.6 L1333.2,604.4 L1334.3,603.3 L1335.4,602.1 L1336.5,601.0 L1337.6,599.9 L1338.7,598.9 L1339.8,597.9 L1341.0,596.9 L1342.2,596.0 L1343.4,595.0 L1344.6,594.2 L1345.9,593.4 L1347.1,592.6 L1348.4,591.8 L1349.7,591.1 L1351.0,590.4 L1352.3,589.8 L1353.6,589.1 L1355.0,588.5 L1356.3,588.0 L1357.7,587.5 L1359.1,587.0 L1360.4,586.5 L1361.8,586.1 L1363.3,585.7 L1364.7,585.3 L1366.1,585.0 L1367.5,584.7 L1369.0,584.4 L1370.4,584.2 L1371.9,584.0 L1373.4,583.8 L1374.8,583.6 L1376.3,583.4 L1377.8,583.3 L1379.3,583.2 L1380.8,583.2 L1382.3,583.1 L1383.7,583.1 L1385.2,583.1 L1386.7,583.1 L1388.2,583.1 L1389.7,583.1 L1391.2,583.2 L1392.7,583.2 L1394.2,583.2 L1395.7,583.3 L1397.2,583.3 L1398.7,583.3 L1400.1,583.3 L1401.6,583.3 L1403.1,583.3 L1404.5,583.2 L1406.0,583.2 L1407.4,583.1 L1408.9,582.9 L1410.3,582.8 L1411.7,582.6 L1413.2,582.4 L1414.6,582.1 L1416.0,581.8 L1417.3,581.4 L1418.7,581.0 L1420.1,580.6 L1421.4,580.0 L1422.8,579.5 L1424.1,578.9 L1425.4,578.2 L1426.7,577.5 L1428.0,576.8 L1429.3,576.0 L1430.5,575.2 L1431.8,574.3 L1433.0,573.4 L1434.3,572.5 L1435.5,571.5 L1436.7,570.5 L1437.9,569.5 L1439.1,568.5 L1440.3,567.4 L1441.5,566.3 L1442.7,565.2 L1443.8,564.1 L1445.0,563.0 L1446.1,561.8 L1447.3,560.6 L1448.4,559.5 L1449.5,558.3 L1450.6,557.1 L1451.7,555.9 L1452.8,554.7 L1453.9,553.5 L1455.0,552.3 L1456.1,551.1 L1457.1,549.9 L1458.2,548.8 L1459.3,547.6 L1460.3,546.4 L1461.4,545.3 L1462.4,544.1 L1463.4,543.0 L1464.5,541.9 L1465.5,540.8 L1466.5,539.7 L1467.5,538.6 L1468.5,537.5 L1469.5,536.5 L1470.5,535.4 L1471.5,534.4 L1472.5,533.3 L1473.5,532.3 L1474.5,531.2 L1475.5,530.2 L1476.5,529.2 L1477.4,528.1 L1478.4,527.1 L1479.4,526.1 L1480.3,525.1 L1481.3,524.0 L1482.3,523.0 L1483.2,522.0 L1484.2,521.0 L1485.2,519.9 L1486.1,518.9 L1487.1,517.8 L1488.0,516.8 L1489.0,515.7 L1489.9,514.7 L1490.9,513.6 L1491.8,512.6 L1492.8,511.5 L1493.8,510.4 L1494.7,509.3 L1495.7,508.2 L1496.6,507.1 L1497.6,505.9 L1498.5,504.8 L1499.5,503.7 L1500.5,502.5 L1501.4,501.3 L1502.4,500.1 L1503.4,498.9 L1504.3,497.7 L1505.3,496.5 L1506.3,495.3 L1507.2,494.1 L1508.2,492.8 L1509.2,491.6 L1510.2,490.4 L1511.2,489.1 L1512.2,487.9 L1513.2,486.6 L1514.2,485.4 L1515.1,484.1 L1516.2,482.9 L1517.2,481.6 L1518.2,480.4 L1519.2,479.2 L1520.2,477.9 L1521.2,476.7 L1522.2,475.5 L1523.3,474.3 L1524.3,473.1 L1525.3,471.9 L1526.4,470.7 L1527.4,469.5 L1528.5,468.4 L1529.5,467.2 L1530.6,466.1 L1531.7,465.0 L1532.7,463.8 L1533.8,462.8 L1534.9,461.7 L1536.0,460.6 L1537.1,459.6 L1538.2,458.6 L1539.3,457.6 L1540.4,456.6 L1541.5,455.6 L1542.7,454.7 L1543.8,453.8 L1544.9,452.9 L1546.1,452.0 L1547.2,451.2 L1548.4,450.3 L1549.6,449.5 L1550.7,448.7 L1551.9,448.0 L1553.1,447.2 L1554.3,446.5 L1555.5,445.8 L1556.7,445.1 L1557.9,444.4 L1559.2,443.7 L1560.4,443.0 L1561.7,442.4 L1562.9,441.8 L1564.2,441.1 L1565.4,440.5 L1566.7,440.0 L1568.0,439.4 L1569.3,438.8 L1570.6,438.3 L1571.9,437.7 L1573.3,437.2 L1574.6,436.6 L1575.9,436.1 L1577.3,435.6 L1578.7,435.1 L1580.0,434.6 L1581.4,434.1 L1582.8,433.7 L1584.2,433.2 L1585.6,432.7 L1587.1,432.2 L1588.5,431.8 L1589.9,431.3 L1591.4,430.9 L1592.8,430.4 L1594.2,429.9 L1595.7,429.5 L1597.1,429.0 L1598.6,428.6 L1600.1,428.1 L1601.5,427.6 L1603.0,427.1 L1604.4,426.7 L1605.9,426.2 L1607.3,425.7 L1608.8,425.2 L1610.2,424.7 L1611.7,424.2 L1613.1,423.7 L1614.6,423.1 L1616.0,422.6 L1617.4,422.1 L1618.9,421.5 L1620.3,420.9 L1621.7,420.3 L1623.1,419.7 L1624.5,419.1 L1625.9,418.5 L1627.2,417.9 L1628.6,417.2 L1629.9,416.5 L1631.3,415.8 L1632.6,415.1 L1633.9,414.4 L1635.2,413.6 L1636.5,412.9 L1637.8,412.1 L1639.0,411.2 L1640.2,410.4 L1641.5,409.5 L1642.7,408.6 L1643.9,407.7 L1645.0,406.8 L1646.2,405.9 L1647.3,404.9 L1648.4,403.9 L1649.6,402.9 L1650.7,401.9 L1651.7,400.8 L1652.8,399.8 L1653.9,398.7 L1654.9,397.6 L1655.9,396.5 L1657.0,395.4 L1658.0,394.3 L1659.0,393.2 L1660.0,392.0 L1660.9,390.8 L1661.9,389.7 L1662.9,388.5 L1663.8,387.3 L1664.8,386.1 L1665.7,384.9 L1666.6,383.7 L1667.5,382.5 L1668.4,381.3 L1669.3,380.1 L1670.2,378.9 L1671.1,377.7 L1672.0,376.4 L1672.9,375.2 L1673.8,374.0 L1674.6,372.7 L1675.5,371.5 L1676.3,370.3 L1677.2,369.0 L1678.0,367.8 L1678.9,366.5 L1679.7,365.3 L1680.5,364.0 L1681.3,362.8 L1682.1,361.5 L1683.0,360.3 L1683.8,359.0 L1684.6,357.7 L1685.4,356.5 L1686.1,355.2 L1686.9,353.9 L1687.7,352.7 L1688.5,351.4 L1689.3,350.1 L1690.0,348.8 L1690.8,347.6 L1691.6,346.3 L1692.3,345.0 L1693.1,343.7 L1693.8,342.4 L1694.6,341.1 L1695.4,339.9 L1696.1,338.6 L1696.8,337.3 L1697.6,336.0 L1698.3,334.7 L1699.1,333.4 L1699.8,332.1 L1700.5,330.8 L1701.3,329.5 L1702.0,328.2 L1702.7,326.9 L1703.4,325.6 L1704.2,324.3 L1704.9,323.0 L1705.6,321.7 L1706.3,320.4 L1707.1,319.1 L1707.8,317.8 L1708.5,316.5 L1709.2,315.1 L1709.9,313.8 L1710.7,312.5 L1711.4,311.2 L1712.1,309.9 L1712.8,308.6 L1713.5,307.3 L1714.3,306.0 L1715.0,304.7 L1715.7,303.4 L1716.4,302.0 L1717.2,300.7 L1717.9,299.4 L1718.6,298.1 L1719.3,296.8 L1720.1,295.5 L1720.8,294.2 L1721.5,292.9 L1722.3,291.6 L1723.0,290.2 L1723.7,288.9 L1724.5,287.6 L1725.2,286.3 L1726.0,285.0 L1726.7,283.7 L1727.5,282.4 L1728.2,281.1 L1729.0,279.8 L1729.7,278.5 L1730.5,277.2 L1731.2,275.9 L1732.0,274.6 L1732.8,273.3 L1733.5,272.0 L1734.3,270.7 L1735.1,269.4 L1735.9,268.1 L1736.7,266.8 L1737.5,265.6 L1738.2,264.3 L1739.0,263.0 L1739.8,261.7 L1740.6,260.5 L1741.5,259.2 L1742.3,257.9 L1743.1,256.6 L1743.9,255.4 L1744.7,254.1 L1745.5,252.9 L1746.4,251.6 L1747.2,250.4 L1748.1,249.1 L1748.9,247.9 L1749.7,246.6 L1750.6,245.4 L1751.5,244.2 L1752.3,242.9 L1753.2,241.7 L1754.1,240.5 L1754.9,239.3 L1755.8,238.1 L1756.7,236.9 L1757.6,235.7 L1758.5,234.5 L1759.4,233.3 L1760.3,232.1 L1761.2,230.9 L1762.2,229.7 L1763.1,228.6 L1764.0,227.4 L1765.0,226.3 L1765.9,225.1 L1766.8,224.0 L1767.8,222.8 L1768.8,221.7 L1769.7,220.5 L1770.7,219.4 L1771.7,218.3 L1772.7,217.2 L1773.7,216.1 L1774.7,215.0 L1775.7,213.9 L1776.7,212.8 L1777.7,211.7 L1778.7,210.6 L1779.8,209.6 L1780.8,208.5 L1781.9,207.5 L1782.9,206.4 L1784.0,205.4 L1785.1,204.3 L1786.1,203.3 L1787.2,202.3 L1788.3,201.3 L1789.4,200.3 L1790.5,199.3 L1791.7,198.3 L1792.8,197.3 L1793.9,196.4 L1795.1,195.4 L1796.2,194.5 L1797.4,193.5 L1798.5,192.6 L1799.7,191.7 L1800.9,190.7 L1802.1,189.8 L1803.3,188.9 L1804.5,188.1 L1805.7,187.2 L1806.9,186.3 L1808.2,185.4 L1809.4,184.6 L1810.7,183.7 L1811.9,182.9 L1813.2,182.1 L1814.5,181.3 L1815.7,180.5 L1817.0,179.7 L1818.3,178.9 L1819.6,178.1 L1820.9,177.4 L1822.3,176.6 L1823.6,175.9 L1824.9,175.1 L1826.3,174.4 L1827.6,173.7 L1828.9,173.0 L1830.3,172.3 L1831.7,171.6 L1833.0,171.0 L1834.4,170.3 L1835.8,169.7 L1837.1,169.0 L1838.5,168.4 L1839.9,167.8 L1841.3,167.2 L1842.7,166.6 L1844.1,166.1 L1845.5,165.5 L1846.9,165.0 L1848.3,164.4 L1849.8,163.9 L1851.2,163.4 L1852.6,162.9 L1854.0,162.4 L1855.5,161.9 L1856.9,161.5 L1858.3,161.0 L1859.8,160.6 L1861.2,160.2 L1862.6,159.8 L1864.1,159.4 L1865.5,159.0 L1867.0,158.7 L1868.4,158.3 L1869.9,158.0 L1871.3,157.6 L1872.7,157.3 L1874.2,157.0 L1875.6,156.8 L1877.1,156.5 L1878.5,156.2 L1880.0,156.0 L1962.0,156.0" stroke="#ff00ff"/>
<path d="M557.5,227.0 L638.0,227.0 L638.0,227.0 L639.6,226.8 L641.1,226.6 L642.7,226.4 L644.2,226.1 L645.7,225.8 L647.2,225.5 L648.7,225.1 L650.2,224.8 L651.6,224.4 L653.1,224.0 L654.5,223.5 L655.9,223.0 L657.3,222.6 L658.7,222.0 L660.1,221.5 L661.5,220.9 L662.9,220.4 L664.2,219.8 L665.6,219.2 L666.9,218.5 L668.2,217.9 L669.5,217.2 L670.8,216.5 L672.1,215.8 L673.4,215.1 L674.7,214.3 L676.0,213.6 L677.3,212.8 L678.5,212.0 L679.8,211.2 L681.0,210.4 L682.2,209.6 L683.5,208.8 L684.7,207.9 L685.9,207.1 L687.1,206.2 L688.3,205.3 L689.5,204.4 L690.7,203.5 L691.9,202.6 L693.1,201.7 L694.3,200.8 L695.5,199.8 L696.7,198.9 L697.8,198.0 L699.0,197.0 L700.2,196.0 L701.4,195.1 L702.5,194.1 L703.7,193.2 L704.9,192.2 L706.0,191.2 L707.2,190.2 L708.4,189.3 L709.5,188.3 L710.7,187.3 L711.8,186.3 L713.0,185.4 L714.2,184.4 L715.3,183.4 L716.5,182.4 L717.7,181.5 L718.8,180.5 L720.0,179.5 L721.2,178.6 L722.4,177.6 L723.6,176.7 L724.8,175.8 L725.9,174.8 L727.1,173.9 L728.3,173.0 L729.5,172.1 L730.8,171.2 L732.0,170.3 L733.2,169.4 L734.4,168.5 L735.7,167.6 L736.9,166.8 L738.1,165.9 L739.4,165.1 L740.7,164.3 L741.9,163.5 L743.2,162.7 L744.5,161.9 L745.8,161.2 L747.1,160.4 L748.4,159.7 L749.7,158.9 L751.0,158.2 L752.3,157.5 L753.6,156.9 L755.0,156.2 L756.3,155.6 L757.7,154.9 L759.0,154.3 L760.4,153.7 L761.7,153.1 L763.1,152.5 L764.5,152.0 L765.9,151.5 L767.3,150.9 L768.6,150.4 L770.0,149.9 L771.4,149.5 L772.9,149.0 L774.3,148.6 L775.7,148.2 L777.1,147.8 L778.5,147.4 L780.0,147.0 L781.4,146.7 L782.8,146.3 L784.3,146.0 L785.7,145.8 L787.2,145.5 L788.6,145.2 L790.1,145.0 L791.5,144.8 L793.0,144.6 L794.5,144.4 L795.9,144.3 L797.4,144.1 L798.9,144.0 L800.4,143.9 L801.8,143.9 L803.3,143.8 L804.8,143.8 L806.3,143.8 L807.8,143.8 L809.3,143.8 L810.8,143.9 L812.3,144.0 L813.8,144.1 L815.3,144.2 L816.8,144.4 L818.3,144.6 L819.8,144.8 L821.3,145.0 L822.8,145.2 L824.3,145.5 L825.8,145.8 L827.3,146.1 L828.8,146.4 L830.3,146.7 L831.9,147.1 L833.4,147.5 L834.9,147.9 L836.4,148.3 L837.8,148.7 L839.3,149.2 L840.8,149.7 L842.3,150.1 L843.8,150.6 L845.2,151.1 L846.7,151.6 L848.2,152.2 L849.6,152.7 L851.1,153.2 L852.5,153.8 L853.9,154.4 L855.4,154.9 L856.8,155.5 L858.2,156.1 L859.6,156.7 L860.9,157.3 L862.3,157.9 L863.7,158.5 L865.0,159.1 L866.4,159.7 L867.7,160.3 L869.0,161.0 L870.3,161.6 L871.6,162.3 L872.9,163.0 L874.1,163.6 L875.4,164.4 L876.6,165.1 L877.8,165.8 L879.0,166.6 L880.2,167.4 L881.4,168.2 L882.5,169.1 L883.6,169.9 L884.8,170.8 L885.9,171.7 L886.9,172.7 L888.0,173.6 L889.1,174.6 L890.1,175.6 L891.1,176.6 L892.2,177.6 L893.2,178.6 L894.1,179.7 L895.1,180.8 L896.1,181.9 L897.0,183.0 L898.0,184.1 L898.9,185.3 L899.8,186.4 L900.7,187.6 L901.6,188.8 L902.5,190.0 L903.3,191.2 L904.2,192.4 L905.0,193.7 L905.9,194.9 L906.7,196.2 L907.5,197.4 L908.3,198.7 L909.1,200.0 L909.9,201.3 L910.7,202.6 L911.5,203.9 L912.2,205.2 L913.0,206.6 L913.8,207.9 L914.5,209.2 L915.2,210.6 L916.0,211.9 L916.7,213.3 L917.4,214.6 L918.1,216.0 L918.8,217.3 L919.6,218.7 L920.3,220.0 L920.9,221.4 L921.6,222.8 L922.3,224.1 L923.0,225.5 L923.7,226.9 L924.4,228.2 L925.0,229.6 L925.7,231.0 L926.4,232.3 L927.0,233.7 L927.7,235.1 L928.3,236.5 L929.0,237.8 L929.6,239.2 L930.3,240.6 L930.9,241.9 L931.5,243.3 L932.2,244.7 L932.8,246.1 L933.4,247.5 L934.0,248.8 L934.6,250.2 L935.3,251.6 L935.9,253.0 L936.5,254.4 L937.1,255.7 L937.7,257.1 L938.3,258.5 L938.9,259.9 L939.5,261.3 L940.1,262.7 L940.7,264.0 L941.2,265.4 L941.8,266.8 L942.4,268.2 L943.0,269.6 L943.6,271.0 L944.1,272.4 L944.7,273.8 L945.3,275.1 L945.8,276.5 L946.4,277.9 L947.0,279.3 L947.5,280.7 L948.1,282.1 L948.7,283.5 L949.2,284.9 L949.8,286.3 L950.3,287.7 L950.9,289.1 L951.4,290.5 L952.0,291.8 L952.5,293.2 L953.1,294.6 L953.6,296.0 L954.2,297.4 L954.7,298.8 L955.3,300.2 L955.8,301.6 L956.3,303.0 L956.9,304.4 L957.4,305.8 L958.0,307.2 L958.5,308.6 L959.0,310.0 L959.6,311.4 L960.1,312.7 L960.7,314.1 L961.2,315.5 L961.7,316.9 L962.3,318.3 L962.8,319.7 L963.3,321.1 L963.9,322.5 L964.4,323.9 L965.0,325.3 L965.5,326.7 L966.0,328.1 L966.6,329.5 L967.1,330.9 L967.6,332.2 L968.2,333.6 L968.7,335.0 L969.3,336.4 L969.8,337.8 L970.4,339.2 L970.9,340.6 L971.4,342.0 L972.0,343.4 L972.5,344.7 L973.1,346.1 L973.6,347.5 L974.2,348.9 L974.7,350.3 L975.3,351.7 L975.8,353.1 L976.4,354.5 L977.0,355.8 L977.5,357.2 L978.1,358.6 L978.6,360.0 L979.2,361.4 L979.8,362.7 L980.3,364.1 L980.9,365.5 L981.5,366.9 L982.1,368.3 L982.6,369.6 L983.2,371.0 L983.8,372.4 L984.4,373.8 L985.0,375.1 L985.5,376.5 L986.1,377.9 L986.7,379.3 L987.3,380.6 L987.9,382.0 L988.5,383.4 L989.1,384.7 L989.7,386.1 L990.4,387.5 L991.0,388.8 L991.6,390.2 L992.2,391.6 L992.8,392.9 L993.5,394.3 L994.1,395.7 L994.7,397.0 L995.4,398.4 L996.0,399.7 L996.6,401.1 L997.3,402.4 L997.9,403.8 L998.6,405.2 L999.3,406.5 L999.9,407.9 L1000.6,409.2 L1001.3,410.5 L1001.9,411.9 L1002.6,413.2 L1003.3,414.6 L1004.0,415.9 L1004.7,417.2 L1005.4,418.6 L1006.1,419.9 L1006.8,421.2 L1007.5,422.5 L1008.2,423.9 L1009.0,425.2 L1009.7,426.5 L1010.4,427.8 L1011.2,429.1 L1011.9,430.4 L1012.7,431.7 L1013.4,433.0 L1014.2,434.3 L1015.0,435.5 L1015.8,436.8 L1016.6,438.1 L1017.4,439.4 L1018.2,440.6 L1019.0,441.9 L1019.8,443.1 L1020.6,444.4 L1021.4,445.6 L1022.3,446.9 L1023.1,448.1 L1024.0,449.3 L1024.8,450.5 L1025.7,451.7 L1026.6,452.9 L1027.5,454.1 L1028.3,455.3 L1029.2,456.5 L1030.2,457.7 L1031.1,458.9 L1032.0,460.0 L1032.9,461.2 L1033.9,462.3 L1034.8,463.5 L1035.8,464.6 L1036.8,465.7 L1037.7,466.8 L1038.7,468.0 L1039.7,469.1 L1040.7,470.1 L1041.7,471.2 L1042.8,472.3 L1043.8,473.4 L1044.8,474.4 L1045.9,475.5 L1046.9,476.5 L1048.0,477.6 L1049.1,478.6 L1050.1,479.7 L1051.2,480.7 L1052.3,481.7 L1053.4,482.7 L1054.5,483.8 L1055.5,484.8 L1056.6,485.8 L1057.7,486.8 L1058.8,487.8 L1059.9,488.9 L1061.0,489.9 L1062.1,490.9 L1063.1,491.9 L1064.2,492.9 L1065.3,494.0 L1066.4,495.0 L1067.5,496.0 L1068.5,497.1 L1069.6,498.1 L1070.6,499.2 L1071.7,500.2 L1072.7,501.3 L1073.8,502.3 L1074.8,503.4 L1075.8,504.5 L1076.8,505.6 L1077.8,506.7 L1078.8,507.8 L1079.8,508.9 L1080.8,510.0 L1081.7,511.1 L1082.7,512.3 L1083.6,513.4 L1084.5,514.6 L1085.4,515.8 L1086.3,516.9 L1087.2,518.1 L1088.1,519.3 L1089.0,520.5 L1089.9,521.7 L1090.7,522.9 L1091.6,524.2 L1092.4,525.4 L1093.3,526.6 L1094.1,527.9 L1094.9,529.1 L1095.7,530.4 L1096.5,531.7 L1097.3,532.9 L1098.1,534.2 L1098.9,535.5 L1099.6,536.8 L1100.4,538.1 L1101.2,539.4 L1101.9,540.7 L1102.6,542.0 L1103.4,543.3 L1104.1,544.6 L1104.8,546.0 L1105.6,547.3 L1106.3,548.6 L1107.0,550.0 L1107.7,551.3 L1108.4,552.7 L1109.1,554.0 L1109.8,555.4 L1110.5,556.7 L1111.1,558.1 L1111.8,559.4 L1112.5,560.8 L1113.2,562.2 L1113.8,563.5 L1114.5,564.9 L1115.2,566.3 L1115.8,567.7 L1116.5,569.1 L1117.1,570.4 L1117.8,571.8 L1118.4,573.2 L1119.1,574.6 L1119.7,576.0 L1120.3,577.3 L1121.0,578.7 L1121.6,580.1 L1122.2,581.5 L1122.9,582.9 L1123.5,584.3 L1124.1,585.7 L1124.8,587.0 L1125.4,588.4 L1126.0,589.8 L1126.7,591.2 L1127.3,592.6 L1127.9,593.9 L1128.6,595.3 L1129.2,596.7 L1129.8,598.1 L1130.5,599.4 L1131.1,600.8 L1131.7,602.2 L1132.4,603.5 L1133.0,604.9 L1133.7,606.3 L1134.3,607.6 L1134.9,609.0 L1135.6,610.3 L1136.2,611.7 L1136.9,613.0 L1137.6,614.3 L1138.2,615.7 L1138.9,617.0 L1139.5,618.3 L1140.2,619.6 L1140.9,621.0 L1141.6,622.3 L1142.2,623.6 L1142.9,624.9 L1143.6,626.2 L1144.3,627.5 L1145.0,628.8 L1145.7,630.0 L1146.4,631.3 L1147.1,632.6 L1147.8,633.9 L1148.5,635.1 L1149.3,636.4 L1150.0,637.7 L1150.7,638.9 L1151.4,640.2 L1152.2,641.5 L1152.9,642.7 L1153.6,644.0 L1154.4,645.2 L1155.1,646.5 L1155.9,647.8 L1156.6,649.0 L1157.4,650.3 L1158.1,651.5 L1158.9,652.8 L1159.6,654.0 L1160.4,655.3 L1161.1,656.6 L1161.9,657.8 L1162.7,659.1 L1163.4,660.3 L1164.2,661.6 L1165.0,662.9 L1165.8,664.1 L1166.5,665.4 L1167.3,666.7 L1168.1,668.0 L1168.9,669.2 L1169.7,670.5 L1170.5,671.8 L1171.2,673.1 L1172.0,674.4 L1172.8,675.7 L1173.6,677.0 L1174.4,678.3 L1175.2,679.6 L1176.0,680.9 L1176.9,682.2 L1177.7,683.6 L1178.5,684.9 L1179.3,686.2 L1180.2,687.5 L1181.0,688.9 L1181.9,690.2 L1182.7,691.5 L1183.6,692.9 L1184.5,694.2 L1185.4,695.5 L1186.3,696.9 L1187.2,698.2 L1188.1,699.6 L1189.1,700.9 L1190.0,702.3 L1191.0,703.6 L1192.0,704.9 L1193.0,706.2 L1194.0,707.5 L1195.0,708.8 L1196.1,710.0 L1197.1,711.2 L1198.2,712.4 L1199.3,713.5 L1200.4,714.6 L1201.6,715.6 L1202.7,716.6 L1203.9,717.5 L1205.1,718.4 L1206.3,719.2 L1207.5,719.9 L1208.8,720.6 L1210.0,721.1 L1211.2,721.6 L1212.5,722.0 L1213.8,722.4 L1215.0,722.6 L1216.3,722.7 L1217.6,722.8 L1218.9,722.7 L1220.2,722.6 L1221.5,722.3 L1222.7,722.0 L1224.0,721.6 L1225.3,721.1 L1226.6,720.5 L1227.8,719.9 L1229.1,719.2 L1230.3,718.5 L1231.5,717.7 L1232.7,716.9 L1234.0,716.0 L1235.1,715.1 L1236.3,714.2 L1237.5,713.3 L1238.6,712.3 L1239.8,711.3 L1240.9,710.2 L1242.0,709.2 L1243.1,708.1 L1244.1,706.9 L1245.2,705.8 L1246.3,704.6 L1247.3,703.5 L1248.3,702.3 L1249.3,701.0 L1250.3,699.8 L1251.3,698.5 L1252.3,697.3 L1253.3,696.0 L1254.2,694.7 L1255.2,693.4 L1256.1,692.0 L1257.0,690.7 L1257.9,689.4 L1258.8,688.0 L1259.7,686.6 L1260.5,685.3 L1261.4,683.9 L1262.3,682.5 L1263.1,681.1 L1263.9,679.8 L1264.7,678.4 L1265.6,677.0 L1266.4,675.6 L1267.1,674.2 L1267.9,672.9 L1268.7,671.5 L1269.5,670.1 L1270.2,668.8 L1271.0,667.4 L1271.7,666.1 L1272.4,664.8 L1273.1,663.4 L1273.8,662.1 L1274.6,660.8 L1275.2,659.5 L1275.9,658.2 L1276.6,656.9 L1277.3,655.6 L1278.0,654.3 L1278.7,653.0 L1279.3,651.7 L1280.0,650.4 L1280.6,649.1 L1281.3,647.8 L1281.9,646.6 L1282.6,645.3 L1283.2,644.0 L1283.9,642.7 L1284.5,641.5 L1285.2,640.2 L1285.8,638.9 L1286.5,637.7 L1287.1,636.4 L1287.8,635.1 L1288.4,633.9 L1289.0,632.6 L1289.7,631.4 L1290.3,630.1 L1291.0,628.8 L1291.6,627.5 L1292.3,626.3 L1293.0,625.0 L1293.6,623.7 L1294.3,622.4 L1295.0,621.2 L1295.6,619.9 L1296.3,618.6 L1297.0,617.3 L1297.7,616.0 L1298.4,614.7 L1299.1,613.4 L1299.8,612.1 L1300.5,610.8 L1301.3,609.5 L1302.0,608.1 L1302.8,606.8 L1303.5,605.5 L1304.3,604.1 L1305.0,602.8 L1305.8,601.4 L1306.6,600.1 L1307.4,598.7 L1308.2,597.4 L1309.1,596.1 L1309.9,594.7 L1310.8,593.4 L1311.6,592.1 L1312.5,590.7 L1313.4,589.4 L1314.3,588.1 L1315.2,586.9 L1316.2,585.6 L1317.1,584.3 L1318.1,583.1 L1319.0,581.9 L1320.0,580.6 L1321.0,579.5 L1322.1,578.3 L1323.1,577.1 L1324.2,576.0 L1325.3,574.9 L1326.3,573.8 L1327.5,572.8 L1328.6,571.8 L1329.7,570.8 L1330.9,569.8 L1332.0,568.9 L1333.2,567.9 L1334.4,567.1 L1335.6,566.2 L1336.9,565.4 L1338.1,564.6 L1339.3,563.8 L1340.6,563.1 L1341.9,562.4 L1343.2,561.8 L1344.5,561.2 L1345.8,560.6 L1347.1,560.1 L1348.5,559.6 L1349.8,559.1 L1351.2,558.7 L1352.5,558.3 L1353.9,558.0 L1355.3,557.7 L1356.7,557.5 L1358.1,557.3 L1359.5,557.1 L1360.9,557.0 L1362.4,557.0 L1363.8,556.9 L1365.3,557.0 L1366.7,557.0 L1368.2,557.1 L1369.7,557.2 L1371.1,557.4 L1372.6,557.5 L1374.1,557.7 L1375.6,557.9 L1377.1,558.1 L1378.6,558.4 L1380.1,558.6 L1381.6,558.8 L1383.1,559.1 L1384.6,559.3 L1386.1,559.6 L1387.7,559.8 L1389.2,560.0 L1390.7,560.2 L1392.2,560.4 L1393.7,560.5 L1395.2,560.7 L1396.8,560.8 L1398.3,560.8 L1399.8,560.9 L1401.3,560.9 L1402.8,560.9 L1404.3,560.8 L1405.8,560.7 L1407.3,560.6 L1408.8,560.4 L1410.3,560.2 L1411.7,559.9 L1413.2,559.7 L1414.7,559.4 L1416.1,559.0 L1417.6,558.7 L1419.1,558.3 L1420.5,557.9 L1421.9,557.4 L1423.4,556.9 L1424.8,556.4 L1426.2,555.9 L1427.6,555.4 L1429.0,554.8 L1430.4,554.2 L1431.8,553.5 L1433.1,552.9 L1434.5,552.2 L1435.9,551.5 L1437.2,550.8 L1438.5,550.1 L1439.8,549.3 L1441.1,548.6 L1442.4,547.8 L1443.7,547.0 L1445.0,546.1 L1446.2,545.3 L1447.5,544.4 L1448.7,543.6 L1450.0,542.7 L1451.2,541.8 L1452.4,540.8 L1453.6,539.9 L1454.8,539.0 L1456.0,538.0 L1457.1,537.0 L1458.3,536.0 L1459.5,535.1 L1460.6,534.0 L1461.8,533.0 L1462.9,532.0 L1464.0,531.0 L1465.1,529.9 L1466.3,528.9 L1467.4,527.8 L1468.5,526.7 L1469.6,525.7 L1470.6,524.6 L1471.7,523.5 L1472.8,522.4 L1473.9,521.3 L1474.9,520.2 L1476.0,519.1 L1477.1,518.0 L1478.1,516.9 L1479.2,515.7 L1480.2,514.6 L1481.3,513.5 L1482.3,512.4 L1483.3,511.3 L1484.4,510.1 L1485.4,509.0 L1486.5,507.9 L1487.5,506.8 L1488.5,505.6 L1489.5,504.5 L1490.6,503.4 L1491.6,502.3 L1492.6,501.2 L1493.6,500.1 L1494.7,499.0 L1495.7,497.9 L1496.7,496.8 L1497.7,495.7 L1498.8,494.7 L1499.8,493.6 L1500.8,492.5 L1501.9,491.5 L1502.9,490.4 L1503.9,489.4 L1505.0,488.4 L1506.0,487.4 L1507.1,486.3 L1508.2,485.4 L1509.2,484.4 L1510.3,483.4 L1511.4,482.4 L1512.5,481.5 L1513.6,480.6 L1514.7,479.6 L1515.8,478.7 L1517.0,477.9 L1518.1,477.0 L1519.3,476.1 L1520.5,475.3 L1521.6,474.5 L1522.8,473.7 L1524.1,472.9 L1525.3,472.1 L1526.5,471.3 L1527.8,470.6 L1529.0,469.9 L1530.3,469.2 L1531.6,468.5 L1532.9,467.8 L1534.2,467.2 L1535.6,466.6 L1536.9,465.9 L1538.3,465.3 L1539.6,464.7 L1541.0,464.1 L1542.4,463.5 L1543.8,463.0 L1545.1,462.4 L1546.5,461.9 L1548.0,461.3 L1549.4,460.8 L1550.8,460.3 L1552.2,459.7 L1553.7,459.2 L1555.1,458.7 L1556.5,458.2 L1558.0,457.7 L1559.4,457.2 L1560.9,456.7 L1562.3,456.2 L1563.8,455.7 L1565.2,455.3 L1566.7,454.8 L1568.1,454.3 L1569.6,453.8 L1571.1,453.3 L1572.5,452.8 L1574.0,452.3 L1575.4,451.8 L1576.9,451.3 L1578.3,450.8 L1579.8,450.3 L1581.2,449.7 L1582.6,449.2 L1584.1,448.7 L1585.5,448.1 L1586.9,447.6 L1588.3,447.0 L1589.7,446.5 L1591.1,445.9 L1592.5,445.3 L1593.9,444.7 L1595.3,444.1 L1596.6,443.4 L1598.0,442.8 L1599.3,442.1 L1600.6,441.4 L1602.0,440.7 L1603.3,440.0 L1604.6,439.3 L1605.9,438.6 L1607.1,437.8 L1608.4,437.1 L1609.7,436.3 L1610.9,435.5 L1612.1,434.7 L1613.4,433.9 L1614.6,433.0 L1615.8,432.2 L1617.0,431.3 L1618.2,430.5 L1619.4,429.6 L1620.5,428.7 L1621.7,427.8 L1622.8,426.8 L1624.0,425.9 L1625.1,425.0 L1626.2,424.0 L1627.3,423.0 L1628.4,422.0 L1629.5,421.1 L1630.6,420.1 L1631.7,419.0 L1632.7,418.0 L1633.8,417.0 L1634.8,415.9 L1635.9,414.9 L1636.9,413.8 L1637.9,412.7 L1638.9,411.7 L1640.0,410.6 L1641.0,409.5 L1641.9,408.3 L1642.9,407.2 L1643.9,406.1 L1644.9,405.0 L1645.8,403.8 L1646.8,402.7 L1647.7,401.5 L1648.7,400.3 L1649.6,399.2 L1650.5,398.0 L1651.4,396.8 L1652.3,395.6 L1653.2,394.4 L1654.1,393.2 L1655.0,392.0 L1655.9,390.8 L1656.8,389.5 L1657.6,388.3 L1658.5,387.1 L1659.4,385.8 L1660.2,384.6 L1661.1,383.3 L1661.9,382.1 L1662.7,380.8 L1663.6,379.5 L1664.4,378.3 L1665.2,377.0 L1666.0,375.7 L1666.8,374.4 L1667.6,373.1 L1668.4,371.9 L1669.2,370.6 L1670.0,369.3 L1670.7,368.0 L1671.5,366.7 L1672.3,365.4 L1673.0,364.1 L1673.8,362.8 L1674.5,361.5 L1675.3,360.2 L1676.0,358.8 L1676.8,357.5 L1677.5,356.2 L1678.2,354.9 L1679.0,353.6 L1679.7,352.3 L1680.4,351.0 L1681.1,349.7 L1681.8,348.3 L1682.5,347.0 L1683.2,345.7 L1683.9,344.4 L1684.6,343.1 L1685.3,341.8 L1686.0,340.4 L1686.7,339.1 L1687.4,337.8 L1688.1,336.5 L1688.8,335.2 L1689.5,333.9 L1690.1,332.5 L1690.8,331.2 L1691.5,329.9 L1692.2,328.6 L1692.8,327.3 L1693.5,325.9 L1694.2,324.6 L1694.8,323.3 L1695.5,322.0 L1696.2,320.7 L1696.8,319.3 L1697.5,318.0 L1698.2,316.7 L1698.8,315.4 L1699.5,314.1 L1700.2,312.7 L1700.8,311.4 L1701.5,310.1 L1702.2,308.8 L1702.8,307.5 L1703.5,306.1 L1704.2,304.8 L1704.9,303.5 L1705.5,302.2 L1706.2,300.9 L1706.9,299.5 L1707.6,298.2 L1708.2,296.9 L1708.9,295.6 L1709.6,294.3 L1710.3,292.9 L1711.0,291.6 L1711.7,290.3 L1712.3,289.0 L1713.0,287.7 L1713.7,286.4 L1714.4,285.1 L1715.1,283.7 L1715.8,282.4 L1716.6,281.1 L1717.3,279.8 L1718.0,278.5 L1718.7,277.2 L1719.4,275.9 L1720.2,274.6 L1720.9,273.2 L1721.6,271.9 L1722.4,270.6 L1723.1,269.3 L1723.9,268.0 L1724.6,266.7 L1725.4,265.4 L1726.2,264.1 L1726.9,262.8 L1727.7,261.5 L1728.5,260.2 L1729.3,258.9 L1730.1,257.6 L1730.9,256.3 L1731.7,255.0 L1732.5,253.7 L1733.3,252.4 L1734.1,251.1 L1735.0,249.8 L1735.8,248.6 L1736.7,247.3 L1737.5,246.0 L1738.3,244.7 L1739.2,243.4 L1740.1,242.2 L1740.9,240.9 L1741.8,239.6 L1742.7,238.4 L1743.6,237.1 L1744.5,235.9 L1745.4,234.6 L1746.3,233.4 L1747.2,232.1 L1748.1,230.9 L1749.0,229.7 L1749.9,228.5 L1750.9,227.2 L1751.8,226.0 L1752.7,224.8 L1753.7,223.6 L1754.7,222.4 L1755.6,221.2 L1756.6,220.1 L1757.6,218.9 L1758.5,217.7 L1759.5,216.5 L1760.5,215.4 L1761.5,214.2 L1762.5,213.1 L1763.5,212.0 L1764.5,210.8 L1765.5,209.7 L1766.6,208.6 L1767.6,207.5 L1768.6,206.4 L1769.7,205.3 L1770.7,204.2 L1771.8,203.2 L1772.9,202.1 L1773.9,201.1 L1775.0,200.0 L1776.1,199.0 L1777.2,198.0 L1778.3,196.9 L1779.4,195.9 L1780.5,194.9 L1781.6,194.0 L1782.7,193.0 L1783.8,192.0 L1784.9,191.1 L1786.1,190.1 L1787.2,189.2 L1788.4,188.3 L1789.5,187.4 L1790.7,186.5 L1791.9,185.6 L1793.0,184.7 L1794.2,183.9 L1795.4,183.0 L1796.6,182.2 L1797.8,181.4 L1799.0,180.5 L1800.2,179.8 L1801.4,179.0 L1802.6,178.2 L1803.9,177.4 L1805.1,176.7 L1806.4,176.0 L1807.6,175.2 L1808.9,174.5 L1810.1,173.8 L1811.4,173.2 L1812.7,172.5 L1813.9,171.8 L1815.2,171.2 L1816.5,170.5 L1817.8,169.9 L1819.1,169.3 L1820.4,168.7 L1821.8,168.1 L1823.1,167.5 L1824.4,167.0 L1825.8,166.4 L1827.1,165.8 L1828.5,165.3 L1829.8,164.8 L1831.2,164.3 L1832.6,163.8 L1833.9,163.3 L1835.3,162.8 L1836.7,162.3 L1838.1,161.8 L1839.5,161.4 L1840.9,160.9 L1842.3,160.5 L1843.8,160.0 L1845.2,159.6 L1846.6,159.2 L1848.1,158.8 L1849.5,158.4 L1851.0,158.0 L1852.5,157.6 L1853.9,157.3 L1855.4,156.9 L1856.9,156.5 L1858.4,156.2 L1859.9,155.8 L1861.4,155.5 L1862.9,155.2 L1864.4,154.9 L1866.0,154.5 L1867.5,154.2 L1869.0,153.9 L1870.6,153.6 L1872.1,153.3 L1873.7,153.1 L1875.3,152.8 L1876.8,152.5 L1878.4,152.3 L1880.0,152.0 L1962.0,152.0" stroke="#808000"/>
</g>
<g stroke="#000" stroke-width="6" stroke-linecap="round">
<line x1="375.2" y1="53.3" x2="375.2" y2="1251.7"/>
<line x1="374.2" y1="1251.7" x2="2086.7" y2="1251.7"/>
<line x1="363.2" y1="53.3" x2="375.2" y2="53.3"/>
<line x1="351.2" y1="128.2" x2="375.2" y2="128.2"/>
<line x1="363.2" y1="203.1" x2="375.2" y2="203.1"/>
<line x1="351.2" y1="278.0" x2="375.2" y2="278.0"/>
<line x1="363.2" y1="352.9" x2="375.2" y2="352.9"/>
<line x1="351.2" y1="427.8" x2="375.2" y2="427.8"/>
<line x1="363.2" y1="502.7" x2="375.2" y2="502.7"/>
<line x1="351.2" y1="577.6" x2="375.2" y2="577.6"/>
<line x1="363.2" y1="652.5" x2="375.2" y2="652.5"/>
<line x1="351.2" y1="727.4" x2="375.2" y2="727.4"/>
<line x1="363.2" y1="802.3" x2="375.2" y2="802.3"/>
<line x1="351.2" y1="877.2" x2="375.2" y2="877.2"/>
<line x1="363.2" y1="952.1" x2="375.2" y2="952.1"/>
<line x1="351.2" y1="1027.0" x2="375.2" y2="1027.0"/>
<line x1="363.2" y1="1101.9" x2="375.2" y2="1101.9"/>
<line x1="351.2" y1="1176.8" x2="375.2" y2="1176.8"/>
<line x1="363.2" y1="1251.7" x2="375.2" y2="1251.7"/>
<line x1="374.2" y1="1251.7" x2="374.2" y2="1264.7"/>
<line x1="496.5" y1="1251.7" x2="496.5" y2="1276.7"/>
<line x1="618.8" y1="1251.7" x2="618.8" y2="1264.7"/>
<line x1="741.1" y1="1251.7" x2="741.1" y2="1276.7"/>
<line x1="863.5" y1="1251.7" x2="863.5" y2="1264.7"/>
<line x1="985.8" y1="1251.7" x2="985.8" y2="1276.7"/>
<line x1="1108.1" y1="1251.7" x2="1108.1" y2="1264.7"/>
<line x1="1230.4" y1="1251.7" x2="1230.4" y2="1276.7"/>
<line x1="1352.8" y1="1251.7" x2="1352.8" y2="1264.7"/>
<line x1="1475.1" y1="1251.7" x2="1475.1" y2="1276.7"/>
<line x1="1597.4" y1="1251.7" x2="1597.4" y2="1264.7"/>
<line x1="1719.8" y1="1251.7" x2="1719.8" y2="1276.7"/>
<line x1="1842.1" y1="1251.7" x2="1842.1" y2="1264.7"/>
<line x1="1964.4" y1="1251.7" x2="1964.4" y2="1276.7"/>
<line x1="2086.7" y1="1251.7" x2="2086.7" y2="1264.7"/>
</g>
<g class="tl">
<text x="332.5" y="145.0" text-anchor="end">0.000</text>
<text x="332.5" y="294.8" text-anchor="end">-0.001</text>
<text x="332.5" y="444.6" text-anchor="end">-0.002</text>
<text x="332.5" y="594.4" text-anchor="end">-0.003</text>
<text x="332.5" y="744.2" text-anchor="end">-0.004</text>
<text x="332.5" y="894.0" text-anchor="end">-0.005</text>
<text x="332.5" y="1043.8" text-anchor="end">-0.006</text>
<text x="332.5" y="1193.6" text-anchor="end">-0.007</text>
<text x="495.0" y="1339.5" text-anchor="middle">0</text>
<text x="739.6" y="1339.5" text-anchor="middle">100</text>
<text x="984.3" y="1339.5" text-anchor="middle">200</text>
<text x="1228.9" y="1339.5" text-anchor="middle">300</text>
<text x="1473.6" y="1339.5" text-anchor="middle">400</text>
<text x="1718.2" y="1339.5" text-anchor="middle">500</text>
<text x="1962.9" y="1339.5" text-anchor="middle">600</text>
</g>
<text style="font-size:66px" x="995.7" y="1488.5">Temperature</text>
<text class="br" transform="translate(1349.4,1491) scale(0.85,1.14)">[</text>
<text style="font-size:64px" x="1368.9" y="1456">o</text>
<text style="font-size:66px" x="1401.9" y="1488.5">C</text>
<text class="br" transform="translate(1445.3,1491) scale(0.85,1.14)">]</text>
<g transform="translate(89.1,842.3) rotate(-90)">
<text style="font-size:65px" x="-2" y="0">dm/dT</text>
<text class="br" transform="translate(187.8,2.5) scale(0.85,1.14)">[</text>
<text style="font-size:65px" x="206" y="0">g/</text>
<text style="font-size:64px" x="257.4" y="-33.7">o</text>
<text style="font-size:66px" x="289.5" y="0">C</text>
<text class="br" transform="translate(332.5,2.5) scale(0.85,1.14)">]</text>
</g>
<rect x="1543.5" y="646.7" width="838.5" height="581.8" fill="none" stroke="#000" stroke-width="3"/>
<line x1="1554.5" y1="686.5" x2="1693.5" y2="686.5" stroke="#000000" stroke-width="9" stroke-linecap="round"/>
<text x="1708" y="706.3" class="lg">(CS<tspan dy="23">O</tspan><tspan dy="-23">+ GL+ GLYC)+ EC; 2%</tspan></text>
<line x1="1554.5" y1="784.0" x2="1693.5" y2="784.0" stroke="#ff0000" stroke-width="9" stroke-linecap="round"/>
<text x="1708" y="803.8" class="lg">(CS<tspan dy="23">O</tspan><tspan dy="-23">+ GL+ GLYC)+ EC; 3%</tspan></text>
<line x1="1554.5" y1="881.6" x2="1693.5" y2="881.6" stroke="#0000ff" stroke-width="9" stroke-linecap="round"/>
<text x="1708" y="901.4" class="lg">(CS<tspan dy="23">O</tspan><tspan dy="-23">+ GL)+ EC; 2%</tspan></text>
<line x1="1554.5" y1="979.1" x2="1693.5" y2="979.1" stroke="#008080" stroke-width="9" stroke-linecap="round"/>
<text x="1708" y="998.9" class="lg">(CS<tspan dy="23">O</tspan><tspan dy="-23">+ GL)+ EC; 3%</tspan></text>
<line x1="1554.5" y1="1076.7" x2="1693.5" y2="1076.7" stroke="#ff00ff" stroke-width="9" stroke-linecap="round"/>
<text x="1708" y="1096.5" class="lg">(CS<tspan dy="23">O</tspan><tspan dy="-23">+ GL+ EC); 2%</tspan></text>
<line x1="1554.5" y1="1174.2" x2="1693.5" y2="1174.2" stroke="#808000" stroke-width="9" stroke-linecap="round"/>
<text x="1708" y="1194.0" class="lg">(CS<tspan dy="23">O</tspan><tspan dy="-23">+ GL+ EC); 3%</tspan></text>
</svg>
</body></html>
